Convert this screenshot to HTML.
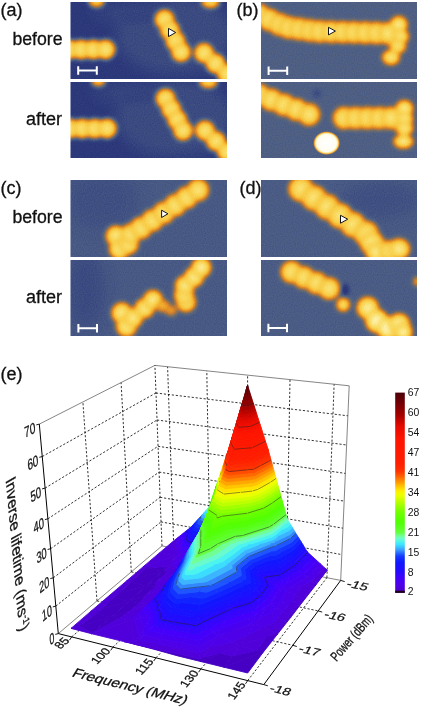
<!DOCTYPE html>
<html><head><meta charset="utf-8"><style>
html,body{margin:0;padding:0;background:#fff;width:422px;height:709px;overflow:hidden}
svg{display:block;position:absolute;left:0;top:0;will-change:transform}
text{font-family:"Liberation Sans",sans-serif; fill:#111;stroke:#111;stroke-width:0.3px}
</style></head><body>
<svg width="422" height="709" viewBox="0 0 422 709">
<defs>
<filter id="stm" color-interpolation-filters="sRGB"><feGaussianBlur in="SourceGraphic" stdDeviation="2.4" result="bl"/><feTurbulence type="fractalNoise" baseFrequency="0.9" numOctaves="1" seed="3" result="n"/><feColorMatrix in="n" type="matrix" values="0 0 0 0 0.5  0 0 0 0 0.5  0 0 0 0 0.5  0 0 0 0 1" result="n0"/><feColorMatrix in="n" type="matrix" values="1 0 0 0 0  1 0 0 0 0  1 0 0 0 0  0 0 0 0 1" result="ng"/><feComposite in="bl" in2="ng" operator="arithmetic" k1="0" k2="1" k3="0.09" k4="-0.045" result="s"/><feComponentTransfer in="s"><feFuncR type="table" tableValues="0.125 0.196 0.306 0.490 0.753 0.902 0.957 0.973 0.980 0.992 1.000"/><feFuncG type="table" tableValues="0.157 0.251 0.376 0.439 0.478 0.569 0.698 0.800 0.863 0.933 1.000"/><feFuncB type="table" tableValues="0.439 0.494 0.525 0.376 0.204 0.149 0.188 0.282 0.392 0.627 0.980"/></feComponentTransfer></filter>
<filter id="soft" x="-50%" y="-50%" width="200%" height="200%"><feGaussianBlur stdDeviation="7"/></filter>
<clipPath id="cpab"><rect x="70.5" y="2" width="156.5" height="77"/></clipPath>
<clipPath id="cpaa"><rect x="70.5" y="82" width="156.5" height="76"/></clipPath>
<clipPath id="cpbb"><rect x="261" y="2" width="156" height="77"/></clipPath>
<clipPath id="cpba"><rect x="261" y="82" width="156" height="76"/></clipPath>
<clipPath id="cpcb"><rect x="70.5" y="180" width="156.5" height="77"/></clipPath>
<clipPath id="cpca"><rect x="70.5" y="260" width="156.5" height="76"/></clipPath>
<clipPath id="cpdb"><rect x="261" y="180" width="156" height="77"/></clipPath>
<clipPath id="cpda"><rect x="261" y="260" width="156" height="76"/></clipPath>
<radialGradient id="bg056"><stop offset="0" stop-color="rgb(156,156,156)"/><stop offset="0.4" stop-color="rgb(140,140,140)"/><stop offset="0.75" stop-color="rgb(120,120,120)"/><stop offset="1" stop-color="rgb(103,103,103)"/></radialGradient>
<radialGradient id="bg062"><stop offset="0" stop-color="rgb(172,172,172)"/><stop offset="0.4" stop-color="rgb(155,155,155)"/><stop offset="0.75" stop-color="rgb(133,133,133)"/><stop offset="1" stop-color="rgb(114,114,114)"/></radialGradient>
<radialGradient id="bg070"><stop offset="0" stop-color="rgb(195,195,195)"/><stop offset="0.4" stop-color="rgb(175,175,175)"/><stop offset="0.75" stop-color="rgb(150,150,150)"/><stop offset="1" stop-color="rgb(129,129,129)"/></radialGradient>
<radialGradient id="bg072"><stop offset="0" stop-color="rgb(200,200,200)"/><stop offset="0.4" stop-color="rgb(180,180,180)"/><stop offset="0.75" stop-color="rgb(154,154,154)"/><stop offset="1" stop-color="rgb(132,132,132)"/></radialGradient>
<radialGradient id="bg074"><stop offset="0" stop-color="rgb(206,206,206)"/><stop offset="0.4" stop-color="rgb(185,185,185)"/><stop offset="0.75" stop-color="rgb(159,159,159)"/><stop offset="1" stop-color="rgb(136,136,136)"/></radialGradient>
<radialGradient id="bg080"><stop offset="0" stop-color="rgb(222,222,222)"/><stop offset="0.4" stop-color="rgb(200,200,200)"/><stop offset="0.75" stop-color="rgb(171,171,171)"/><stop offset="1" stop-color="rgb(147,147,147)"/></radialGradient>
<radialGradient id="bg082"><stop offset="0" stop-color="rgb(228,228,228)"/><stop offset="0.4" stop-color="rgb(205,205,205)"/><stop offset="0.75" stop-color="rgb(176,176,176)"/><stop offset="1" stop-color="rgb(151,151,151)"/></radialGradient>
<radialGradient id="bg084"><stop offset="0" stop-color="rgb(233,233,233)"/><stop offset="0.4" stop-color="rgb(210,210,210)"/><stop offset="0.75" stop-color="rgb(180,180,180)"/><stop offset="1" stop-color="rgb(154,154,154)"/></radialGradient>
<radialGradient id="bg085"><stop offset="0" stop-color="rgb(236,236,236)"/><stop offset="0.4" stop-color="rgb(212,212,212)"/><stop offset="0.75" stop-color="rgb(182,182,182)"/><stop offset="1" stop-color="rgb(156,156,156)"/></radialGradient>
<radialGradient id="bg086"><stop offset="0" stop-color="rgb(239,239,239)"/><stop offset="0.4" stop-color="rgb(215,215,215)"/><stop offset="0.75" stop-color="rgb(184,184,184)"/><stop offset="1" stop-color="rgb(158,158,158)"/></radialGradient>
<radialGradient id="bg087"><stop offset="0" stop-color="rgb(242,242,242)"/><stop offset="0.4" stop-color="rgb(217,217,217)"/><stop offset="0.75" stop-color="rgb(186,186,186)"/><stop offset="1" stop-color="rgb(160,160,160)"/></radialGradient>
<radialGradient id="bg088"><stop offset="0" stop-color="rgb(245,245,245)"/><stop offset="0.4" stop-color="rgb(220,220,220)"/><stop offset="0.75" stop-color="rgb(188,188,188)"/><stop offset="1" stop-color="rgb(162,162,162)"/></radialGradient>
<radialGradient id="bg090"><stop offset="0" stop-color="rgb(250,250,250)"/><stop offset="0.4" stop-color="rgb(225,225,225)"/><stop offset="0.75" stop-color="rgb(193,193,193)"/><stop offset="1" stop-color="rgb(165,165,165)"/></radialGradient>
<radialGradient id="bg093"><stop offset="0" stop-color="rgb(258,258,258)"/><stop offset="0.4" stop-color="rgb(232,232,232)"/><stop offset="0.75" stop-color="rgb(199,199,199)"/><stop offset="1" stop-color="rgb(171,171,171)"/></radialGradient>
<radialGradient id="bg095"><stop offset="0" stop-color="rgb(264,264,264)"/><stop offset="0.4" stop-color="rgb(237,237,237)"/><stop offset="0.75" stop-color="rgb(203,203,203)"/><stop offset="1" stop-color="rgb(174,174,174)"/></radialGradient>
</defs>
<g clip-path="url(#cpab)"><g filter="url(#stm)">
<rect x="62" y="-6" width="172" height="93" fill="rgb(18,18,18)"/>
<g filter="url(#soft)">
<ellipse cx="175.0" cy="35.0" rx="60.0" ry="40.0" fill="rgb(34,34,34)"/>
<ellipse cx="130.0" cy="12.0" rx="40.0" ry="12.0" fill="rgb(31,31,31)"/>
</g>
<ellipse cx="69.0" cy="49.5" rx="9.9" ry="9.9" fill="url(#bg082)"/>
<ellipse cx="81.2" cy="49.5" rx="9.9" ry="9.9" fill="url(#bg082)"/>
<ellipse cx="93.3" cy="49.5" rx="9.9" ry="9.9" fill="url(#bg082)"/>
<ellipse cx="105.5" cy="49.5" rx="9.9" ry="9.9" fill="url(#bg082)"/>
<ellipse cx="96.5" cy="1.0" rx="8.3" ry="6.2" fill="url(#bg072)"/>
<ellipse cx="164.5" cy="19.5" rx="9.9" ry="9.9" fill="url(#bg082)"/>
<ellipse cx="170.0" cy="30.3" rx="9.9" ry="9.9" fill="url(#bg082)"/>
<ellipse cx="175.5" cy="41.2" rx="9.9" ry="9.9" fill="url(#bg082)"/>
<ellipse cx="181.0" cy="52.0" rx="9.9" ry="9.9" fill="url(#bg082)"/>
<ellipse cx="210.5" cy="2.0" rx="9.4" ry="6.2" fill="url(#bg074)"/>
<ellipse cx="204.0" cy="53.0" rx="9.9" ry="9.9" fill="url(#bg082)"/>
<ellipse cx="215.5" cy="63.5" rx="9.9" ry="9.9" fill="url(#bg082)"/>
<ellipse cx="227.0" cy="74.0" rx="9.9" ry="9.9" fill="url(#bg082)"/>
</g></g>
<g clip-path="url(#cpaa)"><g filter="url(#stm)">
<rect x="62" y="74" width="172" height="92" fill="rgb(18,18,18)"/>
<g filter="url(#soft)">
<ellipse cx="175.0" cy="118.0" rx="60.0" ry="40.0" fill="rgb(36,36,36)"/>
<ellipse cx="130.0" cy="92.0" rx="40.0" ry="12.0" fill="rgb(31,31,31)"/>
</g>
<ellipse cx="70.0" cy="128.5" rx="9.9" ry="9.9" fill="url(#bg082)"/>
<ellipse cx="82.3" cy="128.5" rx="9.9" ry="9.9" fill="url(#bg082)"/>
<ellipse cx="94.7" cy="128.5" rx="9.9" ry="9.9" fill="url(#bg082)"/>
<ellipse cx="107.0" cy="128.5" rx="9.9" ry="9.9" fill="url(#bg082)"/>
<ellipse cx="98.4" cy="81.0" rx="7.3" ry="5.2" fill="url(#bg070)"/>
<ellipse cx="165.5" cy="98.5" rx="9.9" ry="9.9" fill="url(#bg082)"/>
<ellipse cx="171.3" cy="109.2" rx="9.9" ry="9.9" fill="url(#bg082)"/>
<ellipse cx="177.2" cy="119.8" rx="9.9" ry="9.9" fill="url(#bg082)"/>
<ellipse cx="183.0" cy="130.5" rx="9.9" ry="9.9" fill="url(#bg082)"/>
<ellipse cx="208.4" cy="82.0" rx="9.4" ry="6.2" fill="url(#bg074)"/>
<ellipse cx="205.0" cy="130.5" rx="9.9" ry="9.9" fill="url(#bg082)"/>
<ellipse cx="216.0" cy="141.2" rx="9.9" ry="9.9" fill="url(#bg082)"/>
<ellipse cx="227.0" cy="152.0" rx="9.9" ry="9.9" fill="url(#bg082)"/>
</g></g>
<g clip-path="url(#cpbb)"><g filter="url(#stm)">
<rect x="253" y="-6" width="172" height="93" fill="rgb(51,51,51)"/>
<ellipse cx="259.0" cy="15.0" rx="10.9" ry="10.9" fill="url(#bg082)"/>
<ellipse cx="269.4" cy="19.8" rx="10.9" ry="10.9" fill="url(#bg082)"/>
<ellipse cx="279.7" cy="24.5" rx="10.9" ry="10.9" fill="url(#bg082)"/>
<ellipse cx="289.0" cy="27.5" rx="10.9" ry="10.9" fill="url(#bg082)"/>
<ellipse cx="299.5" cy="29.0" rx="10.9" ry="10.9" fill="url(#bg082)"/>
<ellipse cx="310.0" cy="30.5" rx="10.9" ry="10.9" fill="url(#bg082)"/>
<ellipse cx="320.0" cy="31.5" rx="10.9" ry="10.9" fill="url(#bg082)"/>
<ellipse cx="331.3" cy="31.8" rx="10.9" ry="10.9" fill="url(#bg082)"/>
<ellipse cx="342.7" cy="32.1" rx="10.9" ry="10.9" fill="url(#bg082)"/>
<ellipse cx="354.0" cy="32.4" rx="10.9" ry="10.9" fill="url(#bg082)"/>
<ellipse cx="365.3" cy="32.7" rx="10.9" ry="10.9" fill="url(#bg082)"/>
<ellipse cx="376.7" cy="33.0" rx="10.9" ry="10.9" fill="url(#bg082)"/>
<ellipse cx="388.0" cy="33.3" rx="10.9" ry="10.9" fill="url(#bg082)"/>
<ellipse cx="398.7" cy="24.5" rx="8.8" ry="8.3" fill="url(#bg086)"/>
<ellipse cx="400.5" cy="36.5" rx="8.3" ry="7.3" fill="url(#bg084)"/>
<ellipse cx="397.7" cy="46.0" rx="8.3" ry="7.3" fill="url(#bg082)"/>
<ellipse cx="391.0" cy="57.5" rx="8.8" ry="7.3" fill="url(#bg084)"/>
</g></g>
<g clip-path="url(#cpba)"><g filter="url(#stm)">
<rect x="253" y="74" width="172" height="92" fill="rgb(51,51,51)"/>
<ellipse cx="317.0" cy="93.5" rx="3.5" ry="3.5" fill="rgb(26,26,26)"/>
<ellipse cx="259.0" cy="95.0" rx="10.9" ry="10.9" fill="url(#bg082)"/>
<ellipse cx="271.5" cy="99.9" rx="10.9" ry="10.9" fill="url(#bg082)"/>
<ellipse cx="284.0" cy="104.8" rx="10.9" ry="10.9" fill="url(#bg082)"/>
<ellipse cx="296.5" cy="109.6" rx="10.9" ry="10.9" fill="url(#bg082)"/>
<ellipse cx="309.0" cy="114.5" rx="10.9" ry="10.9" fill="url(#bg082)"/>
<ellipse cx="344.0" cy="118.0" rx="10.9" ry="10.9" fill="url(#bg082)"/>
<ellipse cx="355.8" cy="118.0" rx="10.9" ry="10.9" fill="url(#bg082)"/>
<ellipse cx="367.5" cy="118.0" rx="10.9" ry="10.9" fill="url(#bg082)"/>
<ellipse cx="379.2" cy="118.0" rx="10.9" ry="10.9" fill="url(#bg082)"/>
<ellipse cx="391.0" cy="118.0" rx="10.9" ry="10.9" fill="url(#bg082)"/>
<ellipse cx="404.4" cy="108.5" rx="8.8" ry="8.3" fill="url(#bg086)"/>
<ellipse cx="404.4" cy="119.0" rx="8.8" ry="7.3" fill="url(#bg085)"/>
<ellipse cx="404.4" cy="128.4" rx="8.8" ry="7.3" fill="url(#bg084)"/>
<ellipse cx="403.4" cy="141.5" rx="9.9" ry="6.8" fill="url(#bg086)"/>
</g></g>
<g clip-path="url(#cpcb)"><g filter="url(#stm)">
<rect x="62" y="172" width="172" height="93" fill="rgb(46,46,46)"/>
<g filter="url(#soft)">
<ellipse cx="100.0" cy="200.0" rx="40.0" ry="30.0" fill="rgb(38,38,38)"/>
</g>
<ellipse cx="116.0" cy="236.0" rx="10.4" ry="10.4" fill="url(#bg084)"/>
<ellipse cx="119.5" cy="249.0" rx="10.4" ry="10.4" fill="url(#bg086)"/>
<ellipse cx="128.0" cy="244.0" rx="10.4" ry="10.4" fill="url(#bg084)"/>
<ellipse cx="131.0" cy="234.0" rx="10.4" ry="10.4" fill="url(#bg084)"/>
<ellipse cx="141.0" cy="228.0" rx="10.9" ry="10.9" fill="url(#bg082)"/>
<ellipse cx="152.4" cy="220.4" rx="10.9" ry="10.9" fill="url(#bg082)"/>
<ellipse cx="163.8" cy="212.8" rx="10.9" ry="10.9" fill="url(#bg082)"/>
<ellipse cx="175.2" cy="205.2" rx="10.9" ry="10.9" fill="url(#bg082)"/>
<ellipse cx="186.6" cy="197.6" rx="10.9" ry="10.9" fill="url(#bg082)"/>
<ellipse cx="198.0" cy="190.0" rx="10.9" ry="10.9" fill="url(#bg082)"/>
</g></g>
<g clip-path="url(#cpca)"><g filter="url(#stm)">
<rect x="62" y="252" width="172" height="92" fill="rgb(46,46,46)"/>
<g filter="url(#soft)">
<ellipse cx="85.0" cy="290.0" rx="20.0" ry="40.0" fill="rgb(33,33,33)"/>
</g>
<ellipse cx="121.8" cy="313.0" rx="10.4" ry="10.4" fill="url(#bg085)"/>
<ellipse cx="126.5" cy="326.4" rx="10.4" ry="10.4" fill="url(#bg085)"/>
<ellipse cx="133.0" cy="318.0" rx="9.9" ry="9.9" fill="url(#bg084)"/>
<ellipse cx="144.5" cy="308.3" rx="9.9" ry="9.9" fill="url(#bg084)"/>
<ellipse cx="153.0" cy="300.0" rx="9.9" ry="9.9" fill="url(#bg085)"/>
<ellipse cx="163.0" cy="306.0" rx="7.3" ry="6.2" fill="url(#bg062)"/>
<ellipse cx="171.0" cy="310.5" rx="6.2" ry="5.2" fill="url(#bg056)"/>
<ellipse cx="186.0" cy="302.0" rx="9.9" ry="9.9" fill="url(#bg084)"/>
<ellipse cx="184.0" cy="295.0" rx="9.9" ry="9.9" fill="url(#bg084)"/>
<ellipse cx="185.0" cy="285.5" rx="9.9" ry="9.9" fill="url(#bg085)"/>
<ellipse cx="194.0" cy="277.0" rx="9.9" ry="9.9" fill="url(#bg086)"/>
<ellipse cx="201.3" cy="267.5" rx="9.9" ry="9.9" fill="url(#bg087)"/>
</g></g>
<g clip-path="url(#cpdb)"><g filter="url(#stm)">
<rect x="253" y="172" width="172" height="93" fill="rgb(48,48,48)"/>
<g filter="url(#soft)">
<ellipse cx="380.0" cy="200.0" rx="40.0" ry="20.0" fill="rgb(38,38,38)"/>
</g>
<ellipse cx="301.0" cy="189.0" rx="12.5" ry="12.5" fill="url(#bg082)"/>
<ellipse cx="314.0" cy="197.9" rx="12.5" ry="12.5" fill="url(#bg082)"/>
<ellipse cx="327.0" cy="206.8" rx="12.5" ry="12.5" fill="url(#bg082)"/>
<ellipse cx="340.0" cy="215.7" rx="12.5" ry="12.5" fill="url(#bg082)"/>
<ellipse cx="353.0" cy="224.6" rx="12.5" ry="12.5" fill="url(#bg082)"/>
<ellipse cx="366.0" cy="233.5" rx="12.5" ry="12.5" fill="url(#bg082)"/>
<ellipse cx="372.0" cy="243.0" rx="12.0" ry="11.4" fill="url(#bg086)"/>
<ellipse cx="377.0" cy="252.0" rx="11.4" ry="10.4" fill="url(#bg086)"/>
<ellipse cx="390.0" cy="251.0" rx="11.4" ry="10.4" fill="url(#bg085)"/>
<ellipse cx="399.0" cy="249.0" rx="10.9" ry="10.4" fill="url(#bg085)"/>
</g></g>
<g clip-path="url(#cpda)"><g filter="url(#stm)">
<rect x="253" y="252" width="172" height="92" fill="rgb(48,48,48)"/>
<ellipse cx="345.0" cy="290.0" rx="3.2" ry="6.0" fill="rgb(0,0,0)"/>
<ellipse cx="291.5" cy="272.0" rx="10.9" ry="10.9" fill="url(#bg082)"/>
<ellipse cx="304.0" cy="277.5" rx="10.9" ry="10.9" fill="url(#bg082)"/>
<ellipse cx="316.5" cy="283.0" rx="10.9" ry="10.9" fill="url(#bg082)"/>
<ellipse cx="329.0" cy="288.5" rx="10.9" ry="10.9" fill="url(#bg082)"/>
<ellipse cx="343.2" cy="304.6" rx="6.8" ry="6.8" fill="url(#bg080)"/>
<ellipse cx="367.7" cy="308.0" rx="10.9" ry="10.9" fill="url(#bg087)"/>
<ellipse cx="377.0" cy="321.0" rx="11.4" ry="11.4" fill="url(#bg093)"/>
<ellipse cx="388.0" cy="328.0" rx="11.4" ry="11.4" fill="url(#bg095)"/>
<ellipse cx="399.0" cy="324.5" rx="10.9" ry="10.9" fill="url(#bg090)"/>
<ellipse cx="403.0" cy="332.0" rx="9.4" ry="9.4" fill="url(#bg088)"/>
<ellipse cx="417.0" cy="281.5" rx="3.1" ry="4.2" fill="url(#bg070)"/>
</g></g>
<defs><radialGradient id="wb"><stop offset="0" stop-color="#fff"/><stop offset="0.72" stop-color="#fffdf0"/><stop offset="0.82" stop-color="#fce890"/><stop offset="0.9" stop-color="#eca035"/><stop offset="1" stop-color="#b08050" stop-opacity="0"/></radialGradient></defs>
<ellipse cx="326.6" cy="143.1" rx="13.6" ry="12" fill="url(#wb)" clip-path="url(#cpba)"/>
<path d="M168.5 28.4L175.7 32.5L168.5 36.6Z" fill="#fff" stroke="#111" stroke-width="1" stroke-linejoin="miter"/>
<path d="M328.5 27.3L335.4 31.1L328.5 34.9Z" fill="#fff" stroke="#111" stroke-width="1" stroke-linejoin="miter"/>
<path d="M161.6 210.2L167.9 213.8L161.6 217.5Z" fill="#fff" stroke="#111" stroke-width="1" stroke-linejoin="miter"/>
<path d="M340.5 215.3L347.7 219.2L340.5 223.2Z" fill="#fff" stroke="#111" stroke-width="1" stroke-linejoin="miter"/>
<path d="M77.5 70.5h20M78.2 66.3v8.4M96.8 66.3v8.4" stroke="#fff" stroke-width="2" fill="none"/>
<path d="M267.9 70.8h20M268.6 66.6v8.4M287.2 66.6v8.4" stroke="#fff" stroke-width="2" fill="none"/>
<path d="M77.7 328.3h20M78.4 324.1v8.4M97.0 324.1v8.4" stroke="#fff" stroke-width="2" fill="none"/>
<path d="M267.7 328.0h20M268.4 323.8v8.4M287.0 323.8v8.4" stroke="#fff" stroke-width="2" fill="none"/>
<text x="0.4" y="15.5" font-size="18" text-anchor="start" >(a)</text>
<text x="236.4" y="15.5" font-size="18" text-anchor="start" >(b)</text>
<text x="0.4" y="193.5" font-size="18" text-anchor="start" >(c)</text>
<text x="239.4" y="193.5" font-size="18" text-anchor="start" >(d)</text>
<text x="0.4" y="379.5" font-size="18" text-anchor="start" >(e)</text>
<text x="62.6" y="44.6" font-size="17.7" text-anchor="end" >before</text>
<text x="62.0" y="124.8" font-size="18" text-anchor="end" >after</text>
<text x="62.6" y="223.0" font-size="17.7" text-anchor="end" >before</text>
<text x="62.0" y="302.8" font-size="18" text-anchor="end" >after</text>
<line x1="55.8" y1="606.1" x2="161.0" y2="521.9" stroke="#000" stroke-width="0.8" stroke-dasharray="2.2,1.8"/>
<line x1="161.0" y1="521.9" x2="341.8" y2="554.6" stroke="#000" stroke-width="0.8" stroke-dasharray="2.2,1.8"/>
<line x1="53.3" y1="577.8" x2="160.1" y2="497.3" stroke="#000" stroke-width="0.8" stroke-dasharray="2.2,1.8"/>
<line x1="160.1" y1="497.3" x2="343.0" y2="528.2" stroke="#000" stroke-width="0.8" stroke-dasharray="2.2,1.8"/>
<line x1="50.6" y1="548.7" x2="159.1" y2="472.1" stroke="#000" stroke-width="0.8" stroke-dasharray="2.2,1.8"/>
<line x1="159.1" y1="472.1" x2="344.1" y2="501.1" stroke="#000" stroke-width="0.8" stroke-dasharray="2.2,1.8"/>
<line x1="47.9" y1="518.8" x2="158.0" y2="446.3" stroke="#000" stroke-width="0.8" stroke-dasharray="2.2,1.8"/>
<line x1="158.0" y1="446.3" x2="345.3" y2="473.4" stroke="#000" stroke-width="0.8" stroke-dasharray="2.2,1.8"/>
<line x1="45.1" y1="488.1" x2="157.0" y2="420.0" stroke="#000" stroke-width="0.8" stroke-dasharray="2.2,1.8"/>
<line x1="157.0" y1="420.0" x2="346.6" y2="445.0" stroke="#000" stroke-width="0.8" stroke-dasharray="2.2,1.8"/>
<line x1="42.3" y1="456.5" x2="155.9" y2="393.0" stroke="#000" stroke-width="0.8" stroke-dasharray="2.2,1.8"/>
<line x1="155.9" y1="393.0" x2="347.9" y2="415.8" stroke="#000" stroke-width="0.8" stroke-dasharray="2.2,1.8"/>
<line x1="97.0" y1="600.9" x2="82.9" y2="402.0" stroke="#000" stroke-width="0.8" stroke-dasharray="2.2,1.8"/>
<line x1="131.3" y1="571.9" x2="121.1" y2="382.6" stroke="#000" stroke-width="0.8" stroke-dasharray="2.2,1.8"/>
<line x1="173.8" y1="548.2" x2="167.6" y2="366.8" stroke="#000" stroke-width="0.8" stroke-dasharray="2.2,1.8"/>
<line x1="210.0" y1="555.2" x2="206.8" y2="370.9" stroke="#000" stroke-width="0.8" stroke-dasharray="2.2,1.8"/>
<line x1="247.6" y1="562.5" x2="247.6" y2="375.2" stroke="#000" stroke-width="0.8" stroke-dasharray="2.2,1.8"/>
<line x1="286.5" y1="570.0" x2="290.0" y2="379.6" stroke="#000" stroke-width="0.8" stroke-dasharray="2.2,1.8"/>
<line x1="326.9" y1="577.7" x2="334.1" y2="384.3" stroke="#000" stroke-width="0.8" stroke-dasharray="2.2,1.8"/>
<line x1="71.7" y1="636.9" x2="173.8" y2="548.2" stroke="#000" stroke-width="0.8" stroke-dasharray="2.2,1.8"/>
<line x1="112.9" y1="647.2" x2="210.0" y2="555.2" stroke="#000" stroke-width="0.8" stroke-dasharray="2.2,1.8"/>
<line x1="155.9" y1="657.8" x2="247.6" y2="562.5" stroke="#000" stroke-width="0.8" stroke-dasharray="2.2,1.8"/>
<line x1="200.8" y1="669.0" x2="286.5" y2="570.0" stroke="#000" stroke-width="0.8" stroke-dasharray="2.2,1.8"/>
<line x1="247.7" y1="680.6" x2="326.9" y2="577.7" stroke="#000" stroke-width="0.8" stroke-dasharray="2.2,1.8"/>
<line x1="97.0" y1="600.9" x2="292.8" y2="645.3" stroke="#000" stroke-width="0.8" stroke-dasharray="2.2,1.8"/>
<line x1="131.3" y1="571.9" x2="318.2" y2="610.9" stroke="#000" stroke-width="0.8" stroke-dasharray="2.2,1.8"/>
<line x1="39.3" y1="424.1" x2="154.9" y2="365.4" stroke="#333" stroke-width="0.6"/>
<line x1="154.9" y1="365.4" x2="349.2" y2="385.8" stroke="#333" stroke-width="0.6"/>
<line x1="162.0" y1="545.9" x2="154.9" y2="365.4" stroke="#000" stroke-width="0.8" stroke-dasharray="2.2,1.8"/>
<line x1="340.7" y1="580.4" x2="349.2" y2="385.8" stroke="#333" stroke-width="0.6"/>
<line x1="162.0" y1="545.9" x2="340.7" y2="580.4" stroke="#333" stroke-width="0.6"/>
<line x1="58.3" y1="633.6" x2="162.0" y2="545.9" stroke="#333" stroke-width="0.6"/>
<polygon points="177.1,554.9 177.2,554.7 175.9,539.1 173.5,541.0" fill="#5000db" stroke="#5000db" stroke-width="0.9" stroke-linejoin="round"/>
<polygon points="177.2,554.7 179.6,550.1 178.4,537.1 175.9,539.1" fill="#4e00e8" stroke="#4e00e8" stroke-width="0.9" stroke-linejoin="round"/>
<polygon points="179.6,550.1 181.8,545.5 180.9,535.2 178.4,537.1" fill="#4900f1" stroke="#4900f1" stroke-width="0.9" stroke-linejoin="round"/>
<polygon points="181.8,545.5 184.1,541.0 183.3,533.2 180.9,535.2" fill="#4400fa" stroke="#4400fa" stroke-width="0.9" stroke-linejoin="round"/>
<polygon points="184.1,541.0 186.4,536.5 185.8,531.2 183.3,533.2" fill="#3704fc" stroke="#3704fc" stroke-width="0.9" stroke-linejoin="round"/>
<polygon points="186.4,536.5 188.6,532.0 188.3,529.3 185.8,531.2" fill="#2a08fe" stroke="#2a08fe" stroke-width="0.9" stroke-linejoin="round"/>
<polygon points="188.6,532.0 190.9,527.6 190.8,527.3 188.3,529.3" fill="#200cff" stroke="#200cff" stroke-width="0.9" stroke-linejoin="round"/>
<polygon points="190.9,527.6 191.1,527.0 190.8,527.3" fill="#1c10ff" stroke="#1c10ff" stroke-width="0.9" stroke-linejoin="round"/>
<line x1="187.5" y1="534.2" x2="187.1" y2="530.3" stroke="#222" stroke-width="0.5"/>
<polygon points="158.8,553.4 177.1,554.9 173.5,541.0" fill="#5000db" stroke="#5000db" stroke-width="0.9" stroke-linejoin="round"/>
<polygon points="177.1,554.9 177.2,554.7 177.2,554.7" fill="#4f00e1" stroke="#4f00e1" stroke-width="0.9" stroke-linejoin="round"/>
<polygon points="177.2,554.7 179.3,551.6 179.6,550.1 177.2,554.7" fill="#4e00e8" stroke="#4e00e8" stroke-width="0.9" stroke-linejoin="round"/>
<polygon points="179.3,551.6 181.4,548.5 181.8,545.5 179.6,550.1" fill="#4900f1" stroke="#4900f1" stroke-width="0.9" stroke-linejoin="round"/>
<polygon points="181.4,548.5 183.4,545.4 184.1,541.0 181.8,545.5" fill="#4400fa" stroke="#4400fa" stroke-width="0.9" stroke-linejoin="round"/>
<polygon points="183.4,545.4 185.5,542.4 186.4,536.5 184.1,541.0" fill="#3704fc" stroke="#3704fc" stroke-width="0.9" stroke-linejoin="round"/>
<polygon points="185.5,542.4 187.6,539.3 188.6,532.0 186.4,536.5" fill="#2a08fe" stroke="#2a08fe" stroke-width="0.9" stroke-linejoin="round"/>
<polygon points="187.6,539.3 189.6,536.2 190.9,527.6 188.6,532.0" fill="#200cff" stroke="#200cff" stroke-width="0.9" stroke-linejoin="round"/>
<polygon points="189.6,536.2 191.7,533.1 192.8,525.2 191.1,527.0 190.9,527.6" fill="#1912ff" stroke="#1912ff" stroke-width="0.9" stroke-linejoin="round"/>
<polygon points="191.7,533.1 193.8,530.0 194.7,523.0 192.8,525.2" fill="#1216ff" stroke="#1216ff" stroke-width="0.9" stroke-linejoin="round"/>
<polygon points="193.8,530.0 195.8,526.9 196.6,520.9 194.7,523.0" fill="#1022ff" stroke="#1022ff" stroke-width="0.9" stroke-linejoin="round"/>
<polygon points="195.8,526.9 197.9,523.8 198.5,518.8 196.6,520.9" fill="#1333ff" stroke="#1333ff" stroke-width="0.9" stroke-linejoin="round"/>
<polygon points="197.9,523.8 200.0,520.7 200.5,516.6 198.5,518.8" fill="#1e55ff" stroke="#1e55ff" stroke-width="0.9" stroke-linejoin="round"/>
<polygon points="200.0,520.7 202.0,517.6 202.4,514.5 200.5,516.6" fill="#3287ff" stroke="#3287ff" stroke-width="0.9" stroke-linejoin="round"/>
<polygon points="202.0,517.6 204.1,514.5 204.4,512.3 202.4,514.5" fill="#3cb4ff" stroke="#3cb4ff" stroke-width="0.9" stroke-linejoin="round"/>
<polygon points="204.1,514.5 206.2,511.5 206.3,510.1 204.4,512.3" fill="#3cdcff" stroke="#3cdcff" stroke-width="0.9" stroke-linejoin="round"/>
<polygon points="206.2,511.5 208.2,508.4 208.3,507.9 206.3,510.1" fill="#4bf4ef" stroke="#4bf4ef" stroke-width="0.9" stroke-linejoin="round"/>
<polygon points="208.2,508.4 209.2,506.9 208.3,507.9" fill="#68fbcf" stroke="#68fbcf" stroke-width="0.9" stroke-linejoin="round"/>
<line x1="186.5" y1="540.8" x2="187.5" y2="534.2" stroke="#222" stroke-width="0.5"/>
<line x1="200.0" y1="520.7" x2="200.5" y2="516.6" stroke="#222" stroke-width="0.5"/>
<polygon points="143.2,566.7 177.1,554.9 158.8,553.4" fill="#5000db" stroke="#5000db" stroke-width="0.9" stroke-linejoin="round"/>
<polygon points="177.1,554.9 177.4,554.8 177.2,554.7" fill="#4f00e1" stroke="#4f00e1" stroke-width="0.9" stroke-linejoin="round"/>
<polygon points="177.4,554.8 183.5,553.5 179.3,551.6 177.2,554.7" fill="#4e00e8" stroke="#4e00e8" stroke-width="0.9" stroke-linejoin="round"/>
<polygon points="183.5,553.5 189.6,552.2 181.4,548.5 179.3,551.6" fill="#4900f1" stroke="#4900f1" stroke-width="0.9" stroke-linejoin="round"/>
<polygon points="189.6,552.2 195.7,550.9 195.7,550.9 183.4,545.4 181.4,548.5" fill="#4400fa" stroke="#4400fa" stroke-width="0.9" stroke-linejoin="round"/>
<polygon points="195.7,550.9 195.7,550.9 196.8,547.3 185.5,542.4 183.4,545.4" fill="#3704fc" stroke="#3704fc" stroke-width="0.9" stroke-linejoin="round"/>
<polygon points="196.8,547.3 197.9,543.8 187.6,539.3 185.5,542.4" fill="#2a08fe" stroke="#2a08fe" stroke-width="0.9" stroke-linejoin="round"/>
<polygon points="197.9,543.8 199.0,540.2 189.6,536.2 187.6,539.3" fill="#200cff" stroke="#200cff" stroke-width="0.9" stroke-linejoin="round"/>
<polygon points="199.0,540.2 200.1,536.7 191.7,533.1 189.6,536.2" fill="#1912ff" stroke="#1912ff" stroke-width="0.9" stroke-linejoin="round"/>
<polygon points="200.1,536.7 201.2,533.1 193.8,530.0 191.7,533.1" fill="#1216ff" stroke="#1216ff" stroke-width="0.9" stroke-linejoin="round"/>
<polygon points="201.2,533.1 202.2,529.6 195.8,526.9 193.8,530.0" fill="#1022ff" stroke="#1022ff" stroke-width="0.9" stroke-linejoin="round"/>
<polygon points="202.2,529.6 203.3,526.1 197.9,523.8 195.8,526.9" fill="#1333ff" stroke="#1333ff" stroke-width="0.9" stroke-linejoin="round"/>
<polygon points="203.3,526.1 204.4,522.5 200.0,520.7 197.9,523.8" fill="#1e55ff" stroke="#1e55ff" stroke-width="0.9" stroke-linejoin="round"/>
<polygon points="204.4,522.5 205.5,519.0 202.0,517.6 200.0,520.7" fill="#3287ff" stroke="#3287ff" stroke-width="0.9" stroke-linejoin="round"/>
<polygon points="205.5,519.0 206.6,515.5 204.1,514.5 202.0,517.6" fill="#3cb4ff" stroke="#3cb4ff" stroke-width="0.9" stroke-linejoin="round"/>
<polygon points="206.6,515.5 207.6,512.0 206.2,511.5 204.1,514.5" fill="#3cdcff" stroke="#3cdcff" stroke-width="0.9" stroke-linejoin="round"/>
<polygon points="207.6,512.0 208.7,508.5 208.2,508.4 206.2,511.5" fill="#4bf4ef" stroke="#4bf4ef" stroke-width="0.9" stroke-linejoin="round"/>
<polygon points="208.7,508.5 209.2,506.9 208.2,508.4" fill="#68fbcf" stroke="#68fbcf" stroke-width="0.9" stroke-linejoin="round"/>
<line x1="197.4" y1="545.5" x2="186.5" y2="540.8" stroke="#222" stroke-width="0.5"/>
<line x1="204.4" y1="522.5" x2="200.0" y2="520.7" stroke="#222" stroke-width="0.5"/>
<polygon points="162.1,571.8 165.2,569.9 166.6,566.7" fill="#4600c3" stroke="#4600c3" stroke-width="0.9" stroke-linejoin="round"/>
<polygon points="165.2,569.9 172.9,565.1 177.4,554.8 177.1,554.9 166.6,566.7" fill="#5000db" stroke="#5000db" stroke-width="0.9" stroke-linejoin="round"/>
<polygon points="172.9,565.1 180.5,560.3 183.5,553.5 177.4,554.8" fill="#4e00e8" stroke="#4e00e8" stroke-width="0.9" stroke-linejoin="round"/>
<polygon points="180.5,560.3 188.1,555.6 189.6,552.2 183.5,553.5" fill="#4900f1" stroke="#4900f1" stroke-width="0.9" stroke-linejoin="round"/>
<polygon points="188.1,555.6 195.7,550.9 189.6,552.2" fill="#4400fa" stroke="#4400fa" stroke-width="0.9" stroke-linejoin="round"/>
<polygon points="146.7,567.6 162.1,571.8 166.6,566.7" fill="#4600c3" stroke="#4600c3" stroke-width="0.9" stroke-linejoin="round"/>
<polygon points="143.2,566.7 146.7,567.6 166.6,566.7 177.1,554.9" fill="#5000db" stroke="#5000db" stroke-width="0.9" stroke-linejoin="round"/>
<polygon points="195.7,550.9 196.6,548.1 196.8,547.3" fill="#3704fc" stroke="#3704fc" stroke-width="0.9" stroke-linejoin="round"/>
<polygon points="196.6,548.1 197.5,545.3 197.9,543.8 196.8,547.3" fill="#2a08fe" stroke="#2a08fe" stroke-width="0.9" stroke-linejoin="round"/>
<polygon points="197.5,545.3 198.4,542.5 199.0,540.2 197.9,543.8" fill="#200cff" stroke="#200cff" stroke-width="0.9" stroke-linejoin="round"/>
<polygon points="198.4,542.5 199.3,539.7 200.1,536.7 199.0,540.2" fill="#1912ff" stroke="#1912ff" stroke-width="0.9" stroke-linejoin="round"/>
<polygon points="199.3,539.7 200.3,536.9 201.2,533.1 200.1,536.7" fill="#1216ff" stroke="#1216ff" stroke-width="0.9" stroke-linejoin="round"/>
<polygon points="200.3,536.9 201.2,534.1 202.2,529.6 201.2,533.1" fill="#1022ff" stroke="#1022ff" stroke-width="0.9" stroke-linejoin="round"/>
<polygon points="201.2,534.1 202.1,531.2 203.3,526.1 202.2,529.6" fill="#1333ff" stroke="#1333ff" stroke-width="0.9" stroke-linejoin="round"/>
<polygon points="202.1,531.2 203.0,528.4 204.4,522.5 203.3,526.1" fill="#1e55ff" stroke="#1e55ff" stroke-width="0.9" stroke-linejoin="round"/>
<polygon points="203.0,528.4 203.9,525.6 205.5,519.0 204.4,522.5" fill="#3287ff" stroke="#3287ff" stroke-width="0.9" stroke-linejoin="round"/>
<polygon points="203.9,525.6 204.8,522.8 206.6,515.5 205.5,519.0" fill="#3cb4ff" stroke="#3cb4ff" stroke-width="0.9" stroke-linejoin="round"/>
<polygon points="204.8,522.8 205.8,519.9 207.6,512.0 206.6,515.5" fill="#3cdcff" stroke="#3cdcff" stroke-width="0.9" stroke-linejoin="round"/>
<polygon points="205.8,519.9 206.7,517.1 208.7,508.5 207.6,512.0" fill="#4bf4ef" stroke="#4bf4ef" stroke-width="0.9" stroke-linejoin="round"/>
<polygon points="206.7,517.1 207.6,514.3 209.6,505.6 209.2,506.9 208.7,508.5" fill="#69fbce" stroke="#69fbce" stroke-width="0.9" stroke-linejoin="round"/>
<polygon points="207.6,514.3 208.5,511.4 210.5,503.3 209.6,505.6" fill="#71ff93" stroke="#71ff93" stroke-width="0.9" stroke-linejoin="round"/>
<polygon points="208.5,511.4 209.4,508.6 211.3,500.8 210.5,503.3" fill="#64ff3c" stroke="#64ff3c" stroke-width="0.9" stroke-linejoin="round"/>
<polygon points="209.4,508.6 210.4,505.7 212.1,498.4 211.3,500.8" fill="#5eff2b" stroke="#5eff2b" stroke-width="0.9" stroke-linejoin="round"/>
<polygon points="210.4,505.7 211.3,502.9 212.9,496.0 212.1,498.4" fill="#59ff1a" stroke="#59ff1a" stroke-width="0.9" stroke-linejoin="round"/>
<polygon points="211.3,502.9 212.2,500.0 213.7,493.6 212.9,496.0" fill="#53ff09" stroke="#53ff09" stroke-width="0.9" stroke-linejoin="round"/>
<polygon points="212.2,500.0 213.1,497.2 214.6,491.1 213.7,493.6" fill="#55ff00" stroke="#55ff00" stroke-width="0.9" stroke-linejoin="round"/>
<polygon points="213.1,497.2 214.1,494.3 215.4,488.7 214.6,491.1" fill="#5fff00" stroke="#5fff00" stroke-width="0.9" stroke-linejoin="round"/>
<polygon points="214.1,494.3 215.0,491.4 216.2,486.2 215.4,488.7" fill="#69ff00" stroke="#69ff00" stroke-width="0.9" stroke-linejoin="round"/>
<polygon points="215.0,491.4 215.9,488.6 217.0,483.8 216.2,486.2" fill="#78ff00" stroke="#78ff00" stroke-width="0.9" stroke-linejoin="round"/>
<polygon points="215.9,488.6 216.9,485.7 217.9,481.3 217.0,483.8" fill="#8cff00" stroke="#8cff00" stroke-width="0.9" stroke-linejoin="round"/>
<polygon points="216.9,485.7 217.8,482.8 218.7,478.8 217.9,481.3" fill="#a2ff00" stroke="#a2ff00" stroke-width="0.9" stroke-linejoin="round"/>
<polygon points="217.8,482.8 218.7,479.9 219.6,476.4 218.7,478.8" fill="#bcff00" stroke="#bcff00" stroke-width="0.9" stroke-linejoin="round"/>
<polygon points="218.7,479.9 219.7,477.0 220.4,473.9 219.6,476.4" fill="#d3ff00" stroke="#d3ff00" stroke-width="0.9" stroke-linejoin="round"/>
<polygon points="219.7,477.0 220.6,474.2 221.2,471.4 220.4,473.9" fill="#eaff00" stroke="#eaff00" stroke-width="0.9" stroke-linejoin="round"/>
<polygon points="220.6,474.2 221.5,471.3 222.1,468.9 221.2,471.4" fill="#f9f700" stroke="#f9f700" stroke-width="0.9" stroke-linejoin="round"/>
<polygon points="221.5,471.3 222.5,468.4 222.9,466.4 222.1,468.9" fill="#ffe200" stroke="#ffe200" stroke-width="0.9" stroke-linejoin="round"/>
<polygon points="222.5,468.4 223.4,465.5 223.8,463.8 222.9,466.4" fill="#ffc600" stroke="#ffc600" stroke-width="0.9" stroke-linejoin="round"/>
<polygon points="223.4,465.5 224.4,462.6 224.7,461.3 223.8,463.8" fill="#ffa700" stroke="#ffa700" stroke-width="0.9" stroke-linejoin="round"/>
<polygon points="224.4,462.6 225.3,459.7 225.5,458.8 224.7,461.3" fill="#ff8800" stroke="#ff8800" stroke-width="0.9" stroke-linejoin="round"/>
<polygon points="225.3,459.7 226.3,456.8 226.4,456.2 225.5,458.8" fill="#ff6800" stroke="#ff6800" stroke-width="0.9" stroke-linejoin="round"/>
<polygon points="226.3,456.8 227.2,453.8 227.2,453.7 226.4,456.2" fill="#ff4c00" stroke="#ff4c00" stroke-width="0.9" stroke-linejoin="round"/>
<polygon points="227.2,453.8 227.7,452.3 227.2,453.7" fill="#ff3200" stroke="#ff3200" stroke-width="0.9" stroke-linejoin="round"/>
<line x1="197.1" y1="546.7" x2="197.4" y2="545.5" stroke="#222" stroke-width="0.5"/>
<line x1="203.0" y1="528.4" x2="204.4" y2="522.5" stroke="#222" stroke-width="0.5"/>
<line x1="209.0" y1="510.0" x2="210.9" y2="502.0" stroke="#222" stroke-width="0.5"/>
<line x1="215.0" y1="491.4" x2="216.2" y2="486.2" stroke="#222" stroke-width="0.5"/>
<line x1="221.1" y1="472.7" x2="221.7" y2="470.1" stroke="#222" stroke-width="0.5"/>
<line x1="227.2" y1="453.8" x2="227.2" y2="453.7" stroke="#222" stroke-width="0.5"/>
<polygon points="162.1,571.8 167.5,571.9 165.2,569.9" fill="#4600c3" stroke="#4600c3" stroke-width="0.9" stroke-linejoin="round"/>
<polygon points="167.5,571.9 181.1,572.1 181.1,572.1 172.9,565.1 165.2,569.9" fill="#5000db" stroke="#5000db" stroke-width="0.9" stroke-linejoin="round"/>
<polygon points="181.1,572.1 181.1,572.1 186.0,564.9 180.5,560.3 172.9,565.1" fill="#4e00e8" stroke="#4e00e8" stroke-width="0.9" stroke-linejoin="round"/>
<polygon points="186.0,564.9 190.9,557.9 188.1,555.6 180.5,560.3" fill="#4900f1" stroke="#4900f1" stroke-width="0.9" stroke-linejoin="round"/>
<polygon points="190.9,557.9 195.7,550.9 188.1,555.6" fill="#4400fa" stroke="#4400fa" stroke-width="0.9" stroke-linejoin="round"/>
<polygon points="134.5,578.8 162.1,571.8 146.7,567.6" fill="#4600c3" stroke="#4600c3" stroke-width="0.9" stroke-linejoin="round"/>
<polygon points="126.8,580.7 134.5,578.8 146.7,567.6 143.2,566.7" fill="#4f00d4" stroke="#4f00d4" stroke-width="0.9" stroke-linejoin="round"/>
<polygon points="195.7,550.9 196.6,548.5 196.6,548.1" fill="#3704fc" stroke="#3704fc" stroke-width="0.9" stroke-linejoin="round"/>
<polygon points="196.6,548.5 197.4,546.2 197.5,545.3 196.6,548.1" fill="#2a08fe" stroke="#2a08fe" stroke-width="0.9" stroke-linejoin="round"/>
<polygon points="197.4,546.2 198.2,543.8 198.4,542.5 197.5,545.3" fill="#200cff" stroke="#200cff" stroke-width="0.9" stroke-linejoin="round"/>
<polygon points="198.2,543.8 199.1,541.4 199.3,539.7 198.4,542.5" fill="#1912ff" stroke="#1912ff" stroke-width="0.9" stroke-linejoin="round"/>
<polygon points="199.1,541.4 200.0,539.1 200.3,536.9 199.3,539.7" fill="#1216ff" stroke="#1216ff" stroke-width="0.9" stroke-linejoin="round"/>
<polygon points="200.0,539.1 200.8,536.7 201.2,534.1 200.3,536.9" fill="#1022ff" stroke="#1022ff" stroke-width="0.9" stroke-linejoin="round"/>
<polygon points="200.8,536.7 201.7,534.3 202.1,531.2 201.2,534.1" fill="#1333ff" stroke="#1333ff" stroke-width="0.9" stroke-linejoin="round"/>
<polygon points="201.7,534.3 202.5,531.9 203.0,528.4 202.1,531.2" fill="#1e55ff" stroke="#1e55ff" stroke-width="0.9" stroke-linejoin="round"/>
<polygon points="202.5,531.9 203.4,529.5 203.9,525.6 203.0,528.4" fill="#3287ff" stroke="#3287ff" stroke-width="0.9" stroke-linejoin="round"/>
<polygon points="203.4,529.5 204.3,527.0 204.8,522.8 203.9,525.6" fill="#3cb4ff" stroke="#3cb4ff" stroke-width="0.9" stroke-linejoin="round"/>
<polygon points="204.3,527.0 205.2,524.6 205.8,519.9 204.8,522.8" fill="#3cdcff" stroke="#3cdcff" stroke-width="0.9" stroke-linejoin="round"/>
<polygon points="205.2,524.6 206.0,522.2 206.7,517.1 205.8,519.9" fill="#4bf4ef" stroke="#4bf4ef" stroke-width="0.9" stroke-linejoin="round"/>
<polygon points="206.0,522.2 206.9,519.7 207.6,514.3 206.7,517.1" fill="#69fbce" stroke="#69fbce" stroke-width="0.9" stroke-linejoin="round"/>
<polygon points="206.9,519.7 207.8,517.3 208.5,511.4 207.6,514.3" fill="#71ff93" stroke="#71ff93" stroke-width="0.9" stroke-linejoin="round"/>
<polygon points="207.8,517.3 208.7,514.8 209.4,508.6 208.5,511.4" fill="#64ff3c" stroke="#64ff3c" stroke-width="0.9" stroke-linejoin="round"/>
<polygon points="208.7,514.8 209.6,512.4 210.4,505.7 209.4,508.6" fill="#5eff2b" stroke="#5eff2b" stroke-width="0.9" stroke-linejoin="round"/>
<polygon points="209.6,512.4 210.5,509.9 211.3,502.9 210.4,505.7" fill="#59ff1a" stroke="#59ff1a" stroke-width="0.9" stroke-linejoin="round"/>
<polygon points="210.5,509.9 211.3,507.4 212.2,500.0 211.3,502.9" fill="#53ff09" stroke="#53ff09" stroke-width="0.9" stroke-linejoin="round"/>
<polygon points="211.3,507.4 212.2,504.9 213.1,497.2 212.2,500.0" fill="#55ff00" stroke="#55ff00" stroke-width="0.9" stroke-linejoin="round"/>
<polygon points="212.2,504.9 213.1,502.4 214.1,494.3 213.1,497.2" fill="#5fff00" stroke="#5fff00" stroke-width="0.9" stroke-linejoin="round"/>
<polygon points="213.1,502.4 214.0,499.9 214.0,499.9 215.0,491.4 214.1,494.3" fill="#69ff00" stroke="#69ff00" stroke-width="0.9" stroke-linejoin="round"/>
<polygon points="214.0,499.9 214.0,499.9 215.1,496.4 215.9,488.6 215.0,491.4" fill="#78ff00" stroke="#78ff00" stroke-width="0.9" stroke-linejoin="round"/>
<polygon points="215.1,496.4 216.1,492.8 216.9,485.7 215.9,488.6" fill="#8cff00" stroke="#8cff00" stroke-width="0.9" stroke-linejoin="round"/>
<polygon points="216.1,492.8 217.1,489.3 217.8,482.8 216.9,485.7" fill="#a2ff00" stroke="#a2ff00" stroke-width="0.9" stroke-linejoin="round"/>
<polygon points="217.1,489.3 218.1,485.7 218.7,479.9 217.8,482.8" fill="#bcff00" stroke="#bcff00" stroke-width="0.9" stroke-linejoin="round"/>
<polygon points="218.1,485.7 219.1,482.2 219.7,477.0 218.7,479.9" fill="#d3ff00" stroke="#d3ff00" stroke-width="0.9" stroke-linejoin="round"/>
<polygon points="219.1,482.2 220.1,478.7 220.6,474.2 219.7,477.0" fill="#eaff00" stroke="#eaff00" stroke-width="0.9" stroke-linejoin="round"/>
<polygon points="220.1,478.7 221.2,475.1 221.5,471.3 220.6,474.2" fill="#f9f700" stroke="#f9f700" stroke-width="0.9" stroke-linejoin="round"/>
<polygon points="221.2,475.1 222.2,471.6 222.5,468.4 221.5,471.3" fill="#ffe200" stroke="#ffe200" stroke-width="0.9" stroke-linejoin="round"/>
<polygon points="222.2,471.6 223.2,468.1 223.4,465.5 222.5,468.4" fill="#ffc600" stroke="#ffc600" stroke-width="0.9" stroke-linejoin="round"/>
<polygon points="223.2,468.1 224.2,464.6 224.4,462.6 223.4,465.5" fill="#ffa700" stroke="#ffa700" stroke-width="0.9" stroke-linejoin="round"/>
<polygon points="224.2,464.6 225.2,461.1 225.3,459.7 224.4,462.6" fill="#ff8800" stroke="#ff8800" stroke-width="0.9" stroke-linejoin="round"/>
<polygon points="225.2,461.1 226.2,457.6 226.3,456.8 225.3,459.7" fill="#ff6800" stroke="#ff6800" stroke-width="0.9" stroke-linejoin="round"/>
<polygon points="226.2,457.6 227.2,454.2 227.2,453.8 226.3,456.8" fill="#ff4c00" stroke="#ff4c00" stroke-width="0.9" stroke-linejoin="round"/>
<polygon points="227.2,454.2 227.7,452.3 227.2,453.8" fill="#ff3200" stroke="#ff3200" stroke-width="0.9" stroke-linejoin="round"/>
<line x1="197.0" y1="547.4" x2="197.1" y2="546.7" stroke="#222" stroke-width="0.5"/>
<line x1="202.5" y1="531.9" x2="203.0" y2="528.4" stroke="#222" stroke-width="0.5"/>
<line x1="208.2" y1="516.1" x2="209.0" y2="510.0" stroke="#222" stroke-width="0.5"/>
<line x1="220.6" y1="476.9" x2="221.1" y2="472.7" stroke="#222" stroke-width="0.5"/>
<line x1="227.2" y1="454.2" x2="227.2" y2="453.8" stroke="#222" stroke-width="0.5"/>
<polygon points="181.1,572.1 182.5,569.2 186.0,564.9" fill="#4e00e8" stroke="#4e00e8" stroke-width="0.9" stroke-linejoin="round"/>
<polygon points="182.5,569.2 183.8,566.2 190.9,557.9 186.0,564.9" fill="#4900f1" stroke="#4900f1" stroke-width="0.9" stroke-linejoin="round"/>
<polygon points="183.8,566.2 185.2,563.2 195.7,550.9 195.7,550.9 190.9,557.9" fill="#4400fa" stroke="#4400fa" stroke-width="0.9" stroke-linejoin="round"/>
<polygon points="185.2,563.2 186.5,560.2 196.6,548.5 195.7,550.9 195.7,550.9" fill="#3704fc" stroke="#3704fc" stroke-width="0.9" stroke-linejoin="round"/>
<polygon points="186.5,560.2 187.9,557.2 197.4,546.2 196.6,548.5" fill="#2a08fe" stroke="#2a08fe" stroke-width="0.9" stroke-linejoin="round"/>
<polygon points="187.9,557.2 189.3,554.2 198.2,543.8 197.4,546.2" fill="#200cff" stroke="#200cff" stroke-width="0.9" stroke-linejoin="round"/>
<polygon points="189.3,554.2 190.6,551.2 199.1,541.4 198.2,543.8" fill="#1912ff" stroke="#1912ff" stroke-width="0.9" stroke-linejoin="round"/>
<polygon points="190.6,551.2 192.0,548.2 200.0,539.1 199.1,541.4" fill="#1216ff" stroke="#1216ff" stroke-width="0.9" stroke-linejoin="round"/>
<polygon points="192.0,548.2 193.4,545.2 200.8,536.7 200.0,539.1" fill="#1022ff" stroke="#1022ff" stroke-width="0.9" stroke-linejoin="round"/>
<polygon points="193.4,545.2 194.7,542.2 201.7,534.3 200.8,536.7" fill="#1333ff" stroke="#1333ff" stroke-width="0.9" stroke-linejoin="round"/>
<polygon points="194.7,542.2 196.1,539.2 202.5,531.9 201.7,534.3" fill="#1e55ff" stroke="#1e55ff" stroke-width="0.9" stroke-linejoin="round"/>
<polygon points="196.1,539.2 197.5,536.2 203.4,529.5 202.5,531.9" fill="#3287ff" stroke="#3287ff" stroke-width="0.9" stroke-linejoin="round"/>
<polygon points="197.5,536.2 198.9,533.2 204.3,527.0 203.4,529.5" fill="#3cb4ff" stroke="#3cb4ff" stroke-width="0.9" stroke-linejoin="round"/>
<polygon points="198.9,533.2 200.2,530.2 205.2,524.6 204.3,527.0" fill="#3cdcff" stroke="#3cdcff" stroke-width="0.9" stroke-linejoin="round"/>
<polygon points="200.2,530.2 201.6,527.1 206.0,522.2 205.2,524.6" fill="#4bf4ef" stroke="#4bf4ef" stroke-width="0.9" stroke-linejoin="round"/>
<polygon points="201.6,527.1 203.0,524.1 206.9,519.7 206.0,522.2" fill="#69fbce" stroke="#69fbce" stroke-width="0.9" stroke-linejoin="round"/>
<polygon points="203.0,524.1 204.4,521.1 207.8,517.3 206.9,519.7" fill="#71ff93" stroke="#71ff93" stroke-width="0.9" stroke-linejoin="round"/>
<polygon points="204.4,521.1 205.7,518.1 208.7,514.8 207.8,517.3" fill="#64ff3c" stroke="#64ff3c" stroke-width="0.9" stroke-linejoin="round"/>
<polygon points="205.7,518.1 207.1,515.1 209.6,512.4 208.7,514.8" fill="#5eff2b" stroke="#5eff2b" stroke-width="0.9" stroke-linejoin="round"/>
<polygon points="207.1,515.1 208.5,512.0 210.5,509.9 209.6,512.4" fill="#59ff1a" stroke="#59ff1a" stroke-width="0.9" stroke-linejoin="round"/>
<polygon points="208.5,512.0 209.9,509.0 211.3,507.4 210.5,509.9" fill="#53ff09" stroke="#53ff09" stroke-width="0.9" stroke-linejoin="round"/>
<polygon points="209.9,509.0 211.3,506.0 212.2,504.9 211.3,507.4" fill="#55ff00" stroke="#55ff00" stroke-width="0.9" stroke-linejoin="round"/>
<polygon points="211.3,506.0 212.7,502.9 213.1,502.4 212.2,504.9" fill="#5fff00" stroke="#5fff00" stroke-width="0.9" stroke-linejoin="round"/>
<polygon points="212.7,502.9 214.0,499.9 213.1,502.4" fill="#69ff00" stroke="#69ff00" stroke-width="0.9" stroke-linejoin="round"/>
<line x1="187.2" y1="558.7" x2="197.0" y2="547.4" stroke="#222" stroke-width="0.5"/>
<line x1="196.1" y1="539.2" x2="202.5" y2="531.9" stroke="#222" stroke-width="0.5"/>
<line x1="205.1" y1="519.6" x2="208.2" y2="516.1" stroke="#222" stroke-width="0.5"/>
<polygon points="315.9,584.9 327.2,570.1 327.2,570.1 315.7,584.1" fill="#4b00cc" stroke="#4b00cc" stroke-width="0.9" stroke-linejoin="round"/>
<polygon points="327.2,570.1 323.7,566.9 314.2,578.3 315.7,584.1" fill="#5000db" stroke="#5000db" stroke-width="0.9" stroke-linejoin="round"/>
<polygon points="323.7,566.9 320.1,563.6 312.6,572.5 314.2,578.3" fill="#4e00e8" stroke="#4e00e8" stroke-width="0.9" stroke-linejoin="round"/>
<polygon points="320.1,563.6 316.6,560.4 311.1,566.8 312.6,572.5" fill="#4900f1" stroke="#4900f1" stroke-width="0.9" stroke-linejoin="round"/>
<polygon points="316.6,560.4 313.1,557.2 309.6,561.2 311.1,566.8" fill="#4400fa" stroke="#4400fa" stroke-width="0.9" stroke-linejoin="round"/>
<polygon points="313.1,557.2 309.6,554.0 308.2,555.6 309.6,561.2" fill="#3704fc" stroke="#3704fc" stroke-width="0.9" stroke-linejoin="round"/>
<polygon points="309.6,554.0 307.1,551.7 308.2,555.6" fill="#2a08fe" stroke="#2a08fe" stroke-width="0.9" stroke-linejoin="round"/>
<line x1="307.9" y1="552.3" x2="307.4" y2="552.8" stroke="#222" stroke-width="0.5"/>
<polygon points="295.2,567.5 296.0,566.5 295.2,567.3" fill="#3106fd" stroke="#3106fd" stroke-width="0.9" stroke-linejoin="round"/>
<polygon points="296.0,566.5 307.1,551.7 306.6,550.8 294.5,563.1 295.2,567.3" fill="#2a08fe" stroke="#2a08fe" stroke-width="0.9" stroke-linejoin="round"/>
<polygon points="306.6,550.8 304.8,547.9 293.9,559.0 294.5,563.1" fill="#200cff" stroke="#200cff" stroke-width="0.9" stroke-linejoin="round"/>
<polygon points="304.8,547.9 303.1,545.0 293.2,554.9 293.9,559.0" fill="#1912ff" stroke="#1912ff" stroke-width="0.9" stroke-linejoin="round"/>
<polygon points="303.1,545.0 301.3,542.1 292.5,550.8 293.2,554.9" fill="#1216ff" stroke="#1216ff" stroke-width="0.9" stroke-linejoin="round"/>
<polygon points="301.3,542.1 299.5,539.2 291.9,546.7 292.5,550.8" fill="#1022ff" stroke="#1022ff" stroke-width="0.9" stroke-linejoin="round"/>
<polygon points="299.5,539.2 297.7,536.3 291.2,542.6 291.9,546.7" fill="#1333ff" stroke="#1333ff" stroke-width="0.9" stroke-linejoin="round"/>
<polygon points="297.7,536.3 295.9,533.4 290.5,538.5 291.2,542.6" fill="#1e55ff" stroke="#1e55ff" stroke-width="0.9" stroke-linejoin="round"/>
<polygon points="295.9,533.4 294.1,530.4 289.9,534.5 290.5,538.5" fill="#3287ff" stroke="#3287ff" stroke-width="0.9" stroke-linejoin="round"/>
<polygon points="294.1,530.4 292.4,527.5 289.2,530.5 289.9,534.5" fill="#3cb4ff" stroke="#3cb4ff" stroke-width="0.9" stroke-linejoin="round"/>
<polygon points="292.4,527.5 290.6,524.6 288.6,526.4 289.2,530.5" fill="#3cdcff" stroke="#3cdcff" stroke-width="0.9" stroke-linejoin="round"/>
<polygon points="290.6,524.6 288.8,521.7 287.9,522.4 288.6,526.4" fill="#4bf4ef" stroke="#4bf4ef" stroke-width="0.9" stroke-linejoin="round"/>
<polygon points="288.8,521.7 287.4,519.5 287.9,522.4" fill="#69fbce" stroke="#69fbce" stroke-width="0.9" stroke-linejoin="round"/>
<line x1="303.9" y1="555.9" x2="294.9" y2="565.2" stroke="#222" stroke-width="0.5"/>
<line x1="295.9" y1="533.4" x2="290.5" y2="538.5" stroke="#222" stroke-width="0.5"/>
<polygon points="146.0,586.1 156.2,582.1 167.5,571.9 162.1,571.8" fill="#4600c3" stroke="#4600c3" stroke-width="0.9" stroke-linejoin="round"/>
<polygon points="156.2,582.1 181.1,572.1 167.5,571.9" fill="#5000db" stroke="#5000db" stroke-width="0.9" stroke-linejoin="round"/>
<polygon points="130.9,581.9 146.0,586.1 162.1,571.8 134.5,578.8" fill="#4600c3" stroke="#4600c3" stroke-width="0.9" stroke-linejoin="round"/>
<polygon points="126.8,580.7 130.9,581.9 134.5,578.8" fill="#4f00d4" stroke="#4f00d4" stroke-width="0.9" stroke-linejoin="round"/>
<polygon points="315.4,584.4 315.9,584.9 315.7,584.1" fill="#4b00cc" stroke="#4b00cc" stroke-width="0.9" stroke-linejoin="round"/>
<polygon points="311.3,581.0 315.4,584.4 315.7,584.1 314.2,578.3" fill="#5000db" stroke="#5000db" stroke-width="0.9" stroke-linejoin="round"/>
<polygon points="307.2,577.6 311.3,581.0 314.2,578.3 312.6,572.5" fill="#4e00e8" stroke="#4e00e8" stroke-width="0.9" stroke-linejoin="round"/>
<polygon points="303.2,574.2 307.2,577.6 312.6,572.5 311.1,566.8" fill="#4900f1" stroke="#4900f1" stroke-width="0.9" stroke-linejoin="round"/>
<polygon points="299.1,570.7 303.2,574.2 311.1,566.8 309.6,561.2" fill="#4400fa" stroke="#4400fa" stroke-width="0.9" stroke-linejoin="round"/>
<polygon points="295.2,567.5 299.1,570.7 309.6,561.2 308.2,555.6 296.0,566.5" fill="#3704fc" stroke="#3704fc" stroke-width="0.9" stroke-linejoin="round"/>
<polygon points="308.2,555.6 307.1,551.7 296.0,566.5" fill="#2a08fe" stroke="#2a08fe" stroke-width="0.9" stroke-linejoin="round"/>
<line x1="307.4" y1="552.8" x2="303.9" y2="555.9" stroke="#222" stroke-width="0.5"/>
<polygon points="274.8,543.4 276.0,541.1 274.7,542.2" fill="#348dff" stroke="#348dff" stroke-width="0.9" stroke-linejoin="round"/>
<polygon points="276.0,541.1 279.1,535.3 274.5,538.9 274.7,542.2" fill="#3cb4ff" stroke="#3cb4ff" stroke-width="0.9" stroke-linejoin="round"/>
<polygon points="279.1,535.3 282.2,529.5 274.3,535.7 274.5,538.9" fill="#3cdcff" stroke="#3cdcff" stroke-width="0.9" stroke-linejoin="round"/>
<polygon points="282.2,529.5 285.2,523.7 274.0,532.4 274.3,535.7" fill="#4bf4ef" stroke="#4bf4ef" stroke-width="0.9" stroke-linejoin="round"/>
<polygon points="285.2,523.7 287.4,519.5 287.2,518.8 273.8,529.2 274.0,532.4" fill="#69fbce" stroke="#69fbce" stroke-width="0.9" stroke-linejoin="round"/>
<polygon points="287.2,518.8 286.5,516.0 273.5,526.0 273.8,529.2" fill="#71ff93" stroke="#71ff93" stroke-width="0.9" stroke-linejoin="round"/>
<polygon points="286.5,516.0 285.7,513.3 273.3,522.7 273.5,526.0" fill="#64ff3c" stroke="#64ff3c" stroke-width="0.9" stroke-linejoin="round"/>
<polygon points="285.7,513.3 285.0,510.5 273.1,519.5 273.3,522.7" fill="#5eff2b" stroke="#5eff2b" stroke-width="0.9" stroke-linejoin="round"/>
<polygon points="285.0,510.5 284.2,507.7 272.8,516.2 273.1,519.5" fill="#59ff1a" stroke="#59ff1a" stroke-width="0.9" stroke-linejoin="round"/>
<polygon points="284.2,507.7 283.4,504.9 272.6,513.0 272.8,516.2" fill="#53ff09" stroke="#53ff09" stroke-width="0.9" stroke-linejoin="round"/>
<polygon points="283.4,504.9 282.7,502.2 272.4,509.8 272.6,513.0" fill="#55ff00" stroke="#55ff00" stroke-width="0.9" stroke-linejoin="round"/>
<polygon points="282.7,502.2 281.9,499.4 272.1,506.5 272.4,509.8" fill="#5fff00" stroke="#5fff00" stroke-width="0.9" stroke-linejoin="round"/>
<polygon points="281.9,499.4 281.1,496.6 271.9,503.3 272.1,506.5" fill="#69ff00" stroke="#69ff00" stroke-width="0.9" stroke-linejoin="round"/>
<polygon points="281.1,496.6 280.3,493.8 271.7,500.1 271.9,503.3" fill="#78ff00" stroke="#78ff00" stroke-width="0.9" stroke-linejoin="round"/>
<polygon points="280.3,493.8 279.6,491.0 271.4,496.8 271.7,500.1" fill="#8cff00" stroke="#8cff00" stroke-width="0.9" stroke-linejoin="round"/>
<polygon points="279.6,491.0 278.8,488.2 271.2,493.6 271.4,496.8" fill="#a2ff00" stroke="#a2ff00" stroke-width="0.9" stroke-linejoin="round"/>
<polygon points="278.8,488.2 278.0,485.4 271.0,490.4 271.2,493.6" fill="#bcff00" stroke="#bcff00" stroke-width="0.9" stroke-linejoin="round"/>
<polygon points="278.0,485.4 277.2,482.6 270.7,487.1 271.0,490.4" fill="#d3ff00" stroke="#d3ff00" stroke-width="0.9" stroke-linejoin="round"/>
<polygon points="277.2,482.6 276.5,479.8 270.5,483.9 270.7,487.1" fill="#eaff00" stroke="#eaff00" stroke-width="0.9" stroke-linejoin="round"/>
<polygon points="276.5,479.8 275.7,476.9 270.2,480.7 270.5,483.9" fill="#f9f700" stroke="#f9f700" stroke-width="0.9" stroke-linejoin="round"/>
<polygon points="275.7,476.9 274.9,474.1 270.0,477.4 270.2,480.7" fill="#ffe200" stroke="#ffe200" stroke-width="0.9" stroke-linejoin="round"/>
<polygon points="274.9,474.1 274.1,471.3 269.8,474.2 270.0,477.4" fill="#ffc600" stroke="#ffc600" stroke-width="0.9" stroke-linejoin="round"/>
<polygon points="274.1,471.3 273.3,468.5 269.5,471.0 269.8,474.2" fill="#ffa700" stroke="#ffa700" stroke-width="0.9" stroke-linejoin="round"/>
<polygon points="273.3,468.5 272.5,465.6 269.3,467.8 269.5,471.0" fill="#ff8800" stroke="#ff8800" stroke-width="0.9" stroke-linejoin="round"/>
<polygon points="272.5,465.6 271.8,462.8 269.1,464.5 269.3,467.8" fill="#ff6800" stroke="#ff6800" stroke-width="0.9" stroke-linejoin="round"/>
<polygon points="271.8,462.8 271.0,459.9 268.8,461.3 269.1,464.5" fill="#ff4c00" stroke="#ff4c00" stroke-width="0.9" stroke-linejoin="round"/>
<polygon points="271.0,459.9 270.2,457.1 268.6,458.1 268.8,461.3" fill="#ff3200" stroke="#ff3200" stroke-width="0.9" stroke-linejoin="round"/>
<polygon points="270.2,457.1 269.4,454.2 268.4,454.9 268.6,458.1" fill="#ff2a00" stroke="#ff2a00" stroke-width="0.9" stroke-linejoin="round"/>
<polygon points="269.4,454.2 268.6,451.3 268.1,451.6 268.4,454.9" fill="#ff2200" stroke="#ff2200" stroke-width="0.9" stroke-linejoin="round"/>
<polygon points="268.6,451.3 267.9,448.9 268.1,451.6" fill="#ff1d00" stroke="#ff1d00" stroke-width="0.9" stroke-linejoin="round"/>
<line x1="286.1" y1="514.6" x2="273.4" y2="524.3" stroke="#222" stroke-width="0.5"/>
<line x1="281.1" y1="496.6" x2="271.9" y2="503.3" stroke="#222" stroke-width="0.5"/>
<line x1="276.1" y1="478.4" x2="270.4" y2="482.3" stroke="#222" stroke-width="0.5"/>
<line x1="271.0" y1="459.9" x2="268.8" y2="461.3" stroke="#222" stroke-width="0.5"/>
<polygon points="295.1,567.4 295.2,567.5 295.2,567.3" fill="#3106fd" stroke="#3106fd" stroke-width="0.9" stroke-linejoin="round"/>
<polygon points="292.4,564.2 295.1,567.4 295.2,567.3 294.5,563.1" fill="#2a08fe" stroke="#2a08fe" stroke-width="0.9" stroke-linejoin="round"/>
<polygon points="289.8,561.1 292.4,564.2 294.5,563.1 293.9,559.0" fill="#200cff" stroke="#200cff" stroke-width="0.9" stroke-linejoin="round"/>
<polygon points="287.1,557.9 289.8,561.1 293.9,559.0 293.2,554.9" fill="#1912ff" stroke="#1912ff" stroke-width="0.9" stroke-linejoin="round"/>
<polygon points="284.5,554.8 287.1,557.9 293.2,554.9 292.5,550.8" fill="#1216ff" stroke="#1216ff" stroke-width="0.9" stroke-linejoin="round"/>
<polygon points="281.8,551.6 284.5,554.8 292.5,550.8 291.9,546.7" fill="#1022ff" stroke="#1022ff" stroke-width="0.9" stroke-linejoin="round"/>
<polygon points="279.1,548.5 281.8,551.6 291.9,546.7 291.2,542.6" fill="#1333ff" stroke="#1333ff" stroke-width="0.9" stroke-linejoin="round"/>
<polygon points="276.5,545.4 279.1,548.5 291.2,542.6 290.5,538.5" fill="#1e55ff" stroke="#1e55ff" stroke-width="0.9" stroke-linejoin="round"/>
<polygon points="274.8,543.4 276.5,545.4 290.5,538.5 289.9,534.5 276.0,541.1" fill="#3287ff" stroke="#3287ff" stroke-width="0.9" stroke-linejoin="round"/>
<polygon points="289.9,534.5 289.2,530.5 279.1,535.3 276.0,541.1" fill="#3cb4ff" stroke="#3cb4ff" stroke-width="0.9" stroke-linejoin="round"/>
<polygon points="289.2,530.5 288.6,526.4 282.2,529.5 279.1,535.3" fill="#3cdcff" stroke="#3cdcff" stroke-width="0.9" stroke-linejoin="round"/>
<polygon points="288.6,526.4 287.9,522.4 285.2,523.7 282.2,529.5" fill="#4bf4ef" stroke="#4bf4ef" stroke-width="0.9" stroke-linejoin="round"/>
<polygon points="287.9,522.4 287.4,519.5 285.2,523.7" fill="#69fbce" stroke="#69fbce" stroke-width="0.9" stroke-linejoin="round"/>
<line x1="293.8" y1="565.8" x2="294.9" y2="565.2" stroke="#222" stroke-width="0.5"/>
<line x1="276.5" y1="545.4" x2="290.5" y2="538.5" stroke="#222" stroke-width="0.5"/>
<polygon points="214.0,499.9 214.9,497.0 215.1,496.4" fill="#78ff00" stroke="#78ff00" stroke-width="0.9" stroke-linejoin="round"/>
<polygon points="214.9,497.0 215.7,494.1 216.1,492.8 215.1,496.4" fill="#8cff00" stroke="#8cff00" stroke-width="0.9" stroke-linejoin="round"/>
<polygon points="215.7,494.1 216.6,491.2 217.1,489.3 216.1,492.8" fill="#a2ff00" stroke="#a2ff00" stroke-width="0.9" stroke-linejoin="round"/>
<polygon points="216.6,491.2 217.4,488.3 218.1,485.7 217.1,489.3" fill="#bcff00" stroke="#bcff00" stroke-width="0.9" stroke-linejoin="round"/>
<polygon points="217.4,488.3 218.3,485.4 219.1,482.2 218.1,485.7" fill="#d3ff00" stroke="#d3ff00" stroke-width="0.9" stroke-linejoin="round"/>
<polygon points="218.3,485.4 219.2,482.5 220.1,478.7 219.1,482.2" fill="#eaff00" stroke="#eaff00" stroke-width="0.9" stroke-linejoin="round"/>
<polygon points="219.2,482.5 220.0,479.5 221.2,475.1 220.1,478.7" fill="#f9f700" stroke="#f9f700" stroke-width="0.9" stroke-linejoin="round"/>
<polygon points="220.0,479.5 220.9,476.6 222.2,471.6 221.2,475.1" fill="#ffe200" stroke="#ffe200" stroke-width="0.9" stroke-linejoin="round"/>
<polygon points="220.9,476.6 221.7,473.7 223.2,468.1 222.2,471.6" fill="#ffc600" stroke="#ffc600" stroke-width="0.9" stroke-linejoin="round"/>
<polygon points="221.7,473.7 222.6,470.7 224.2,464.6 223.2,468.1" fill="#ffa700" stroke="#ffa700" stroke-width="0.9" stroke-linejoin="round"/>
<polygon points="222.6,470.7 223.4,467.8 225.2,461.1 224.2,464.6" fill="#ff8800" stroke="#ff8800" stroke-width="0.9" stroke-linejoin="round"/>
<polygon points="223.4,467.8 224.3,464.8 226.2,457.6 225.2,461.1" fill="#ff6800" stroke="#ff6800" stroke-width="0.9" stroke-linejoin="round"/>
<polygon points="224.3,464.8 225.2,461.9 227.2,454.2 226.2,457.6" fill="#ff4c00" stroke="#ff4c00" stroke-width="0.9" stroke-linejoin="round"/>
<polygon points="225.2,461.9 226.0,458.9 228.1,451.1 227.7,452.3 227.2,454.2" fill="#ff3200" stroke="#ff3200" stroke-width="0.9" stroke-linejoin="round"/>
<polygon points="226.0,458.9 226.9,456.0 228.8,448.5 228.1,451.1" fill="#ff2a00" stroke="#ff2a00" stroke-width="0.9" stroke-linejoin="round"/>
<polygon points="226.9,456.0 227.8,453.0 229.6,445.9 228.8,448.5" fill="#ff2200" stroke="#ff2200" stroke-width="0.9" stroke-linejoin="round"/>
<polygon points="227.8,453.0 228.6,450.1 230.4,443.3 229.6,445.9" fill="#ff1d00" stroke="#ff1d00" stroke-width="0.9" stroke-linejoin="round"/>
<polygon points="228.6,450.1 229.5,447.1 231.2,440.7 230.4,443.3" fill="#ff1c00" stroke="#ff1c00" stroke-width="0.9" stroke-linejoin="round"/>
<polygon points="229.5,447.1 230.4,444.1 231.9,438.1 231.2,440.7" fill="#ff1b00" stroke="#ff1b00" stroke-width="0.9" stroke-linejoin="round"/>
<polygon points="230.4,444.1 231.2,441.1 232.7,435.4 231.9,438.1" fill="#ff1a00" stroke="#ff1a00" stroke-width="0.9" stroke-linejoin="round"/>
<polygon points="231.2,441.1 232.1,438.2 233.5,432.8 232.7,435.4" fill="#ff1800" stroke="#ff1800" stroke-width="0.9" stroke-linejoin="round"/>
<polygon points="232.1,438.2 233.0,435.2 234.3,430.2 233.5,432.8" fill="#ff1700" stroke="#ff1700" stroke-width="0.9" stroke-linejoin="round"/>
<polygon points="233.0,435.2 233.9,432.2 235.1,427.5 234.3,430.2" fill="#ff1600" stroke="#ff1600" stroke-width="0.9" stroke-linejoin="round"/>
<polygon points="233.9,432.2 234.7,429.2 235.9,424.9 235.1,427.5" fill="#ff1500" stroke="#ff1500" stroke-width="0.9" stroke-linejoin="round"/>
<polygon points="234.7,429.2 235.6,426.2 236.6,422.2 235.9,424.9" fill="#fc1300" stroke="#fc1300" stroke-width="0.9" stroke-linejoin="round"/>
<polygon points="235.6,426.2 236.5,423.2 237.4,419.5 236.6,422.2" fill="#f61000" stroke="#f61000" stroke-width="0.9" stroke-linejoin="round"/>
<polygon points="236.5,423.2 237.4,420.2 238.2,416.8 237.4,419.5" fill="#ef0e00" stroke="#ef0e00" stroke-width="0.9" stroke-linejoin="round"/>
<polygon points="237.4,420.2 238.3,417.2 239.0,414.1 238.2,416.8" fill="#e90b00" stroke="#e90b00" stroke-width="0.9" stroke-linejoin="round"/>
<polygon points="238.3,417.2 239.1,414.2 239.8,411.4 239.0,414.1" fill="#dd0900" stroke="#dd0900" stroke-width="0.9" stroke-linejoin="round"/>
<polygon points="239.1,414.2 240.0,411.1 240.6,408.7 239.8,411.4" fill="#cc0600" stroke="#cc0600" stroke-width="0.9" stroke-linejoin="round"/>
<polygon points="240.0,411.1 240.9,408.1 241.5,406.0 240.6,408.7" fill="#ba0400" stroke="#ba0400" stroke-width="0.9" stroke-linejoin="round"/>
<polygon points="240.9,408.1 241.8,405.1 242.3,403.3 241.5,406.0" fill="#a90100" stroke="#a90100" stroke-width="0.9" stroke-linejoin="round"/>
<polygon points="241.8,405.1 242.7,402.1 243.1,400.5 242.3,403.3" fill="#9a0001" stroke="#9a0001" stroke-width="0.9" stroke-linejoin="round"/>
<polygon points="242.7,402.1 243.6,399.0 243.9,397.8 243.1,400.5" fill="#8d0002" stroke="#8d0002" stroke-width="0.9" stroke-linejoin="round"/>
<polygon points="243.6,399.0 244.5,396.0 244.7,395.0 243.9,397.8" fill="#810003" stroke="#810003" stroke-width="0.9" stroke-linejoin="round"/>
<polygon points="244.5,396.0 245.4,392.9 245.5,392.3 244.7,395.0" fill="#740004" stroke="#740004" stroke-width="0.9" stroke-linejoin="round"/>
<polygon points="245.4,392.9 246.2,389.9 246.3,389.5 245.5,392.3" fill="#680006" stroke="#680006" stroke-width="0.9" stroke-linejoin="round"/>
<polygon points="246.2,389.9 247.1,386.8 247.2,386.7 246.3,389.5" fill="#5c0008" stroke="#5c0008" stroke-width="0.9" stroke-linejoin="round"/>
<polygon points="247.1,386.8 247.6,385.3 247.2,386.7" fill="#510009" stroke="#510009" stroke-width="0.9" stroke-linejoin="round"/>
<line x1="219.6" y1="481.0" x2="220.6" y2="476.9" stroke="#222" stroke-width="0.5"/>
<line x1="225.2" y1="461.9" x2="227.2" y2="454.2" stroke="#222" stroke-width="0.5"/>
<line x1="230.8" y1="442.6" x2="232.3" y2="436.8" stroke="#222" stroke-width="0.5"/>
<line x1="236.5" y1="423.2" x2="237.4" y2="419.5" stroke="#222" stroke-width="0.5"/>
<line x1="242.2" y1="403.6" x2="242.7" y2="401.9" stroke="#222" stroke-width="0.5"/>
<polygon points="146.0,586.1 155.1,587.1 156.2,582.1" fill="#4600c3" stroke="#4600c3" stroke-width="0.9" stroke-linejoin="round"/>
<polygon points="155.1,587.1 165.5,588.1 181.1,572.1 156.2,582.1" fill="#5000db" stroke="#5000db" stroke-width="0.9" stroke-linejoin="round"/>
<polygon points="181.1,572.1 182.1,569.8 182.5,569.2" fill="#4e00e8" stroke="#4e00e8" stroke-width="0.9" stroke-linejoin="round"/>
<polygon points="182.1,569.8 183.2,567.5 183.8,566.2 182.5,569.2" fill="#4900f1" stroke="#4900f1" stroke-width="0.9" stroke-linejoin="round"/>
<polygon points="183.2,567.5 184.3,565.1 185.2,563.2 183.8,566.2" fill="#4400fa" stroke="#4400fa" stroke-width="0.9" stroke-linejoin="round"/>
<polygon points="184.3,565.1 185.4,562.8 186.5,560.2 185.2,563.2" fill="#3704fc" stroke="#3704fc" stroke-width="0.9" stroke-linejoin="round"/>
<polygon points="185.4,562.8 186.4,560.4 187.9,557.2 186.5,560.2" fill="#2a08fe" stroke="#2a08fe" stroke-width="0.9" stroke-linejoin="round"/>
<polygon points="186.4,560.4 187.5,558.0 189.3,554.2 187.9,557.2" fill="#200cff" stroke="#200cff" stroke-width="0.9" stroke-linejoin="round"/>
<polygon points="187.5,558.0 188.6,555.6 190.6,551.2 189.3,554.2" fill="#1912ff" stroke="#1912ff" stroke-width="0.9" stroke-linejoin="round"/>
<polygon points="188.6,555.6 189.7,553.3 192.0,548.2 190.6,551.2" fill="#1216ff" stroke="#1216ff" stroke-width="0.9" stroke-linejoin="round"/>
<polygon points="189.7,553.3 190.8,550.9 193.4,545.2 192.0,548.2" fill="#1022ff" stroke="#1022ff" stroke-width="0.9" stroke-linejoin="round"/>
<polygon points="190.8,550.9 191.9,548.5 194.7,542.2 193.4,545.2" fill="#1333ff" stroke="#1333ff" stroke-width="0.9" stroke-linejoin="round"/>
<polygon points="191.9,548.5 193.0,546.0 196.1,539.2 194.7,542.2" fill="#1e55ff" stroke="#1e55ff" stroke-width="0.9" stroke-linejoin="round"/>
<polygon points="193.0,546.0 194.1,543.6 197.5,536.2 196.1,539.2" fill="#3287ff" stroke="#3287ff" stroke-width="0.9" stroke-linejoin="round"/>
<polygon points="194.1,543.6 195.2,541.2 198.9,533.2 197.5,536.2" fill="#3cb4ff" stroke="#3cb4ff" stroke-width="0.9" stroke-linejoin="round"/>
<polygon points="195.2,541.2 196.3,538.7 200.2,530.2 198.9,533.2" fill="#3cdcff" stroke="#3cdcff" stroke-width="0.9" stroke-linejoin="round"/>
<polygon points="196.3,538.7 197.4,536.3 201.6,527.1 200.2,530.2" fill="#4bf4ef" stroke="#4bf4ef" stroke-width="0.9" stroke-linejoin="round"/>
<polygon points="197.4,536.3 198.5,533.8 203.0,524.1 201.6,527.1" fill="#69fbce" stroke="#69fbce" stroke-width="0.9" stroke-linejoin="round"/>
<polygon points="198.5,533.8 199.6,531.4 199.6,531.4 204.4,521.1 203.0,524.1" fill="#71ff93" stroke="#71ff93" stroke-width="0.9" stroke-linejoin="round"/>
<polygon points="199.6,531.4 199.6,531.4 201.7,526.8 205.7,518.1 204.4,521.1" fill="#64ff3c" stroke="#64ff3c" stroke-width="0.9" stroke-linejoin="round"/>
<polygon points="201.7,526.8 203.8,522.2 207.1,515.1 205.7,518.1" fill="#5eff2b" stroke="#5eff2b" stroke-width="0.9" stroke-linejoin="round"/>
<polygon points="203.8,522.2 205.9,517.7 208.5,512.0 207.1,515.1" fill="#59ff1a" stroke="#59ff1a" stroke-width="0.9" stroke-linejoin="round"/>
<polygon points="205.9,517.7 207.9,513.2 209.9,509.0 208.5,512.0" fill="#53ff09" stroke="#53ff09" stroke-width="0.9" stroke-linejoin="round"/>
<polygon points="207.9,513.2 210.0,508.8 211.3,506.0 209.9,509.0" fill="#55ff00" stroke="#55ff00" stroke-width="0.9" stroke-linejoin="round"/>
<polygon points="210.0,508.8 212.0,504.3 212.7,502.9 211.3,506.0" fill="#5fff00" stroke="#5fff00" stroke-width="0.9" stroke-linejoin="round"/>
<polygon points="212.0,504.3 214.0,499.9 212.7,502.9" fill="#69ff00" stroke="#69ff00" stroke-width="0.9" stroke-linejoin="round"/>
<line x1="185.9" y1="561.6" x2="187.2" y2="558.7" stroke="#222" stroke-width="0.5"/>
<line x1="193.0" y1="546.0" x2="196.1" y2="539.2" stroke="#222" stroke-width="0.5"/>
<line x1="200.7" y1="529.1" x2="205.1" y2="519.6" stroke="#222" stroke-width="0.5"/>
<polygon points="119.1,593.1 146.0,586.1 130.9,581.9" fill="#4600c3" stroke="#4600c3" stroke-width="0.9" stroke-linejoin="round"/>
<polygon points="109.3,595.6 119.1,593.1 130.9,581.9 126.8,580.7" fill="#4f00d5" stroke="#4f00d5" stroke-width="0.9" stroke-linejoin="round"/>
<polygon points="165.5,588.1 166.5,586.3 181.1,572.1 181.1,572.1" fill="#5000db" stroke="#5000db" stroke-width="0.9" stroke-linejoin="round"/>
<polygon points="166.5,586.3 168.5,583.1 182.1,569.8 181.1,572.1 181.1,572.1" fill="#4e00e8" stroke="#4e00e8" stroke-width="0.9" stroke-linejoin="round"/>
<polygon points="168.5,583.1 170.4,579.9 183.2,567.5 182.1,569.8" fill="#4900f1" stroke="#4900f1" stroke-width="0.9" stroke-linejoin="round"/>
<polygon points="170.4,579.9 172.4,576.6 184.3,565.1 183.2,567.5" fill="#4400fa" stroke="#4400fa" stroke-width="0.9" stroke-linejoin="round"/>
<polygon points="172.4,576.6 174.3,573.4 185.4,562.8 184.3,565.1" fill="#3704fc" stroke="#3704fc" stroke-width="0.9" stroke-linejoin="round"/>
<polygon points="174.3,573.4 176.3,570.2 186.4,560.4 185.4,562.8" fill="#2a08fe" stroke="#2a08fe" stroke-width="0.9" stroke-linejoin="round"/>
<polygon points="176.3,570.2 178.2,567.0 187.5,558.0 186.4,560.4" fill="#200cff" stroke="#200cff" stroke-width="0.9" stroke-linejoin="round"/>
<polygon points="178.2,567.0 180.1,563.7 188.6,555.6 187.5,558.0" fill="#1912ff" stroke="#1912ff" stroke-width="0.9" stroke-linejoin="round"/>
<polygon points="180.1,563.7 182.1,560.5 189.7,553.3 188.6,555.6" fill="#1216ff" stroke="#1216ff" stroke-width="0.9" stroke-linejoin="round"/>
<polygon points="182.1,560.5 184.0,557.3 190.8,550.9 189.7,553.3" fill="#1022ff" stroke="#1022ff" stroke-width="0.9" stroke-linejoin="round"/>
<polygon points="184.0,557.3 186.0,554.0 191.9,548.5 190.8,550.9" fill="#1333ff" stroke="#1333ff" stroke-width="0.9" stroke-linejoin="round"/>
<polygon points="186.0,554.0 187.9,550.8 193.0,546.0 191.9,548.5" fill="#1e55ff" stroke="#1e55ff" stroke-width="0.9" stroke-linejoin="round"/>
<polygon points="187.9,550.8 189.9,547.6 194.1,543.6 193.0,546.0" fill="#3287ff" stroke="#3287ff" stroke-width="0.9" stroke-linejoin="round"/>
<polygon points="189.9,547.6 191.8,544.3 195.2,541.2 194.1,543.6" fill="#3cb4ff" stroke="#3cb4ff" stroke-width="0.9" stroke-linejoin="round"/>
<polygon points="191.8,544.3 193.8,541.1 196.3,538.7 195.2,541.2" fill="#3cdcff" stroke="#3cdcff" stroke-width="0.9" stroke-linejoin="round"/>
<polygon points="193.8,541.1 195.7,537.8 197.4,536.3 196.3,538.7" fill="#4bf4ef" stroke="#4bf4ef" stroke-width="0.9" stroke-linejoin="round"/>
<polygon points="195.7,537.8 197.7,534.6 198.5,533.8 197.4,536.3" fill="#69fbce" stroke="#69fbce" stroke-width="0.9" stroke-linejoin="round"/>
<polygon points="197.7,534.6 199.6,531.4 198.5,533.8" fill="#71ff93" stroke="#71ff93" stroke-width="0.9" stroke-linejoin="round"/>
<line x1="175.3" y1="571.8" x2="185.9" y2="561.6" stroke="#222" stroke-width="0.5"/>
<line x1="187.9" y1="550.8" x2="193.0" y2="546.0" stroke="#222" stroke-width="0.5"/>
<polygon points="274.5,542.3 274.8,543.4 274.7,542.2" fill="#348dff" stroke="#348dff" stroke-width="0.9" stroke-linejoin="round"/>
<polygon points="273.6,539.5 274.5,542.3 274.7,542.2 274.5,538.9" fill="#3cb4ff" stroke="#3cb4ff" stroke-width="0.9" stroke-linejoin="round"/>
<polygon points="272.7,536.7 273.6,539.5 274.5,538.9 274.3,535.7" fill="#3cdcff" stroke="#3cdcff" stroke-width="0.9" stroke-linejoin="round"/>
<polygon points="271.8,533.9 272.7,536.7 274.3,535.7 274.0,532.4" fill="#4bf4ef" stroke="#4bf4ef" stroke-width="0.9" stroke-linejoin="round"/>
<polygon points="270.9,531.0 271.8,533.9 274.0,532.4 273.8,529.2" fill="#69fbce" stroke="#69fbce" stroke-width="0.9" stroke-linejoin="round"/>
<polygon points="270.0,528.2 270.9,531.0 273.8,529.2 273.5,526.0" fill="#71ff93" stroke="#71ff93" stroke-width="0.9" stroke-linejoin="round"/>
<polygon points="269.1,525.3 270.0,528.2 273.5,526.0 273.3,522.7" fill="#64ff3c" stroke="#64ff3c" stroke-width="0.9" stroke-linejoin="round"/>
<polygon points="268.2,522.5 269.1,525.3 273.3,522.7 273.1,519.5" fill="#5eff2b" stroke="#5eff2b" stroke-width="0.9" stroke-linejoin="round"/>
<polygon points="267.3,519.6 268.2,522.5 273.1,519.5 272.8,516.2" fill="#59ff1a" stroke="#59ff1a" stroke-width="0.9" stroke-linejoin="round"/>
<polygon points="266.4,516.8 267.3,519.6 272.8,516.2 272.6,513.0" fill="#53ff09" stroke="#53ff09" stroke-width="0.9" stroke-linejoin="round"/>
<polygon points="265.5,513.9 266.4,516.8 272.6,513.0 272.4,509.8" fill="#55ff00" stroke="#55ff00" stroke-width="0.9" stroke-linejoin="round"/>
<polygon points="264.6,511.0 265.5,513.9 272.4,509.8 272.1,506.5" fill="#5fff00" stroke="#5fff00" stroke-width="0.9" stroke-linejoin="round"/>
<polygon points="263.7,508.2 264.6,511.0 272.1,506.5 271.9,503.3" fill="#69ff00" stroke="#69ff00" stroke-width="0.9" stroke-linejoin="round"/>
<polygon points="262.8,505.3 263.7,508.2 271.9,503.3 271.7,500.1" fill="#78ff00" stroke="#78ff00" stroke-width="0.9" stroke-linejoin="round"/>
<polygon points="261.9,502.4 262.8,505.3 271.7,500.1 271.4,496.8" fill="#8cff00" stroke="#8cff00" stroke-width="0.9" stroke-linejoin="round"/>
<polygon points="261.0,499.5 261.9,502.4 271.4,496.8 271.2,493.6" fill="#a2ff00" stroke="#a2ff00" stroke-width="0.9" stroke-linejoin="round"/>
<polygon points="260.0,496.6 261.0,499.5 271.2,493.6 271.0,490.4" fill="#bcff00" stroke="#bcff00" stroke-width="0.9" stroke-linejoin="round"/>
<polygon points="259.1,493.7 260.0,496.6 271.0,490.4 270.7,487.1" fill="#d3ff00" stroke="#d3ff00" stroke-width="0.9" stroke-linejoin="round"/>
<polygon points="258.2,490.8 259.1,493.7 270.7,487.1 270.5,483.9" fill="#eaff00" stroke="#eaff00" stroke-width="0.9" stroke-linejoin="round"/>
<polygon points="257.3,487.9 258.2,490.8 270.5,483.9 270.2,480.7" fill="#f9f700" stroke="#f9f700" stroke-width="0.9" stroke-linejoin="round"/>
<polygon points="256.4,485.0 257.3,487.9 270.2,480.7 270.0,477.4" fill="#ffe200" stroke="#ffe200" stroke-width="0.9" stroke-linejoin="round"/>
<polygon points="255.5,482.1 256.4,485.0 270.0,477.4 269.8,474.2" fill="#ffc600" stroke="#ffc600" stroke-width="0.9" stroke-linejoin="round"/>
<polygon points="254.5,479.2 255.5,482.1 269.8,474.2 269.5,471.0 254.5,479.2" fill="#ffa700" stroke="#ffa700" stroke-width="0.9" stroke-linejoin="round"/>
<polygon points="254.5,479.2 254.5,479.2 269.5,471.0 269.3,467.8 256.5,474.7" fill="#ff8800" stroke="#ff8800" stroke-width="0.9" stroke-linejoin="round"/>
<polygon points="269.3,467.8 269.1,464.5 258.5,470.2 256.5,474.7" fill="#ff6800" stroke="#ff6800" stroke-width="0.9" stroke-linejoin="round"/>
<polygon points="269.1,464.5 268.8,461.3 260.5,465.7 258.5,470.2" fill="#ff4c00" stroke="#ff4c00" stroke-width="0.9" stroke-linejoin="round"/>
<polygon points="268.8,461.3 268.6,458.1 262.4,461.3 260.5,465.7" fill="#ff3200" stroke="#ff3200" stroke-width="0.9" stroke-linejoin="round"/>
<polygon points="268.6,458.1 268.4,454.9 264.4,456.9 262.4,461.3" fill="#ff2a00" stroke="#ff2a00" stroke-width="0.9" stroke-linejoin="round"/>
<polygon points="268.4,454.9 268.1,451.6 266.3,452.6 264.4,456.9" fill="#ff2200" stroke="#ff2200" stroke-width="0.9" stroke-linejoin="round"/>
<polygon points="268.1,451.6 267.9,448.9 266.3,452.6" fill="#ff1d00" stroke="#ff1d00" stroke-width="0.9" stroke-linejoin="round"/>
<line x1="269.6" y1="526.8" x2="273.4" y2="524.3" stroke="#222" stroke-width="0.5"/>
<line x1="263.7" y1="508.2" x2="271.9" y2="503.3" stroke="#222" stroke-width="0.5"/>
<line x1="257.8" y1="489.4" x2="270.4" y2="482.3" stroke="#222" stroke-width="0.5"/>
<line x1="268.8" y1="461.3" x2="260.5" y2="465.7" stroke="#222" stroke-width="0.5"/>
<polygon points="314.3,585.1 315.9,584.9 315.4,584.4" fill="#4b00cc" stroke="#4b00cc" stroke-width="0.9" stroke-linejoin="round"/>
<polygon points="301.4,586.6 314.3,585.1 315.4,584.4 311.3,581.0" fill="#5000db" stroke="#5000db" stroke-width="0.9" stroke-linejoin="round"/>
<polygon points="288.3,588.3 301.4,586.6 311.3,581.0 307.2,577.6" fill="#4e00e8" stroke="#4e00e8" stroke-width="0.9" stroke-linejoin="round"/>
<polygon points="282.6,589.0 288.3,588.3 307.2,577.6 303.2,574.2 285.5,584.1" fill="#4900f1" stroke="#4900f1" stroke-width="0.9" stroke-linejoin="round"/>
<polygon points="303.2,574.2 299.1,570.7 290.5,575.5 285.5,584.1" fill="#4400fa" stroke="#4400fa" stroke-width="0.9" stroke-linejoin="round"/>
<polygon points="299.1,570.7 295.2,567.5 290.5,575.5" fill="#3704fc" stroke="#3704fc" stroke-width="0.9" stroke-linejoin="round"/>
<polygon points="214.0,499.9 215.0,497.4 214.9,497.0" fill="#78ff00" stroke="#78ff00" stroke-width="0.9" stroke-linejoin="round"/>
<polygon points="215.0,497.4 216.1,494.9 215.7,494.1 214.9,497.0" fill="#8cff00" stroke="#8cff00" stroke-width="0.9" stroke-linejoin="round"/>
<polygon points="216.1,494.9 217.1,492.4 216.6,491.2 215.7,494.1" fill="#a2ff00" stroke="#a2ff00" stroke-width="0.9" stroke-linejoin="round"/>
<polygon points="217.1,492.4 218.1,489.9 217.4,488.3 216.6,491.2" fill="#bcff00" stroke="#bcff00" stroke-width="0.9" stroke-linejoin="round"/>
<polygon points="218.1,489.9 219.1,487.3 218.3,485.4 217.4,488.3" fill="#d3ff00" stroke="#d3ff00" stroke-width="0.9" stroke-linejoin="round"/>
<polygon points="219.1,487.3 220.1,484.8 219.2,482.5 218.3,485.4" fill="#eaff00" stroke="#eaff00" stroke-width="0.9" stroke-linejoin="round"/>
<polygon points="220.1,484.8 221.1,482.2 220.0,479.5 219.2,482.5" fill="#f9f700" stroke="#f9f700" stroke-width="0.9" stroke-linejoin="round"/>
<polygon points="221.1,482.2 222.2,479.7 220.9,476.6 220.0,479.5" fill="#ffe200" stroke="#ffe200" stroke-width="0.9" stroke-linejoin="round"/>
<polygon points="222.2,479.7 223.2,477.1 221.7,473.7 220.9,476.6" fill="#ffc600" stroke="#ffc600" stroke-width="0.9" stroke-linejoin="round"/>
<polygon points="223.2,477.1 224.2,474.5 222.6,470.7 221.7,473.7" fill="#ffa700" stroke="#ffa700" stroke-width="0.9" stroke-linejoin="round"/>
<polygon points="224.2,474.5 225.3,471.9 223.4,467.8 222.6,470.7" fill="#ff8800" stroke="#ff8800" stroke-width="0.9" stroke-linejoin="round"/>
<polygon points="225.3,471.9 226.3,469.3 224.3,464.8 223.4,467.8" fill="#ff6800" stroke="#ff6800" stroke-width="0.9" stroke-linejoin="round"/>
<polygon points="226.3,469.3 227.4,466.7 225.2,461.9 224.3,464.8" fill="#ff4c00" stroke="#ff4c00" stroke-width="0.9" stroke-linejoin="round"/>
<polygon points="227.4,466.7 228.4,464.1 226.0,458.9 225.2,461.9" fill="#ff3200" stroke="#ff3200" stroke-width="0.9" stroke-linejoin="round"/>
<polygon points="228.4,464.1 229.5,461.5 226.9,456.0 226.0,458.9" fill="#ff2a00" stroke="#ff2a00" stroke-width="0.9" stroke-linejoin="round"/>
<polygon points="229.5,461.5 230.5,458.9 227.8,453.0 226.9,456.0" fill="#ff2200" stroke="#ff2200" stroke-width="0.9" stroke-linejoin="round"/>
<polygon points="230.5,458.9 231.6,456.2 228.6,450.1 227.8,453.0" fill="#ff1d00" stroke="#ff1d00" stroke-width="0.9" stroke-linejoin="round"/>
<polygon points="231.6,456.2 232.7,453.6 229.5,447.1 228.6,450.1" fill="#ff1c00" stroke="#ff1c00" stroke-width="0.9" stroke-linejoin="round"/>
<polygon points="232.7,453.6 233.7,450.9 230.4,444.1 229.5,447.1" fill="#ff1b00" stroke="#ff1b00" stroke-width="0.9" stroke-linejoin="round"/>
<polygon points="233.7,450.9 233.7,450.9 234.4,447.5 231.2,441.1 230.4,444.1" fill="#ff1a00" stroke="#ff1a00" stroke-width="0.9" stroke-linejoin="round"/>
<polygon points="234.4,447.5 235.2,444.2 232.1,438.2 231.2,441.1" fill="#ff1800" stroke="#ff1800" stroke-width="0.9" stroke-linejoin="round"/>
<polygon points="235.2,444.2 235.9,440.8 233.0,435.2 232.1,438.2" fill="#ff1700" stroke="#ff1700" stroke-width="0.9" stroke-linejoin="round"/>
<polygon points="235.9,440.8 236.6,437.4 233.9,432.2 233.0,435.2" fill="#ff1600" stroke="#ff1600" stroke-width="0.9" stroke-linejoin="round"/>
<polygon points="236.6,437.4 237.3,434.0 234.7,429.2 233.9,432.2" fill="#ff1500" stroke="#ff1500" stroke-width="0.9" stroke-linejoin="round"/>
<polygon points="237.3,434.0 238.0,430.7 235.6,426.2 234.7,429.2" fill="#fc1300" stroke="#fc1300" stroke-width="0.9" stroke-linejoin="round"/>
<polygon points="238.0,430.7 238.7,427.3 236.5,423.2 235.6,426.2" fill="#f61000" stroke="#f61000" stroke-width="0.9" stroke-linejoin="round"/>
<polygon points="238.7,427.3 239.4,423.9 237.4,420.2 236.5,423.2" fill="#ef0e00" stroke="#ef0e00" stroke-width="0.9" stroke-linejoin="round"/>
<polygon points="239.4,423.9 240.1,420.5 238.3,417.2 237.4,420.2" fill="#e90b00" stroke="#e90b00" stroke-width="0.9" stroke-linejoin="round"/>
<polygon points="240.1,420.5 240.9,417.2 239.1,414.2 238.3,417.2" fill="#dd0900" stroke="#dd0900" stroke-width="0.9" stroke-linejoin="round"/>
<polygon points="240.9,417.2 241.6,413.8 240.0,411.1 239.1,414.2" fill="#cc0600" stroke="#cc0600" stroke-width="0.9" stroke-linejoin="round"/>
<polygon points="241.6,413.8 242.3,410.5 240.9,408.1 240.0,411.1" fill="#ba0400" stroke="#ba0400" stroke-width="0.9" stroke-linejoin="round"/>
<polygon points="242.3,410.5 243.0,407.1 241.8,405.1 240.9,408.1" fill="#a90100" stroke="#a90100" stroke-width="0.9" stroke-linejoin="round"/>
<polygon points="243.0,407.1 243.7,403.7 242.7,402.1 241.8,405.1" fill="#9a0001" stroke="#9a0001" stroke-width="0.9" stroke-linejoin="round"/>
<polygon points="243.7,403.7 244.4,400.4 243.6,399.0 242.7,402.1" fill="#8d0002" stroke="#8d0002" stroke-width="0.9" stroke-linejoin="round"/>
<polygon points="244.4,400.4 245.1,397.0 244.5,396.0 243.6,399.0" fill="#810003" stroke="#810003" stroke-width="0.9" stroke-linejoin="round"/>
<polygon points="245.1,397.0 245.8,393.7 245.4,392.9 244.5,396.0" fill="#740004" stroke="#740004" stroke-width="0.9" stroke-linejoin="round"/>
<polygon points="245.8,393.7 246.5,390.3 246.2,389.9 245.4,392.9" fill="#680006" stroke="#680006" stroke-width="0.9" stroke-linejoin="round"/>
<polygon points="246.5,390.3 247.2,387.0 247.1,386.8 246.2,389.9" fill="#5c0008" stroke="#5c0008" stroke-width="0.9" stroke-linejoin="round"/>
<polygon points="247.2,387.0 247.6,385.3 247.1,386.8" fill="#510009" stroke="#510009" stroke-width="0.9" stroke-linejoin="round"/>
<line x1="220.6" y1="483.5" x2="219.6" y2="481.0" stroke="#222" stroke-width="0.5"/>
<line x1="227.4" y1="466.7" x2="225.2" y2="461.9" stroke="#222" stroke-width="0.5"/>
<line x1="234.1" y1="449.2" x2="230.8" y2="442.6" stroke="#222" stroke-width="0.5"/>
<line x1="238.7" y1="427.3" x2="236.5" y2="423.2" stroke="#222" stroke-width="0.5"/>
<line x1="243.3" y1="405.4" x2="242.2" y2="403.6" stroke="#222" stroke-width="0.5"/>
<polygon points="282.6,589.0 285.5,584.1 282.1,586.4" fill="#4900f1" stroke="#4900f1" stroke-width="0.9" stroke-linejoin="round"/>
<polygon points="285.5,584.1 290.5,575.5 281.4,581.8 282.1,586.4" fill="#4400fa" stroke="#4400fa" stroke-width="0.9" stroke-linejoin="round"/>
<polygon points="290.5,575.5 295.2,567.5 295.1,567.4 280.6,577.3 281.4,581.8" fill="#3704fc" stroke="#3704fc" stroke-width="0.9" stroke-linejoin="round"/>
<polygon points="295.1,567.4 292.4,564.2 279.8,572.7 280.6,577.3" fill="#2a08fe" stroke="#2a08fe" stroke-width="0.9" stroke-linejoin="round"/>
<polygon points="292.4,564.2 289.8,561.1 279.0,568.2 279.8,572.7" fill="#200cff" stroke="#200cff" stroke-width="0.9" stroke-linejoin="round"/>
<polygon points="289.8,561.1 287.1,557.9 278.3,563.8 279.0,568.2" fill="#1912ff" stroke="#1912ff" stroke-width="0.9" stroke-linejoin="round"/>
<polygon points="287.1,557.9 284.5,554.8 277.5,559.3 278.3,563.8" fill="#1216ff" stroke="#1216ff" stroke-width="0.9" stroke-linejoin="round"/>
<polygon points="284.5,554.8 281.8,551.6 276.8,554.9 277.5,559.3" fill="#1022ff" stroke="#1022ff" stroke-width="0.9" stroke-linejoin="round"/>
<polygon points="281.8,551.6 279.1,548.5 276.0,550.5 276.8,554.9" fill="#1333ff" stroke="#1333ff" stroke-width="0.9" stroke-linejoin="round"/>
<polygon points="279.1,548.5 276.5,545.4 275.3,546.1 276.0,550.5" fill="#1e55ff" stroke="#1e55ff" stroke-width="0.9" stroke-linejoin="round"/>
<polygon points="276.5,545.4 274.8,543.4 275.3,546.1" fill="#3287ff" stroke="#3287ff" stroke-width="0.9" stroke-linejoin="round"/>
<line x1="293.8" y1="565.8" x2="280.2" y2="575.0" stroke="#222" stroke-width="0.5"/>
<line x1="276.5" y1="545.4" x2="275.3" y2="546.1" stroke="#222" stroke-width="0.5"/>
<polygon points="199.6,531.4 200.9,528.3 201.7,526.8" fill="#64ff3c" stroke="#64ff3c" stroke-width="0.9" stroke-linejoin="round"/>
<polygon points="200.9,528.3 202.2,525.3 203.8,522.2 201.7,526.8" fill="#5eff2b" stroke="#5eff2b" stroke-width="0.9" stroke-linejoin="round"/>
<polygon points="202.2,525.3 203.5,522.2 205.9,517.7 203.8,522.2" fill="#59ff1a" stroke="#59ff1a" stroke-width="0.9" stroke-linejoin="round"/>
<polygon points="203.5,522.2 204.8,519.1 207.9,513.2 205.9,517.7" fill="#53ff09" stroke="#53ff09" stroke-width="0.9" stroke-linejoin="round"/>
<polygon points="204.8,519.1 206.1,516.0 210.0,508.8 207.9,513.2" fill="#55ff00" stroke="#55ff00" stroke-width="0.9" stroke-linejoin="round"/>
<polygon points="206.1,516.0 207.4,513.0 212.0,504.3 210.0,508.8" fill="#5fff00" stroke="#5fff00" stroke-width="0.9" stroke-linejoin="round"/>
<polygon points="207.4,513.0 208.7,509.9 214.0,499.9 214.0,499.9 212.0,504.3" fill="#69ff00" stroke="#69ff00" stroke-width="0.9" stroke-linejoin="round"/>
<polygon points="208.7,509.9 210.0,506.8 215.0,497.4 214.0,499.9 214.0,499.9" fill="#78ff00" stroke="#78ff00" stroke-width="0.9" stroke-linejoin="round"/>
<polygon points="210.0,506.8 211.3,503.7 216.1,494.9 215.0,497.4" fill="#8cff00" stroke="#8cff00" stroke-width="0.9" stroke-linejoin="round"/>
<polygon points="211.3,503.7 212.6,500.7 217.1,492.4 216.1,494.9" fill="#a2ff00" stroke="#a2ff00" stroke-width="0.9" stroke-linejoin="round"/>
<polygon points="212.6,500.7 214.0,497.6 218.1,489.9 217.1,492.4" fill="#bcff00" stroke="#bcff00" stroke-width="0.9" stroke-linejoin="round"/>
<polygon points="214.0,497.6 215.3,494.5 219.1,487.3 218.1,489.9" fill="#d3ff00" stroke="#d3ff00" stroke-width="0.9" stroke-linejoin="round"/>
<polygon points="215.3,494.5 216.6,491.4 220.1,484.8 219.1,487.3" fill="#eaff00" stroke="#eaff00" stroke-width="0.9" stroke-linejoin="round"/>
<polygon points="216.6,491.4 217.9,488.3 221.1,482.2 220.1,484.8" fill="#f9f700" stroke="#f9f700" stroke-width="0.9" stroke-linejoin="round"/>
<polygon points="217.9,488.3 219.2,485.2 222.2,479.7 221.1,482.2" fill="#ffe200" stroke="#ffe200" stroke-width="0.9" stroke-linejoin="round"/>
<polygon points="219.2,485.2 220.5,482.1 223.2,477.1 222.2,479.7" fill="#ffc600" stroke="#ffc600" stroke-width="0.9" stroke-linejoin="round"/>
<polygon points="220.5,482.1 221.8,479.0 224.2,474.5 223.2,477.1" fill="#ffa700" stroke="#ffa700" stroke-width="0.9" stroke-linejoin="round"/>
<polygon points="221.8,479.0 223.1,475.9 225.3,471.9 224.2,474.5" fill="#ff8800" stroke="#ff8800" stroke-width="0.9" stroke-linejoin="round"/>
<polygon points="223.1,475.9 224.5,472.8 226.3,469.3 225.3,471.9" fill="#ff6800" stroke="#ff6800" stroke-width="0.9" stroke-linejoin="round"/>
<polygon points="224.5,472.8 225.8,469.7 227.4,466.7 226.3,469.3" fill="#ff4c00" stroke="#ff4c00" stroke-width="0.9" stroke-linejoin="round"/>
<polygon points="225.8,469.7 227.1,466.5 228.4,464.1 227.4,466.7" fill="#ff3200" stroke="#ff3200" stroke-width="0.9" stroke-linejoin="round"/>
<polygon points="227.1,466.5 228.4,463.4 229.5,461.5 228.4,464.1" fill="#ff2a00" stroke="#ff2a00" stroke-width="0.9" stroke-linejoin="round"/>
<polygon points="228.4,463.4 229.7,460.3 230.5,458.9 229.5,461.5" fill="#ff2200" stroke="#ff2200" stroke-width="0.9" stroke-linejoin="round"/>
<polygon points="229.7,460.3 231.1,457.2 231.6,456.2 230.5,458.9" fill="#ff1d00" stroke="#ff1d00" stroke-width="0.9" stroke-linejoin="round"/>
<polygon points="231.1,457.2 232.4,454.1 232.7,453.6 231.6,456.2" fill="#ff1c00" stroke="#ff1c00" stroke-width="0.9" stroke-linejoin="round"/>
<polygon points="232.4,454.1 233.7,450.9 233.7,450.9 232.7,453.6" fill="#ff1b00" stroke="#ff1b00" stroke-width="0.9" stroke-linejoin="round"/>
<polygon points="233.7,450.9 233.7,450.9 233.7,450.9" fill="#ff1a00" stroke="#ff1a00" stroke-width="0.9" stroke-linejoin="round"/>
<line x1="200.3" y1="529.8" x2="200.7" y2="529.1" stroke="#222" stroke-width="0.5"/>
<line x1="217.2" y1="489.8" x2="220.6" y2="483.5" stroke="#222" stroke-width="0.5"/>
<line x1="225.8" y1="469.7" x2="227.4" y2="466.7" stroke="#222" stroke-width="0.5"/>
<polygon points="129.0,601.4 146.3,595.1 155.1,587.1 146.0,586.1" fill="#4600c3" stroke="#4600c3" stroke-width="0.9" stroke-linejoin="round"/>
<polygon points="146.3,595.1 165.5,588.1 155.1,587.1" fill="#5000da" stroke="#5000da" stroke-width="0.9" stroke-linejoin="round"/>
<polygon points="254.5,479.2 256.5,474.7 254.3,475.9" fill="#ff8800" stroke="#ff8800" stroke-width="0.9" stroke-linejoin="round"/>
<polygon points="256.5,474.7 258.5,470.2 254.0,472.6 254.3,475.9" fill="#ff6800" stroke="#ff6800" stroke-width="0.9" stroke-linejoin="round"/>
<polygon points="258.5,470.2 260.5,465.7 253.8,469.2 254.0,472.6" fill="#ff4c00" stroke="#ff4c00" stroke-width="0.9" stroke-linejoin="round"/>
<polygon points="260.5,465.7 262.4,461.3 253.6,465.9 253.8,469.2" fill="#ff3200" stroke="#ff3200" stroke-width="0.9" stroke-linejoin="round"/>
<polygon points="262.4,461.3 264.4,456.9 253.3,462.6 253.6,465.9" fill="#ff2a00" stroke="#ff2a00" stroke-width="0.9" stroke-linejoin="round"/>
<polygon points="264.4,456.9 266.3,452.6 253.1,459.3 253.3,462.6" fill="#ff2200" stroke="#ff2200" stroke-width="0.9" stroke-linejoin="round"/>
<polygon points="266.3,452.6 267.9,448.9 267.8,448.5 252.8,456.0 253.1,459.3" fill="#ff1d00" stroke="#ff1d00" stroke-width="0.9" stroke-linejoin="round"/>
<polygon points="267.8,448.5 266.9,445.6 252.6,452.7 252.8,456.0" fill="#ff1c00" stroke="#ff1c00" stroke-width="0.9" stroke-linejoin="round"/>
<polygon points="266.9,445.6 265.9,442.7 252.3,449.4 252.6,452.7" fill="#ff1b00" stroke="#ff1b00" stroke-width="0.9" stroke-linejoin="round"/>
<polygon points="265.9,442.7 265.0,439.8 252.1,446.1 252.3,449.4" fill="#ff1a00" stroke="#ff1a00" stroke-width="0.9" stroke-linejoin="round"/>
<polygon points="265.0,439.8 264.1,436.9 251.8,442.8 252.1,446.1" fill="#ff1800" stroke="#ff1800" stroke-width="0.9" stroke-linejoin="round"/>
<polygon points="264.1,436.9 263.2,434.0 251.6,439.5 251.8,442.8" fill="#ff1700" stroke="#ff1700" stroke-width="0.9" stroke-linejoin="round"/>
<polygon points="263.2,434.0 262.2,431.1 251.4,436.2 251.6,439.5" fill="#ff1600" stroke="#ff1600" stroke-width="0.9" stroke-linejoin="round"/>
<polygon points="262.2,431.1 261.3,428.1 251.1,433.0 251.4,436.2" fill="#ff1500" stroke="#ff1500" stroke-width="0.9" stroke-linejoin="round"/>
<polygon points="261.3,428.1 260.4,425.2 250.9,429.7 251.1,433.0" fill="#fc1300" stroke="#fc1300" stroke-width="0.9" stroke-linejoin="round"/>
<polygon points="260.4,425.2 259.4,422.3 250.6,426.4 250.9,429.7" fill="#f61000" stroke="#f61000" stroke-width="0.9" stroke-linejoin="round"/>
<polygon points="259.4,422.3 258.5,419.4 250.4,423.1 250.6,426.4" fill="#ef0e00" stroke="#ef0e00" stroke-width="0.9" stroke-linejoin="round"/>
<polygon points="258.5,419.4 257.5,416.4 250.1,419.8 250.4,423.1" fill="#e90b00" stroke="#e90b00" stroke-width="0.9" stroke-linejoin="round"/>
<polygon points="257.5,416.4 256.6,413.5 249.9,416.5 250.1,419.8" fill="#dd0900" stroke="#dd0900" stroke-width="0.9" stroke-linejoin="round"/>
<polygon points="256.6,413.5 255.7,410.5 249.7,413.2 249.9,416.5" fill="#cc0600" stroke="#cc0600" stroke-width="0.9" stroke-linejoin="round"/>
<polygon points="255.7,410.5 254.7,407.6 249.4,409.9 249.7,413.2" fill="#ba0400" stroke="#ba0400" stroke-width="0.9" stroke-linejoin="round"/>
<polygon points="254.7,407.6 253.8,404.6 249.2,406.6 249.4,409.9" fill="#a90100" stroke="#a90100" stroke-width="0.9" stroke-linejoin="round"/>
<polygon points="253.8,404.6 252.8,401.7 248.9,403.4 249.2,406.6" fill="#9a0001" stroke="#9a0001" stroke-width="0.9" stroke-linejoin="round"/>
<polygon points="252.8,401.7 251.9,398.7 248.7,400.1 248.9,403.4" fill="#8d0002" stroke="#8d0002" stroke-width="0.9" stroke-linejoin="round"/>
<polygon points="251.9,398.7 250.9,395.7 248.4,396.8 248.7,400.1" fill="#810003" stroke="#810003" stroke-width="0.9" stroke-linejoin="round"/>
<polygon points="250.9,395.7 250.0,392.8 248.2,393.5 248.4,396.8" fill="#740004" stroke="#740004" stroke-width="0.9" stroke-linejoin="round"/>
<polygon points="250.0,392.8 249.0,389.8 248.0,390.2 248.2,393.5" fill="#680006" stroke="#680006" stroke-width="0.9" stroke-linejoin="round"/>
<polygon points="249.0,389.8 248.1,386.8 247.7,386.9 248.0,390.2" fill="#5c0008" stroke="#5c0008" stroke-width="0.9" stroke-linejoin="round"/>
<polygon points="248.1,386.8 247.6,385.3 247.7,386.9" fill="#510009" stroke="#510009" stroke-width="0.9" stroke-linejoin="round"/>
<line x1="260.5" y1="465.7" x2="253.8" y2="469.2" stroke="#222" stroke-width="0.5"/>
<line x1="265.5" y1="441.2" x2="252.2" y2="447.8" stroke="#222" stroke-width="0.5"/>
<line x1="259.4" y1="422.3" x2="250.6" y2="426.4" stroke="#222" stroke-width="0.5"/>
<line x1="253.3" y1="403.1" x2="249.1" y2="405.0" stroke="#222" stroke-width="0.5"/>
<polygon points="114.4,597.1 129.0,601.4 146.0,586.1 119.1,593.1" fill="#4600c3" stroke="#4600c3" stroke-width="0.9" stroke-linejoin="round"/>
<polygon points="109.3,595.6 114.4,597.1 119.1,593.1" fill="#4f00d5" stroke="#4f00d5" stroke-width="0.9" stroke-linejoin="round"/>
<polygon points="279.2,586.8 282.6,589.0 282.1,586.4" fill="#4900f1" stroke="#4900f1" stroke-width="0.9" stroke-linejoin="round"/>
<polygon points="273.3,582.9 279.2,586.8 282.1,586.4 281.4,581.8" fill="#4400fa" stroke="#4400fa" stroke-width="0.9" stroke-linejoin="round"/>
<polygon points="267.4,579.1 273.3,582.9 281.4,581.8 280.6,577.3" fill="#3704fc" stroke="#3704fc" stroke-width="0.9" stroke-linejoin="round"/>
<polygon points="261.6,575.2 267.4,579.1 280.6,577.3 279.8,572.7" fill="#2a08fe" stroke="#2a08fe" stroke-width="0.9" stroke-linejoin="round"/>
<polygon points="261.5,575.2 261.6,575.2 279.8,572.7 279.0,568.2 263.6,570.4" fill="#200cff" stroke="#200cff" stroke-width="0.9" stroke-linejoin="round"/>
<polygon points="279.0,568.2 278.3,563.8 265.6,565.5 263.6,570.4" fill="#1912ff" stroke="#1912ff" stroke-width="0.9" stroke-linejoin="round"/>
<polygon points="278.3,563.8 277.5,559.3 267.6,560.6 265.6,565.5" fill="#1216ff" stroke="#1216ff" stroke-width="0.9" stroke-linejoin="round"/>
<polygon points="277.5,559.3 276.8,554.9 269.6,555.8 267.6,560.6" fill="#1022ff" stroke="#1022ff" stroke-width="0.9" stroke-linejoin="round"/>
<polygon points="276.8,554.9 276.0,550.5 271.6,551.1 269.6,555.8" fill="#1333ff" stroke="#1333ff" stroke-width="0.9" stroke-linejoin="round"/>
<polygon points="276.0,550.5 275.3,546.1 273.6,546.3 271.6,551.1" fill="#1e55ff" stroke="#1e55ff" stroke-width="0.9" stroke-linejoin="round"/>
<polygon points="275.3,546.1 274.8,543.4 273.6,546.3" fill="#3287ff" stroke="#3287ff" stroke-width="0.9" stroke-linejoin="round"/>
<line x1="264.5" y1="577.2" x2="280.2" y2="575.0" stroke="#222" stroke-width="0.5"/>
<line x1="275.3" y1="546.1" x2="273.6" y2="546.3" stroke="#222" stroke-width="0.5"/>
<polygon points="270.6,543.7 274.8,543.4 274.5,542.3" fill="#348dff" stroke="#348dff" stroke-width="0.9" stroke-linejoin="round"/>
<polygon points="259.4,544.3 270.6,543.7 274.5,542.3 273.6,539.5" fill="#3cb4ff" stroke="#3cb4ff" stroke-width="0.9" stroke-linejoin="round"/>
<polygon points="248.1,544.9 259.4,544.3 273.6,539.5 272.7,536.7" fill="#3cdcff" stroke="#3cdcff" stroke-width="0.9" stroke-linejoin="round"/>
<polygon points="240.6,545.3 248.1,544.9 272.7,536.7 271.8,533.9 240.9,544.0" fill="#4bf4ef" stroke="#4bf4ef" stroke-width="0.9" stroke-linejoin="round"/>
<polygon points="271.8,533.9 270.9,531.0 241.6,540.6 240.9,544.0" fill="#69fbce" stroke="#69fbce" stroke-width="0.9" stroke-linejoin="round"/>
<polygon points="270.9,531.0 270.0,528.2 242.3,537.2 241.6,540.6" fill="#71ff93" stroke="#71ff93" stroke-width="0.9" stroke-linejoin="round"/>
<polygon points="270.0,528.2 269.1,525.3 243.1,533.7 242.3,537.2" fill="#64ff3c" stroke="#64ff3c" stroke-width="0.9" stroke-linejoin="round"/>
<polygon points="269.1,525.3 268.2,522.5 243.8,530.3 243.1,533.7" fill="#5eff2b" stroke="#5eff2b" stroke-width="0.9" stroke-linejoin="round"/>
<polygon points="268.2,522.5 267.3,519.6 244.5,526.9 243.8,530.3" fill="#59ff1a" stroke="#59ff1a" stroke-width="0.9" stroke-linejoin="round"/>
<polygon points="267.3,519.6 266.4,516.8 245.2,523.5 244.5,526.9" fill="#53ff09" stroke="#53ff09" stroke-width="0.9" stroke-linejoin="round"/>
<polygon points="266.4,516.8 265.5,513.9 245.9,520.0 245.2,523.5" fill="#55ff00" stroke="#55ff00" stroke-width="0.9" stroke-linejoin="round"/>
<polygon points="265.5,513.9 264.6,511.0 246.7,516.6 245.9,520.0" fill="#5fff00" stroke="#5fff00" stroke-width="0.9" stroke-linejoin="round"/>
<polygon points="264.6,511.0 263.7,508.2 247.4,513.2 246.7,516.6" fill="#69ff00" stroke="#69ff00" stroke-width="0.9" stroke-linejoin="round"/>
<polygon points="263.7,508.2 262.8,505.3 248.1,509.8 247.4,513.2" fill="#78ff00" stroke="#78ff00" stroke-width="0.9" stroke-linejoin="round"/>
<polygon points="262.8,505.3 261.9,502.4 248.8,506.4 248.1,509.8" fill="#8cff00" stroke="#8cff00" stroke-width="0.9" stroke-linejoin="round"/>
<polygon points="261.9,502.4 261.0,499.5 249.5,503.0 248.8,506.4" fill="#a2ff00" stroke="#a2ff00" stroke-width="0.9" stroke-linejoin="round"/>
<polygon points="261.0,499.5 260.0,496.6 250.2,499.6 249.5,503.0" fill="#bcff00" stroke="#bcff00" stroke-width="0.9" stroke-linejoin="round"/>
<polygon points="260.0,496.6 259.1,493.7 251.0,496.2 250.2,499.6" fill="#d3ff00" stroke="#d3ff00" stroke-width="0.9" stroke-linejoin="round"/>
<polygon points="259.1,493.7 258.2,490.8 251.7,492.8 251.0,496.2" fill="#eaff00" stroke="#eaff00" stroke-width="0.9" stroke-linejoin="round"/>
<polygon points="258.2,490.8 257.3,487.9 252.4,489.4 251.7,492.8" fill="#f9f700" stroke="#f9f700" stroke-width="0.9" stroke-linejoin="round"/>
<polygon points="257.3,487.9 256.4,485.0 253.1,486.0 252.4,489.4" fill="#ffe200" stroke="#ffe200" stroke-width="0.9" stroke-linejoin="round"/>
<polygon points="256.4,485.0 255.5,482.1 253.8,482.6 253.1,486.0" fill="#ffc600" stroke="#ffc600" stroke-width="0.9" stroke-linejoin="round"/>
<polygon points="255.5,482.1 254.5,479.2 253.8,482.6" fill="#ffa700" stroke="#ffa700" stroke-width="0.9" stroke-linejoin="round"/>
<line x1="269.6" y1="526.8" x2="242.7" y2="535.5" stroke="#222" stroke-width="0.5"/>
<line x1="263.7" y1="508.2" x2="247.4" y2="513.2" stroke="#222" stroke-width="0.5"/>
<line x1="257.8" y1="489.4" x2="252.0" y2="491.1" stroke="#222" stroke-width="0.5"/>
<polygon points="302.8,599.6 303.9,600.2 315.9,584.9 314.3,585.1" fill="#4a00cc" stroke="#4a00cc" stroke-width="0.9" stroke-linejoin="round"/>
<polygon points="294.4,595.2 302.8,599.6 314.3,585.1 301.4,586.6" fill="#5000db" stroke="#5000db" stroke-width="0.9" stroke-linejoin="round"/>
<polygon points="286.2,590.9 294.4,595.2 301.4,586.6 288.3,588.3" fill="#4e00e8" stroke="#4e00e8" stroke-width="0.9" stroke-linejoin="round"/>
<polygon points="282.6,589.0 286.2,590.9 288.3,588.3" fill="#4900f0" stroke="#4900f0" stroke-width="0.9" stroke-linejoin="round"/>
<polygon points="259.4,572.1 261.5,575.2 263.6,570.4" fill="#200cff" stroke="#200cff" stroke-width="0.9" stroke-linejoin="round"/>
<polygon points="257.2,569.0 259.4,572.1 263.6,570.4 265.6,565.5" fill="#1912ff" stroke="#1912ff" stroke-width="0.9" stroke-linejoin="round"/>
<polygon points="255.1,565.9 257.2,569.0 265.6,565.5 267.6,560.6" fill="#1216ff" stroke="#1216ff" stroke-width="0.9" stroke-linejoin="round"/>
<polygon points="252.9,562.8 255.1,565.9 267.6,560.6 269.6,555.8" fill="#1022ff" stroke="#1022ff" stroke-width="0.9" stroke-linejoin="round"/>
<polygon points="250.7,559.7 252.9,562.8 269.6,555.8 271.6,551.1" fill="#1333ff" stroke="#1333ff" stroke-width="0.9" stroke-linejoin="round"/>
<polygon points="248.6,556.6 250.7,559.7 271.6,551.1 273.6,546.3" fill="#1e55ff" stroke="#1e55ff" stroke-width="0.9" stroke-linejoin="round"/>
<polygon points="246.4,553.5 248.6,556.6 273.6,546.3 274.8,543.4 270.6,543.7" fill="#3287ff" stroke="#3287ff" stroke-width="0.9" stroke-linejoin="round"/>
<polygon points="244.2,550.4 246.4,553.5 270.6,543.7 259.4,544.3" fill="#3cb4ff" stroke="#3cb4ff" stroke-width="0.9" stroke-linejoin="round"/>
<polygon points="242.0,547.3 244.2,550.4 259.4,544.3 248.1,544.9" fill="#3cdcff" stroke="#3cdcff" stroke-width="0.9" stroke-linejoin="round"/>
<polygon points="240.6,545.3 242.0,547.3 248.1,544.9" fill="#4bf4ef" stroke="#4bf4ef" stroke-width="0.9" stroke-linejoin="round"/>
<line x1="248.6" y1="556.6" x2="273.6" y2="546.3" stroke="#222" stroke-width="0.5"/>
<polygon points="252.2,476.0 254.5,479.2 254.3,475.9" fill="#ff8800" stroke="#ff8800" stroke-width="0.9" stroke-linejoin="round"/>
<polygon points="249.9,472.9 252.2,476.0 254.3,475.9 254.0,472.6" fill="#ff6800" stroke="#ff6800" stroke-width="0.9" stroke-linejoin="round"/>
<polygon points="247.6,469.8 249.9,472.9 254.0,472.6 253.8,469.2" fill="#ff4c00" stroke="#ff4c00" stroke-width="0.9" stroke-linejoin="round"/>
<polygon points="245.3,466.6 247.6,469.8 253.8,469.2 253.6,465.9" fill="#ff3200" stroke="#ff3200" stroke-width="0.9" stroke-linejoin="round"/>
<polygon points="243.0,463.5 245.3,466.6 253.6,465.9 253.3,462.6" fill="#ff2a00" stroke="#ff2a00" stroke-width="0.9" stroke-linejoin="round"/>
<polygon points="240.7,460.3 243.0,463.5 253.3,462.6 253.1,459.3" fill="#ff2200" stroke="#ff2200" stroke-width="0.9" stroke-linejoin="round"/>
<polygon points="238.4,457.2 240.7,460.3 253.1,459.3 252.8,456.0" fill="#ff1d00" stroke="#ff1d00" stroke-width="0.9" stroke-linejoin="round"/>
<polygon points="236.1,454.1 238.4,457.2 252.8,456.0 252.6,452.7" fill="#ff1c00" stroke="#ff1c00" stroke-width="0.9" stroke-linejoin="round"/>
<polygon points="233.8,450.9 236.1,454.1 252.6,452.7 252.3,449.4" fill="#ff1b00" stroke="#ff1b00" stroke-width="0.9" stroke-linejoin="round"/>
<polygon points="233.7,450.9 233.8,450.9 252.3,449.4 252.1,446.1 234.4,447.5" fill="#ff1a00" stroke="#ff1a00" stroke-width="0.9" stroke-linejoin="round"/>
<polygon points="252.1,446.1 251.8,442.8 235.2,444.2 234.4,447.5" fill="#ff1800" stroke="#ff1800" stroke-width="0.9" stroke-linejoin="round"/>
<polygon points="251.8,442.8 251.6,439.5 235.9,440.8 235.2,444.2" fill="#ff1700" stroke="#ff1700" stroke-width="0.9" stroke-linejoin="round"/>
<polygon points="251.6,439.5 251.4,436.2 236.6,437.4 235.9,440.8" fill="#ff1600" stroke="#ff1600" stroke-width="0.9" stroke-linejoin="round"/>
<polygon points="251.4,436.2 251.1,433.0 237.3,434.0 236.6,437.4" fill="#ff1500" stroke="#ff1500" stroke-width="0.9" stroke-linejoin="round"/>
<polygon points="251.1,433.0 250.9,429.7 238.0,430.7 237.3,434.0" fill="#fc1300" stroke="#fc1300" stroke-width="0.9" stroke-linejoin="round"/>
<polygon points="250.9,429.7 250.6,426.4 238.7,427.3 238.0,430.7" fill="#f61000" stroke="#f61000" stroke-width="0.9" stroke-linejoin="round"/>
<polygon points="250.6,426.4 250.4,423.1 239.4,423.9 238.7,427.3" fill="#ef0e00" stroke="#ef0e00" stroke-width="0.9" stroke-linejoin="round"/>
<polygon points="250.4,423.1 250.1,419.8 240.1,420.5 239.4,423.9" fill="#e90b00" stroke="#e90b00" stroke-width="0.9" stroke-linejoin="round"/>
<polygon points="250.1,419.8 249.9,416.5 240.9,417.2 240.1,420.5" fill="#dd0900" stroke="#dd0900" stroke-width="0.9" stroke-linejoin="round"/>
<polygon points="249.9,416.5 249.7,413.2 241.6,413.8 240.9,417.2" fill="#cc0600" stroke="#cc0600" stroke-width="0.9" stroke-linejoin="round"/>
<polygon points="249.7,413.2 249.4,409.9 242.3,410.5 241.6,413.8" fill="#ba0400" stroke="#ba0400" stroke-width="0.9" stroke-linejoin="round"/>
<polygon points="249.4,409.9 249.2,406.6 243.0,407.1 242.3,410.5" fill="#a90100" stroke="#a90100" stroke-width="0.9" stroke-linejoin="round"/>
<polygon points="249.2,406.6 248.9,403.4 243.7,403.7 243.0,407.1" fill="#9a0001" stroke="#9a0001" stroke-width="0.9" stroke-linejoin="round"/>
<polygon points="248.9,403.4 248.7,400.1 244.4,400.4 243.7,403.7" fill="#8d0002" stroke="#8d0002" stroke-width="0.9" stroke-linejoin="round"/>
<polygon points="248.7,400.1 248.4,396.8 245.1,397.0 244.4,400.4" fill="#810003" stroke="#810003" stroke-width="0.9" stroke-linejoin="round"/>
<polygon points="248.4,396.8 248.2,393.5 245.8,393.7 245.1,397.0" fill="#740004" stroke="#740004" stroke-width="0.9" stroke-linejoin="round"/>
<polygon points="248.2,393.5 248.0,390.2 246.5,390.3 245.8,393.7" fill="#680006" stroke="#680006" stroke-width="0.9" stroke-linejoin="round"/>
<polygon points="248.0,390.2 247.7,386.9 247.2,387.0 246.5,390.3" fill="#5c0008" stroke="#5c0008" stroke-width="0.9" stroke-linejoin="round"/>
<polygon points="247.7,386.9 247.6,385.3 247.2,387.0" fill="#510009" stroke="#510009" stroke-width="0.9" stroke-linejoin="round"/>
<line x1="247.6" y1="469.8" x2="253.8" y2="469.2" stroke="#222" stroke-width="0.5"/>
<line x1="252.2" y1="447.8" x2="234.1" y2="449.2" stroke="#222" stroke-width="0.5"/>
<line x1="250.6" y1="426.4" x2="238.7" y2="427.3" stroke="#222" stroke-width="0.5"/>
<line x1="249.1" y1="405.0" x2="243.3" y2="405.4" stroke="#222" stroke-width="0.5"/>
<polygon points="165.5,588.1 166.4,586.9 166.5,586.3" fill="#5000db" stroke="#5000db" stroke-width="0.9" stroke-linejoin="round"/>
<polygon points="166.4,586.9 168.0,584.6 168.5,583.1 166.5,586.3" fill="#4e00e8" stroke="#4e00e8" stroke-width="0.9" stroke-linejoin="round"/>
<polygon points="168.0,584.6 169.6,582.3 170.4,579.9 168.5,583.1" fill="#4900f1" stroke="#4900f1" stroke-width="0.9" stroke-linejoin="round"/>
<polygon points="169.6,582.3 171.2,580.1 172.4,576.6 170.4,579.9" fill="#4400fa" stroke="#4400fa" stroke-width="0.9" stroke-linejoin="round"/>
<polygon points="171.2,580.1 172.9,577.8 174.3,573.4 172.4,576.6" fill="#3704fc" stroke="#3704fc" stroke-width="0.9" stroke-linejoin="round"/>
<polygon points="172.9,577.8 174.5,575.5 176.3,570.2 174.3,573.4" fill="#2a08fe" stroke="#2a08fe" stroke-width="0.9" stroke-linejoin="round"/>
<polygon points="174.5,575.5 176.1,573.2 178.2,567.0 176.3,570.2" fill="#200cff" stroke="#200cff" stroke-width="0.9" stroke-linejoin="round"/>
<polygon points="176.1,573.2 177.8,570.9 180.1,563.7 178.2,567.0" fill="#1912ff" stroke="#1912ff" stroke-width="0.9" stroke-linejoin="round"/>
<polygon points="177.8,570.9 179.5,568.5 182.1,560.5 180.1,563.7" fill="#1216ff" stroke="#1216ff" stroke-width="0.9" stroke-linejoin="round"/>
<polygon points="179.5,568.5 181.1,566.2 184.0,557.3 182.1,560.5" fill="#1022ff" stroke="#1022ff" stroke-width="0.9" stroke-linejoin="round"/>
<polygon points="181.1,566.2 182.8,563.9 186.0,554.0 184.0,557.3" fill="#1333ff" stroke="#1333ff" stroke-width="0.9" stroke-linejoin="round"/>
<polygon points="182.8,563.9 184.5,561.5 184.5,561.5 187.9,550.8 186.0,554.0" fill="#1e55ff" stroke="#1e55ff" stroke-width="0.9" stroke-linejoin="round"/>
<polygon points="184.5,561.5 184.5,561.5 187.1,556.4 189.9,547.6 187.9,550.8" fill="#3287ff" stroke="#3287ff" stroke-width="0.9" stroke-linejoin="round"/>
<polygon points="187.1,556.4 189.6,551.3 191.8,544.3 189.9,547.6" fill="#3cb4ff" stroke="#3cb4ff" stroke-width="0.9" stroke-linejoin="round"/>
<polygon points="189.6,551.3 192.1,546.3 193.8,541.1 191.8,544.3" fill="#3cdcff" stroke="#3cdcff" stroke-width="0.9" stroke-linejoin="round"/>
<polygon points="192.1,546.3 194.7,541.3 195.7,537.8 193.8,541.1" fill="#4bf4ef" stroke="#4bf4ef" stroke-width="0.9" stroke-linejoin="round"/>
<polygon points="194.7,541.3 197.2,536.3 197.7,534.6 195.7,537.8" fill="#69fbce" stroke="#69fbce" stroke-width="0.9" stroke-linejoin="round"/>
<polygon points="197.2,536.3 199.6,531.4 197.7,534.6" fill="#71ff93" stroke="#71ff93" stroke-width="0.9" stroke-linejoin="round"/>
<line x1="173.7" y1="576.6" x2="175.3" y2="571.8" stroke="#222" stroke-width="0.5"/>
<polygon points="129.0,601.4 139.6,602.7 146.3,595.1" fill="#4600c3" stroke="#4600c3" stroke-width="0.9" stroke-linejoin="round"/>
<polygon points="139.6,602.7 148.8,603.9 165.5,588.1 146.3,595.1" fill="#5000da" stroke="#5000da" stroke-width="0.9" stroke-linejoin="round"/>
<polygon points="199.6,531.4 202.1,529.1 200.9,528.3" fill="#64ff3c" stroke="#64ff3c" stroke-width="0.9" stroke-linejoin="round"/>
<polygon points="202.1,529.1 204.6,526.9 202.2,525.3 200.9,528.3" fill="#5eff2b" stroke="#5eff2b" stroke-width="0.9" stroke-linejoin="round"/>
<polygon points="204.6,526.9 207.0,524.6 203.5,522.2 202.2,525.3" fill="#59ff1a" stroke="#59ff1a" stroke-width="0.9" stroke-linejoin="round"/>
<polygon points="207.0,524.6 209.5,522.4 204.8,519.1 203.5,522.2" fill="#53ff09" stroke="#53ff09" stroke-width="0.9" stroke-linejoin="round"/>
<polygon points="209.5,522.4 212.0,520.1 206.1,516.0 204.8,519.1" fill="#55ff00" stroke="#55ff00" stroke-width="0.9" stroke-linejoin="round"/>
<polygon points="212.0,520.1 214.6,517.8 207.4,513.0 206.1,516.0" fill="#5fff00" stroke="#5fff00" stroke-width="0.9" stroke-linejoin="round"/>
<polygon points="214.6,517.8 217.1,515.5 208.7,509.9 207.4,513.0" fill="#69ff00" stroke="#69ff00" stroke-width="0.9" stroke-linejoin="round"/>
<polygon points="217.1,515.5 219.6,513.2 219.6,513.2 210.0,506.8 208.7,509.9" fill="#78ff00" stroke="#78ff00" stroke-width="0.9" stroke-linejoin="round"/>
<polygon points="219.6,513.2 219.6,513.2 220.4,509.7 211.3,503.7 210.0,506.8" fill="#8cff00" stroke="#8cff00" stroke-width="0.9" stroke-linejoin="round"/>
<polygon points="220.4,509.7 221.2,506.2 212.6,500.7 211.3,503.7" fill="#a2ff00" stroke="#a2ff00" stroke-width="0.9" stroke-linejoin="round"/>
<polygon points="221.2,506.2 222.0,502.7 214.0,497.6 212.6,500.7" fill="#bcff00" stroke="#bcff00" stroke-width="0.9" stroke-linejoin="round"/>
<polygon points="222.0,502.7 222.8,499.3 215.3,494.5 214.0,497.6" fill="#d3ff00" stroke="#d3ff00" stroke-width="0.9" stroke-linejoin="round"/>
<polygon points="222.8,499.3 223.6,495.8 216.6,491.4 215.3,494.5" fill="#eaff00" stroke="#eaff00" stroke-width="0.9" stroke-linejoin="round"/>
<polygon points="223.6,495.8 224.4,492.3 217.9,488.3 216.6,491.4" fill="#f9f700" stroke="#f9f700" stroke-width="0.9" stroke-linejoin="round"/>
<polygon points="224.4,492.3 225.1,488.9 219.2,485.2 217.9,488.3" fill="#ffe200" stroke="#ffe200" stroke-width="0.9" stroke-linejoin="round"/>
<polygon points="225.1,488.9 225.9,485.4 220.5,482.1 219.2,485.2" fill="#ffc600" stroke="#ffc600" stroke-width="0.9" stroke-linejoin="round"/>
<polygon points="225.9,485.4 226.7,481.9 221.8,479.0 220.5,482.1" fill="#ffa700" stroke="#ffa700" stroke-width="0.9" stroke-linejoin="round"/>
<polygon points="226.7,481.9 227.5,478.5 223.1,475.9 221.8,479.0" fill="#ff8800" stroke="#ff8800" stroke-width="0.9" stroke-linejoin="round"/>
<polygon points="227.5,478.5 228.3,475.0 224.5,472.8 223.1,475.9" fill="#ff6800" stroke="#ff6800" stroke-width="0.9" stroke-linejoin="round"/>
<polygon points="228.3,475.0 229.1,471.6 225.8,469.7 224.5,472.8" fill="#ff4c00" stroke="#ff4c00" stroke-width="0.9" stroke-linejoin="round"/>
<polygon points="229.1,471.6 229.8,468.1 227.1,466.5 225.8,469.7" fill="#ff3200" stroke="#ff3200" stroke-width="0.9" stroke-linejoin="round"/>
<polygon points="229.8,468.1 230.6,464.7 228.4,463.4 227.1,466.5" fill="#ff2a00" stroke="#ff2a00" stroke-width="0.9" stroke-linejoin="round"/>
<polygon points="230.6,464.7 231.4,461.2 229.7,460.3 228.4,463.4" fill="#ff2200" stroke="#ff2200" stroke-width="0.9" stroke-linejoin="round"/>
<polygon points="231.4,461.2 232.2,457.8 231.1,457.2 229.7,460.3" fill="#ff1d00" stroke="#ff1d00" stroke-width="0.9" stroke-linejoin="round"/>
<polygon points="232.2,457.8 232.9,454.4 232.4,454.1 231.1,457.2" fill="#ff1c00" stroke="#ff1c00" stroke-width="0.9" stroke-linejoin="round"/>
<polygon points="232.9,454.4 233.7,450.9 233.7,450.9 232.4,454.1" fill="#ff1b00" stroke="#ff1b00" stroke-width="0.9" stroke-linejoin="round"/>
<polygon points="233.7,450.9 233.7,450.9 233.7,450.9" fill="#ff1a00" stroke="#ff1a00" stroke-width="0.9" stroke-linejoin="round"/>
<line x1="200.9" y1="530.3" x2="200.3" y2="529.8" stroke="#222" stroke-width="0.5"/>
<line x1="217.1" y1="515.5" x2="208.7" y2="509.9" stroke="#222" stroke-width="0.5"/>
<line x1="224.0" y1="494.1" x2="217.2" y2="489.8" stroke="#222" stroke-width="0.5"/>
<line x1="229.1" y1="471.6" x2="225.8" y2="469.7" stroke="#222" stroke-width="0.5"/>
<polygon points="219.6,513.2 223.6,509.4 220.4,509.7" fill="#8cff00" stroke="#8cff00" stroke-width="0.9" stroke-linejoin="round"/>
<polygon points="223.6,509.4 227.5,505.6 221.2,506.2 220.4,509.7" fill="#a2ff00" stroke="#a2ff00" stroke-width="0.9" stroke-linejoin="round"/>
<polygon points="227.5,505.6 231.3,501.8 222.0,502.7 221.2,506.2" fill="#bcff00" stroke="#bcff00" stroke-width="0.9" stroke-linejoin="round"/>
<polygon points="231.3,501.8 235.2,498.0 222.8,499.3 222.0,502.7" fill="#d3ff00" stroke="#d3ff00" stroke-width="0.9" stroke-linejoin="round"/>
<polygon points="235.2,498.0 239.1,494.2 223.6,495.8 222.8,499.3" fill="#eaff00" stroke="#eaff00" stroke-width="0.9" stroke-linejoin="round"/>
<polygon points="239.1,494.2 243.0,490.4 224.4,492.3 223.6,495.8" fill="#f9f700" stroke="#f9f700" stroke-width="0.9" stroke-linejoin="round"/>
<polygon points="243.0,490.4 246.8,486.7 225.1,488.9 224.4,492.3" fill="#ffe200" stroke="#ffe200" stroke-width="0.9" stroke-linejoin="round"/>
<polygon points="246.8,486.7 250.7,482.9 225.9,485.4 225.1,488.9" fill="#ffc600" stroke="#ffc600" stroke-width="0.9" stroke-linejoin="round"/>
<polygon points="250.7,482.9 254.5,479.2 254.5,479.2 226.7,481.9 225.9,485.4" fill="#ffa700" stroke="#ffa700" stroke-width="0.9" stroke-linejoin="round"/>
<polygon points="254.5,479.2 254.5,479.2 252.2,476.0 227.5,478.5 226.7,481.9" fill="#ff8800" stroke="#ff8800" stroke-width="0.9" stroke-linejoin="round"/>
<polygon points="252.2,476.0 249.9,472.9 228.3,475.0 227.5,478.5" fill="#ff6800" stroke="#ff6800" stroke-width="0.9" stroke-linejoin="round"/>
<polygon points="249.9,472.9 247.6,469.8 229.1,471.6 228.3,475.0" fill="#ff4c00" stroke="#ff4c00" stroke-width="0.9" stroke-linejoin="round"/>
<polygon points="247.6,469.8 245.3,466.6 229.8,468.1 229.1,471.6" fill="#ff3200" stroke="#ff3200" stroke-width="0.9" stroke-linejoin="round"/>
<polygon points="245.3,466.6 243.0,463.5 230.6,464.7 229.8,468.1" fill="#ff2a00" stroke="#ff2a00" stroke-width="0.9" stroke-linejoin="round"/>
<polygon points="243.0,463.5 240.7,460.3 231.4,461.2 230.6,464.7" fill="#ff2200" stroke="#ff2200" stroke-width="0.9" stroke-linejoin="round"/>
<polygon points="240.7,460.3 238.4,457.2 232.2,457.8 231.4,461.2" fill="#ff1d00" stroke="#ff1d00" stroke-width="0.9" stroke-linejoin="round"/>
<polygon points="238.4,457.2 236.1,454.1 232.9,454.4 232.2,457.8" fill="#ff1c00" stroke="#ff1c00" stroke-width="0.9" stroke-linejoin="round"/>
<polygon points="236.1,454.1 233.8,450.9 233.7,450.9 232.9,454.4" fill="#ff1b00" stroke="#ff1b00" stroke-width="0.9" stroke-linejoin="round"/>
<polygon points="233.8,450.9 233.7,450.9 233.7,450.9" fill="#ff1a00" stroke="#ff1a00" stroke-width="0.9" stroke-linejoin="round"/>
<line x1="241.0" y1="492.3" x2="224.0" y2="494.1" stroke="#222" stroke-width="0.5"/>
<line x1="247.6" y1="469.8" x2="229.1" y2="471.6" stroke="#222" stroke-width="0.5"/>
<polygon points="148.8,603.9 150.9,601.5 166.4,586.9 165.5,588.1" fill="#5000db" stroke="#5000db" stroke-width="0.9" stroke-linejoin="round"/>
<polygon points="150.9,601.5 153.9,597.8 168.0,584.6 166.4,586.9" fill="#4e00e8" stroke="#4e00e8" stroke-width="0.9" stroke-linejoin="round"/>
<polygon points="153.9,597.8 157.0,594.2 169.6,582.3 168.0,584.6" fill="#4900f1" stroke="#4900f1" stroke-width="0.9" stroke-linejoin="round"/>
<polygon points="157.0,594.2 160.1,590.5 171.2,580.1 169.6,582.3" fill="#4400fa" stroke="#4400fa" stroke-width="0.9" stroke-linejoin="round"/>
<polygon points="160.1,590.5 163.1,586.9 172.9,577.8 171.2,580.1" fill="#3704fc" stroke="#3704fc" stroke-width="0.9" stroke-linejoin="round"/>
<polygon points="163.1,586.9 166.2,583.2 174.5,575.5 172.9,577.8" fill="#2a08fe" stroke="#2a08fe" stroke-width="0.9" stroke-linejoin="round"/>
<polygon points="166.2,583.2 169.3,579.6 176.1,573.2 174.5,575.5" fill="#200cff" stroke="#200cff" stroke-width="0.9" stroke-linejoin="round"/>
<polygon points="169.3,579.6 172.3,576.0 177.8,570.9 176.1,573.2" fill="#1912ff" stroke="#1912ff" stroke-width="0.9" stroke-linejoin="round"/>
<polygon points="172.3,576.0 175.4,572.3 179.5,568.5 177.8,570.9" fill="#1216ff" stroke="#1216ff" stroke-width="0.9" stroke-linejoin="round"/>
<polygon points="175.4,572.3 178.4,568.7 181.1,566.2 179.5,568.5" fill="#1022ff" stroke="#1022ff" stroke-width="0.9" stroke-linejoin="round"/>
<polygon points="178.4,568.7 181.5,565.1 182.8,563.9 181.1,566.2" fill="#1333ff" stroke="#1333ff" stroke-width="0.9" stroke-linejoin="round"/>
<polygon points="181.5,565.1 184.5,561.5 182.8,563.9" fill="#1e55ff" stroke="#1e55ff" stroke-width="0.9" stroke-linejoin="round"/>
<line x1="164.7" y1="585.1" x2="173.7" y2="576.6" stroke="#222" stroke-width="0.5"/>
<polygon points="102.0,608.4 129.0,601.4 114.4,597.1" fill="#4600c3" stroke="#4600c3" stroke-width="0.9" stroke-linejoin="round"/>
<polygon points="90.7,611.4 102.0,608.4 114.4,597.1 109.3,595.6" fill="#4f00d6" stroke="#4f00d6" stroke-width="0.9" stroke-linejoin="round"/>
<polygon points="184.5,561.5 187.0,558.0 187.1,556.4" fill="#3287ff" stroke="#3287ff" stroke-width="0.9" stroke-linejoin="round"/>
<polygon points="187.0,558.0 189.5,554.6 189.6,551.3 187.1,556.4" fill="#3cb4ff" stroke="#3cb4ff" stroke-width="0.9" stroke-linejoin="round"/>
<polygon points="189.5,554.6 192.1,551.1 192.1,546.3 189.6,551.3" fill="#3cdcff" stroke="#3cdcff" stroke-width="0.9" stroke-linejoin="round"/>
<polygon points="192.1,551.1 194.6,547.7 194.7,541.3 192.1,546.3" fill="#4bf4ef" stroke="#4bf4ef" stroke-width="0.9" stroke-linejoin="round"/>
<polygon points="194.6,547.7 197.1,544.2 197.2,536.3 194.7,541.3" fill="#69fbce" stroke="#69fbce" stroke-width="0.9" stroke-linejoin="round"/>
<polygon points="197.1,544.2 199.6,540.8 199.6,531.4 199.6,531.4 197.2,536.3" fill="#71ff93" stroke="#71ff93" stroke-width="0.9" stroke-linejoin="round"/>
<polygon points="199.6,540.8 202.1,537.3 202.1,529.1 199.6,531.4 199.6,531.4" fill="#64ff3c" stroke="#64ff3c" stroke-width="0.9" stroke-linejoin="round"/>
<polygon points="202.1,537.3 204.6,533.9 204.6,526.9 202.1,529.1" fill="#5eff2b" stroke="#5eff2b" stroke-width="0.9" stroke-linejoin="round"/>
<polygon points="204.6,533.9 207.1,530.4 207.0,524.6 204.6,526.9" fill="#59ff1a" stroke="#59ff1a" stroke-width="0.9" stroke-linejoin="round"/>
<polygon points="207.1,530.4 209.6,527.0 209.5,522.4 207.0,524.6" fill="#53ff09" stroke="#53ff09" stroke-width="0.9" stroke-linejoin="round"/>
<polygon points="209.6,527.0 212.1,523.5 212.0,520.1 209.5,522.4" fill="#55ff00" stroke="#55ff00" stroke-width="0.9" stroke-linejoin="round"/>
<polygon points="212.1,523.5 214.6,520.1 214.6,517.8 212.0,520.1" fill="#5fff00" stroke="#5fff00" stroke-width="0.9" stroke-linejoin="round"/>
<polygon points="214.6,520.1 217.1,516.6 217.1,515.5 214.6,517.8" fill="#69ff00" stroke="#69ff00" stroke-width="0.9" stroke-linejoin="round"/>
<polygon points="217.1,516.6 219.6,513.2 217.1,515.5" fill="#78ff00" stroke="#78ff00" stroke-width="0.9" stroke-linejoin="round"/>
<line x1="200.8" y1="539.0" x2="200.9" y2="530.3" stroke="#222" stroke-width="0.5"/>
<line x1="217.1" y1="516.6" x2="217.1" y2="515.5" stroke="#222" stroke-width="0.5"/>
<polygon points="239.9,544.2 240.6,545.3 240.9,544.0" fill="#4ff5ea" stroke="#4ff5ea" stroke-width="0.9" stroke-linejoin="round"/>
<polygon points="237.9,541.1 239.9,544.2 240.9,544.0 241.6,540.6" fill="#69fbce" stroke="#69fbce" stroke-width="0.9" stroke-linejoin="round"/>
<polygon points="235.9,538.0 237.9,541.1 241.6,540.6 242.3,537.2" fill="#71ff93" stroke="#71ff93" stroke-width="0.9" stroke-linejoin="round"/>
<polygon points="233.9,534.9 235.9,538.0 242.3,537.2 243.1,533.7" fill="#64ff3c" stroke="#64ff3c" stroke-width="0.9" stroke-linejoin="round"/>
<polygon points="231.8,531.8 233.9,534.9 243.1,533.7 243.8,530.3" fill="#5eff2b" stroke="#5eff2b" stroke-width="0.9" stroke-linejoin="round"/>
<polygon points="229.8,528.7 231.8,531.8 243.8,530.3 244.5,526.9" fill="#59ff1a" stroke="#59ff1a" stroke-width="0.9" stroke-linejoin="round"/>
<polygon points="227.8,525.6 229.8,528.7 244.5,526.9 245.2,523.5" fill="#53ff09" stroke="#53ff09" stroke-width="0.9" stroke-linejoin="round"/>
<polygon points="225.7,522.5 227.8,525.6 245.2,523.5 245.9,520.0" fill="#55ff00" stroke="#55ff00" stroke-width="0.9" stroke-linejoin="round"/>
<polygon points="223.7,519.4 225.7,522.5 245.9,520.0 246.7,516.6" fill="#5fff00" stroke="#5fff00" stroke-width="0.9" stroke-linejoin="round"/>
<polygon points="221.7,516.3 223.7,519.4 246.7,516.6 247.4,513.2" fill="#69ff00" stroke="#69ff00" stroke-width="0.9" stroke-linejoin="round"/>
<polygon points="219.6,513.2 221.7,516.3 247.4,513.2 248.1,509.8 219.6,513.2" fill="#78ff00" stroke="#78ff00" stroke-width="0.9" stroke-linejoin="round"/>
<polygon points="219.6,513.2 219.6,513.2 248.1,509.8 248.8,506.4 223.6,509.4" fill="#8cff00" stroke="#8cff00" stroke-width="0.9" stroke-linejoin="round"/>
<polygon points="248.8,506.4 249.5,503.0 227.5,505.6 223.6,509.4" fill="#a2ff00" stroke="#a2ff00" stroke-width="0.9" stroke-linejoin="round"/>
<polygon points="249.5,503.0 250.2,499.6 231.3,501.8 227.5,505.6" fill="#bcff00" stroke="#bcff00" stroke-width="0.9" stroke-linejoin="round"/>
<polygon points="250.2,499.6 251.0,496.2 235.2,498.0 231.3,501.8" fill="#d3ff00" stroke="#d3ff00" stroke-width="0.9" stroke-linejoin="round"/>
<polygon points="251.0,496.2 251.7,492.8 239.1,494.2 235.2,498.0" fill="#eaff00" stroke="#eaff00" stroke-width="0.9" stroke-linejoin="round"/>
<polygon points="251.7,492.8 252.4,489.4 243.0,490.4 239.1,494.2" fill="#f9f700" stroke="#f9f700" stroke-width="0.9" stroke-linejoin="round"/>
<polygon points="252.4,489.4 253.1,486.0 246.8,486.7 243.0,490.4" fill="#ffe200" stroke="#ffe200" stroke-width="0.9" stroke-linejoin="round"/>
<polygon points="253.1,486.0 253.8,482.6 250.7,482.9 246.8,486.7" fill="#ffc600" stroke="#ffc600" stroke-width="0.9" stroke-linejoin="round"/>
<polygon points="253.8,482.6 254.5,479.2 250.7,482.9" fill="#ffa700" stroke="#ffa700" stroke-width="0.9" stroke-linejoin="round"/>
<line x1="234.9" y1="536.4" x2="242.7" y2="535.5" stroke="#222" stroke-width="0.5"/>
<line x1="221.7" y1="516.3" x2="247.4" y2="513.2" stroke="#222" stroke-width="0.5"/>
<line x1="252.0" y1="491.1" x2="241.0" y2="492.3" stroke="#222" stroke-width="0.5"/>
<polygon points="279.9,588.3 282.6,589.0 279.2,586.8" fill="#4900f1" stroke="#4900f1" stroke-width="0.9" stroke-linejoin="round"/>
<polygon points="275.2,587.2 279.9,588.3 279.2,586.8 273.3,582.9" fill="#4400fa" stroke="#4400fa" stroke-width="0.9" stroke-linejoin="round"/>
<polygon points="270.4,586.0 275.2,587.2 273.3,582.9 267.4,579.1" fill="#3704fc" stroke="#3704fc" stroke-width="0.9" stroke-linejoin="round"/>
<polygon points="265.6,584.8 270.4,586.0 267.4,579.1 261.6,575.2" fill="#2a08fe" stroke="#2a08fe" stroke-width="0.9" stroke-linejoin="round"/>
<polygon points="260.7,583.7 265.6,584.8 261.6,575.2 261.5,575.2 257.9,576.6" fill="#200cff" stroke="#200cff" stroke-width="0.9" stroke-linejoin="round"/>
<polygon points="255.9,582.5 260.7,583.7 257.9,576.6 254.1,578.0" fill="#1912ff" stroke="#1912ff" stroke-width="0.9" stroke-linejoin="round"/>
<polygon points="250.9,581.3 255.9,582.5 254.1,578.0 250.2,579.5" fill="#1216ff" stroke="#1216ff" stroke-width="0.9" stroke-linejoin="round"/>
<polygon points="247.6,580.5 250.9,581.3 250.2,579.5" fill="#1022ff" stroke="#1022ff" stroke-width="0.9" stroke-linejoin="round"/>
<line x1="268.0" y1="585.4" x2="264.5" y2="577.2" stroke="#222" stroke-width="0.5"/>
<polygon points="257.4,573.8 261.5,575.2 259.4,572.1" fill="#200cff" stroke="#200cff" stroke-width="0.9" stroke-linejoin="round"/>
<polygon points="253.2,572.4 257.4,573.8 259.4,572.1 257.2,569.0" fill="#1912ff" stroke="#1912ff" stroke-width="0.9" stroke-linejoin="round"/>
<polygon points="249.0,571.0 253.2,572.4 257.2,569.0 255.1,565.9" fill="#1216ff" stroke="#1216ff" stroke-width="0.9" stroke-linejoin="round"/>
<polygon points="244.8,569.6 249.0,571.0 255.1,565.9 252.9,562.8" fill="#1022ff" stroke="#1022ff" stroke-width="0.9" stroke-linejoin="round"/>
<polygon points="240.5,568.2 244.8,569.6 252.9,562.8 250.7,559.7" fill="#1333ff" stroke="#1333ff" stroke-width="0.9" stroke-linejoin="round"/>
<polygon points="236.2,566.7 240.5,568.2 250.7,559.7 248.6,556.6" fill="#1e55ff" stroke="#1e55ff" stroke-width="0.9" stroke-linejoin="round"/>
<polygon points="231.9,565.3 236.2,566.7 248.6,556.6 246.4,553.5" fill="#3287ff" stroke="#3287ff" stroke-width="0.9" stroke-linejoin="round"/>
<polygon points="227.5,563.8 231.9,565.3 246.4,553.5 244.2,550.4" fill="#3cb4ff" stroke="#3cb4ff" stroke-width="0.9" stroke-linejoin="round"/>
<polygon points="226.1,563.3 227.5,563.8 244.2,550.4 242.0,547.3 233.7,553.9" fill="#3cdcff" stroke="#3cdcff" stroke-width="0.9" stroke-linejoin="round"/>
<polygon points="242.0,547.3 240.6,545.3 233.7,553.9" fill="#4bf4ef" stroke="#4bf4ef" stroke-width="0.9" stroke-linejoin="round"/>
<line x1="236.2" y1="566.7" x2="248.6" y2="556.6" stroke="#222" stroke-width="0.5"/>
<polygon points="302.4,600.4 303.9,600.2 302.8,599.6" fill="#4a00cc" stroke="#4a00cc" stroke-width="0.9" stroke-linejoin="round"/>
<polygon points="291.4,601.4 302.4,600.4 302.8,599.6 294.4,595.2" fill="#5000db" stroke="#5000db" stroke-width="0.9" stroke-linejoin="round"/>
<polygon points="280.2,602.4 291.4,601.4 294.4,595.2 286.2,590.9" fill="#4e00e8" stroke="#4e00e8" stroke-width="0.9" stroke-linejoin="round"/>
<polygon points="269.3,603.4 280.2,602.4 286.2,590.9 282.6,589.0" fill="#4900f1" stroke="#4900f1" stroke-width="0.9" stroke-linejoin="round"/>
<polygon points="110.8,617.5 131.1,610.2 139.6,602.7 129.0,601.4" fill="#4600c3" stroke="#4600c3" stroke-width="0.9" stroke-linejoin="round"/>
<polygon points="131.1,610.2 148.8,603.9 139.6,602.7" fill="#5000d9" stroke="#5000d9" stroke-width="0.9" stroke-linejoin="round"/>
<polygon points="237.8,545.1 240.6,545.3 239.9,544.2" fill="#4ff5ea" stroke="#4ff5ea" stroke-width="0.9" stroke-linejoin="round"/>
<polygon points="229.7,544.7 237.8,545.1 239.9,544.2 237.9,541.1" fill="#69fbce" stroke="#69fbce" stroke-width="0.9" stroke-linejoin="round"/>
<polygon points="221.4,544.3 229.7,544.7 237.9,541.1 235.9,538.0" fill="#71ff93" stroke="#71ff93" stroke-width="0.9" stroke-linejoin="round"/>
<polygon points="213.1,543.9 221.4,544.3 235.9,538.0 233.9,534.9" fill="#64ff3c" stroke="#64ff3c" stroke-width="0.9" stroke-linejoin="round"/>
<polygon points="204.7,543.5 213.1,543.9 233.9,534.9 231.8,531.8 204.7,543.5" fill="#5eff2b" stroke="#5eff2b" stroke-width="0.9" stroke-linejoin="round"/>
<polygon points="204.7,543.5 204.7,543.5 231.8,531.8 229.8,528.7 207.2,538.3" fill="#59ff1a" stroke="#59ff1a" stroke-width="0.9" stroke-linejoin="round"/>
<polygon points="229.8,528.7 227.8,525.6 209.8,533.2 207.2,538.3" fill="#53ff09" stroke="#53ff09" stroke-width="0.9" stroke-linejoin="round"/>
<polygon points="227.8,525.6 225.7,522.5 212.3,528.2 209.8,533.2" fill="#55ff00" stroke="#55ff00" stroke-width="0.9" stroke-linejoin="round"/>
<polygon points="225.7,522.5 223.7,519.4 214.7,523.1 212.3,528.2" fill="#5fff00" stroke="#5fff00" stroke-width="0.9" stroke-linejoin="round"/>
<polygon points="223.7,519.4 221.7,516.3 217.2,518.1 214.7,523.1" fill="#69ff00" stroke="#69ff00" stroke-width="0.9" stroke-linejoin="round"/>
<polygon points="221.7,516.3 219.6,513.2 217.2,518.1" fill="#78ff00" stroke="#78ff00" stroke-width="0.9" stroke-linejoin="round"/>
<line x1="217.3" y1="544.1" x2="234.9" y2="536.4" stroke="#222" stroke-width="0.5"/>
<line x1="221.7" y1="516.3" x2="217.2" y2="518.1" stroke="#222" stroke-width="0.5"/>
<polygon points="96.7,613.2 110.8,617.5 129.0,601.4 102.0,608.4" fill="#4600c3" stroke="#4600c3" stroke-width="0.9" stroke-linejoin="round"/>
<polygon points="90.7,611.4 96.7,613.2 102.0,608.4" fill="#4f00d6" stroke="#4f00d6" stroke-width="0.9" stroke-linejoin="round"/>
<polygon points="184.5,561.5 187.0,559.3 187.0,558.0" fill="#3287ff" stroke="#3287ff" stroke-width="0.9" stroke-linejoin="round"/>
<polygon points="187.0,559.3 189.5,557.1 189.5,554.6 187.0,558.0" fill="#3cb4ff" stroke="#3cb4ff" stroke-width="0.9" stroke-linejoin="round"/>
<polygon points="189.5,557.1 192.0,554.8 192.1,551.1 189.5,554.6" fill="#3cdcff" stroke="#3cdcff" stroke-width="0.9" stroke-linejoin="round"/>
<polygon points="192.0,554.8 194.5,552.6 194.6,547.7 192.1,551.1" fill="#4bf4ef" stroke="#4bf4ef" stroke-width="0.9" stroke-linejoin="round"/>
<polygon points="194.5,552.6 197.0,550.3 197.1,544.2 194.6,547.7" fill="#69fbce" stroke="#69fbce" stroke-width="0.9" stroke-linejoin="round"/>
<polygon points="197.0,550.3 199.6,548.1 199.6,540.8 197.1,544.2" fill="#71ff93" stroke="#71ff93" stroke-width="0.9" stroke-linejoin="round"/>
<polygon points="199.6,548.1 202.1,545.8 202.1,537.3 199.6,540.8" fill="#64ff3c" stroke="#64ff3c" stroke-width="0.9" stroke-linejoin="round"/>
<polygon points="202.1,545.8 204.7,543.5 204.7,543.5 204.6,533.9 202.1,537.3" fill="#5eff2b" stroke="#5eff2b" stroke-width="0.9" stroke-linejoin="round"/>
<polygon points="204.7,543.5 204.7,543.5 207.2,538.3 207.1,530.4 204.6,533.9" fill="#59ff1a" stroke="#59ff1a" stroke-width="0.9" stroke-linejoin="round"/>
<polygon points="207.2,538.3 209.8,533.2 209.6,527.0 207.1,530.4" fill="#53ff09" stroke="#53ff09" stroke-width="0.9" stroke-linejoin="round"/>
<polygon points="209.8,533.2 212.3,528.2 212.1,523.5 209.6,527.0" fill="#55ff00" stroke="#55ff00" stroke-width="0.9" stroke-linejoin="round"/>
<polygon points="212.3,528.2 214.7,523.1 214.6,520.1 212.1,523.5" fill="#5fff00" stroke="#5fff00" stroke-width="0.9" stroke-linejoin="round"/>
<polygon points="214.7,523.1 217.2,518.1 217.1,516.6 214.6,520.1" fill="#69ff00" stroke="#69ff00" stroke-width="0.9" stroke-linejoin="round"/>
<polygon points="217.2,518.1 219.6,513.2 217.1,516.6" fill="#78ff00" stroke="#78ff00" stroke-width="0.9" stroke-linejoin="round"/>
<line x1="200.8" y1="546.9" x2="200.8" y2="539.0" stroke="#222" stroke-width="0.5"/>
<line x1="217.2" y1="518.1" x2="217.1" y2="516.6" stroke="#222" stroke-width="0.5"/>
<polygon points="148.8,603.9 150.4,602.5 150.9,601.5" fill="#5000db" stroke="#5000db" stroke-width="0.9" stroke-linejoin="round"/>
<polygon points="150.4,602.5 152.8,600.3 153.9,597.8 150.9,601.5" fill="#4e00e8" stroke="#4e00e8" stroke-width="0.9" stroke-linejoin="round"/>
<polygon points="152.8,600.3 155.1,598.2 157.0,594.2 153.9,597.8" fill="#4900f1" stroke="#4900f1" stroke-width="0.9" stroke-linejoin="round"/>
<polygon points="155.1,598.2 157.5,596.0 160.1,590.5 157.0,594.2" fill="#4400fa" stroke="#4400fa" stroke-width="0.9" stroke-linejoin="round"/>
<polygon points="157.5,596.0 159.9,593.9 163.1,586.9 160.1,590.5" fill="#3704fc" stroke="#3704fc" stroke-width="0.9" stroke-linejoin="round"/>
<polygon points="159.9,593.9 162.3,591.7 166.2,583.2 163.1,586.9" fill="#2a08fe" stroke="#2a08fe" stroke-width="0.9" stroke-linejoin="round"/>
<polygon points="162.3,591.7 164.8,589.5 169.3,579.6 166.2,583.2" fill="#200cff" stroke="#200cff" stroke-width="0.9" stroke-linejoin="round"/>
<polygon points="164.8,589.5 167.2,587.3 172.3,576.0 169.3,579.6" fill="#1912ff" stroke="#1912ff" stroke-width="0.9" stroke-linejoin="round"/>
<polygon points="167.2,587.3 168.4,586.2 170.8,582.6 175.4,572.3 172.3,576.0" fill="#1216ff" stroke="#1216ff" stroke-width="0.9" stroke-linejoin="round"/>
<polygon points="170.8,582.6 175.4,575.4 178.4,568.7 175.4,572.3" fill="#1022ff" stroke="#1022ff" stroke-width="0.9" stroke-linejoin="round"/>
<polygon points="175.4,575.4 180.0,568.4 181.5,565.1 178.4,568.7" fill="#1333ff" stroke="#1333ff" stroke-width="0.9" stroke-linejoin="round"/>
<polygon points="180.0,568.4 184.5,561.5 181.5,565.1" fill="#1e55ff" stroke="#1e55ff" stroke-width="0.9" stroke-linejoin="round"/>
<line x1="161.1" y1="592.8" x2="164.7" y2="585.1" stroke="#222" stroke-width="0.5"/>
<polygon points="257.9,576.6 261.5,575.2 257.4,573.8" fill="#200cff" stroke="#200cff" stroke-width="0.9" stroke-linejoin="round"/>
<polygon points="254.1,578.0 257.9,576.6 257.4,573.8 253.2,572.4" fill="#1912ff" stroke="#1912ff" stroke-width="0.9" stroke-linejoin="round"/>
<polygon points="250.2,579.5 254.1,578.0 253.2,572.4 249.0,571.0" fill="#1216ff" stroke="#1216ff" stroke-width="0.9" stroke-linejoin="round"/>
<polygon points="246.1,579.2 247.6,580.5 250.2,579.5 249.0,571.0 244.8,569.6" fill="#1022ff" stroke="#1022ff" stroke-width="0.9" stroke-linejoin="round"/>
<polygon points="241.4,575.5 246.1,579.2 244.8,569.6 240.5,568.2" fill="#1333ff" stroke="#1333ff" stroke-width="0.9" stroke-linejoin="round"/>
<polygon points="236.8,571.9 241.4,575.5 240.5,568.2 236.2,566.7" fill="#1e55ff" stroke="#1e55ff" stroke-width="0.9" stroke-linejoin="round"/>
<polygon points="232.2,568.2 236.8,571.9 236.2,566.7 231.9,565.3" fill="#3287ff" stroke="#3287ff" stroke-width="0.9" stroke-linejoin="round"/>
<polygon points="227.6,564.5 232.2,568.2 231.9,565.3 227.5,563.8" fill="#3cb4ff" stroke="#3cb4ff" stroke-width="0.9" stroke-linejoin="round"/>
<polygon points="226.1,563.3 227.6,564.5 227.5,563.8" fill="#3cd5ff" stroke="#3cd5ff" stroke-width="0.9" stroke-linejoin="round"/>
<line x1="236.8" y1="571.9" x2="236.2" y2="566.7" stroke="#222" stroke-width="0.5"/>
<polygon points="269.1,603.2 269.3,603.4 282.6,589.0 279.9,588.3" fill="#4900f1" stroke="#4900f1" stroke-width="0.9" stroke-linejoin="round"/>
<polygon points="265.9,599.8 269.1,603.2 279.9,588.3 275.2,587.2" fill="#4400fa" stroke="#4400fa" stroke-width="0.9" stroke-linejoin="round"/>
<polygon points="262.7,596.4 265.9,599.8 275.2,587.2 270.4,586.0" fill="#3704fc" stroke="#3704fc" stroke-width="0.9" stroke-linejoin="round"/>
<polygon points="259.4,593.0 262.7,596.4 270.4,586.0 265.6,584.8" fill="#2a08fe" stroke="#2a08fe" stroke-width="0.9" stroke-linejoin="round"/>
<polygon points="256.2,589.6 259.4,593.0 265.6,584.8 260.7,583.7" fill="#200cff" stroke="#200cff" stroke-width="0.9" stroke-linejoin="round"/>
<polygon points="253.0,586.1 256.2,589.6 260.7,583.7 255.9,582.5" fill="#1912ff" stroke="#1912ff" stroke-width="0.9" stroke-linejoin="round"/>
<polygon points="249.8,582.7 253.0,586.1 255.9,582.5 250.9,581.3" fill="#1216ff" stroke="#1216ff" stroke-width="0.9" stroke-linejoin="round"/>
<polygon points="247.6,580.5 249.8,582.7 250.9,581.3" fill="#1022ff" stroke="#1022ff" stroke-width="0.9" stroke-linejoin="round"/>
<line x1="261.1" y1="594.7" x2="268.0" y2="585.4" stroke="#222" stroke-width="0.5"/>
<polygon points="223.5,561.0 226.1,563.3 233.7,553.9" fill="#3cdcff" stroke="#3cdcff" stroke-width="0.9" stroke-linejoin="round"/>
<polygon points="219.8,557.5 223.5,561.0 233.7,553.9 240.6,545.3 237.8,545.1" fill="#4bf4ef" stroke="#4bf4ef" stroke-width="0.9" stroke-linejoin="round"/>
<polygon points="216.0,554.0 219.8,557.5 237.8,545.1 229.7,544.7" fill="#69fbce" stroke="#69fbce" stroke-width="0.9" stroke-linejoin="round"/>
<polygon points="212.2,550.5 216.0,554.0 229.7,544.7 221.4,544.3" fill="#71ff93" stroke="#71ff93" stroke-width="0.9" stroke-linejoin="round"/>
<polygon points="208.4,547.0 212.2,550.5 221.4,544.3 213.1,543.9" fill="#64ff3c" stroke="#64ff3c" stroke-width="0.9" stroke-linejoin="round"/>
<polygon points="204.7,543.5 208.4,547.0 213.1,543.9" fill="#5eff2b" stroke="#5eff2b" stroke-width="0.9" stroke-linejoin="round"/>
<line x1="210.3" y1="548.7" x2="217.3" y2="544.1" stroke="#222" stroke-width="0.5"/>
<polygon points="289.4,615.7 291.2,616.8 303.9,600.2 302.4,600.4" fill="#4800c8" stroke="#4800c8" stroke-width="0.9" stroke-linejoin="round"/>
<polygon points="282.6,611.5 289.4,615.7 302.4,600.4 291.4,601.4" fill="#5000db" stroke="#5000db" stroke-width="0.9" stroke-linejoin="round"/>
<polygon points="275.8,607.4 282.6,611.5 291.4,601.4 280.2,602.4" fill="#4e00e8" stroke="#4e00e8" stroke-width="0.9" stroke-linejoin="round"/>
<polygon points="269.3,603.4 275.8,607.4 280.2,602.4" fill="#4900f1" stroke="#4900f1" stroke-width="0.9" stroke-linejoin="round"/>
<polygon points="168.4,586.2 170.0,584.3 170.8,582.6" fill="#1216ff" stroke="#1216ff" stroke-width="0.9" stroke-linejoin="round"/>
<polygon points="170.0,584.3 173.2,580.6 175.4,575.4 170.8,582.6" fill="#1022ff" stroke="#1022ff" stroke-width="0.9" stroke-linejoin="round"/>
<polygon points="173.2,580.6 176.3,576.9 180.0,568.4 175.4,575.4" fill="#1333ff" stroke="#1333ff" stroke-width="0.9" stroke-linejoin="round"/>
<polygon points="176.3,576.9 179.5,573.1 184.5,561.5 184.5,561.5 180.0,568.4" fill="#1e55ff" stroke="#1e55ff" stroke-width="0.9" stroke-linejoin="round"/>
<polygon points="179.5,573.1 182.7,569.4 187.0,559.3 184.5,561.5 184.5,561.5" fill="#3287ff" stroke="#3287ff" stroke-width="0.9" stroke-linejoin="round"/>
<polygon points="182.7,569.4 185.8,565.7 189.5,557.1 187.0,559.3" fill="#3cb4ff" stroke="#3cb4ff" stroke-width="0.9" stroke-linejoin="round"/>
<polygon points="185.8,565.7 189.0,562.0 192.0,554.8 189.5,557.1" fill="#3cdcff" stroke="#3cdcff" stroke-width="0.9" stroke-linejoin="round"/>
<polygon points="189.0,562.0 192.1,558.3 194.5,552.6 192.0,554.8" fill="#4bf4ef" stroke="#4bf4ef" stroke-width="0.9" stroke-linejoin="round"/>
<polygon points="192.1,558.3 195.3,554.6 197.0,550.3 194.5,552.6" fill="#69fbce" stroke="#69fbce" stroke-width="0.9" stroke-linejoin="round"/>
<polygon points="195.3,554.6 198.4,550.9 199.6,548.1 197.0,550.3" fill="#71ff93" stroke="#71ff93" stroke-width="0.9" stroke-linejoin="round"/>
<polygon points="198.4,550.9 201.6,547.2 202.1,545.8 199.6,548.1" fill="#64ff3c" stroke="#64ff3c" stroke-width="0.9" stroke-linejoin="round"/>
<polygon points="201.6,547.2 204.7,543.5 202.1,545.8" fill="#5eff2b" stroke="#5eff2b" stroke-width="0.9" stroke-linejoin="round"/>
<line x1="200.0" y1="549.0" x2="200.8" y2="546.9" stroke="#222" stroke-width="0.5"/>
<polygon points="110.8,617.5 119.6,618.5 131.1,610.2" fill="#4600c4" stroke="#4600c4" stroke-width="0.9" stroke-linejoin="round"/>
<polygon points="119.6,618.5 131.1,619.9 148.8,603.9 131.1,610.2" fill="#5000db" stroke="#5000db" stroke-width="0.9" stroke-linejoin="round"/>
<polygon points="131.1,619.9 133.5,617.7 150.4,602.5 148.8,603.9" fill="#5000db" stroke="#5000db" stroke-width="0.9" stroke-linejoin="round"/>
<polygon points="133.5,617.7 138.2,613.5 152.8,600.3 150.4,602.5" fill="#4e00e8" stroke="#4e00e8" stroke-width="0.9" stroke-linejoin="round"/>
<polygon points="138.2,613.5 142.9,609.3 155.1,598.2 152.8,600.3" fill="#4900f1" stroke="#4900f1" stroke-width="0.9" stroke-linejoin="round"/>
<polygon points="142.9,609.3 147.6,605.0 157.5,596.0 155.1,598.2" fill="#4400fa" stroke="#4400fa" stroke-width="0.9" stroke-linejoin="round"/>
<polygon points="147.6,605.0 152.2,600.8 159.9,593.9 157.5,596.0" fill="#3704fc" stroke="#3704fc" stroke-width="0.9" stroke-linejoin="round"/>
<polygon points="152.2,600.8 156.9,596.6 162.3,591.7 159.9,593.9" fill="#2a08fe" stroke="#2a08fe" stroke-width="0.9" stroke-linejoin="round"/>
<polygon points="156.9,596.6 161.5,592.4 164.8,589.5 162.3,591.7" fill="#200cff" stroke="#200cff" stroke-width="0.9" stroke-linejoin="round"/>
<polygon points="161.5,592.4 166.1,588.3 167.2,587.3 164.8,589.5" fill="#1912ff" stroke="#1912ff" stroke-width="0.9" stroke-linejoin="round"/>
<polygon points="166.1,588.3 168.4,586.2 167.2,587.3" fill="#1216ff" stroke="#1216ff" stroke-width="0.9" stroke-linejoin="round"/>
<line x1="154.5" y1="598.7" x2="161.1" y2="592.8" stroke="#222" stroke-width="0.5"/>
<polygon points="79.4,626.1 110.8,617.5 96.7,613.2" fill="#4600c4" stroke="#4600c4" stroke-width="0.9" stroke-linejoin="round"/>
<polygon points="71.0,628.4 79.4,626.1 96.7,613.2 90.7,611.4" fill="#4f00d6" stroke="#4f00d6" stroke-width="0.9" stroke-linejoin="round"/>
<polygon points="213.8,565.1 226.1,563.3 223.5,561.0" fill="#3cdcff" stroke="#3cdcff" stroke-width="0.9" stroke-linejoin="round"/>
<polygon points="195.4,567.7 213.8,565.1 223.5,561.0 219.8,557.5" fill="#4bf4ef" stroke="#4bf4ef" stroke-width="0.9" stroke-linejoin="round"/>
<polygon points="188.8,568.6 195.4,567.7 219.8,557.5 216.0,554.0 191.7,564.1" fill="#69fbce" stroke="#69fbce" stroke-width="0.9" stroke-linejoin="round"/>
<polygon points="216.0,554.0 212.2,550.5 196.1,557.1 191.7,564.1" fill="#71ff93" stroke="#71ff93" stroke-width="0.9" stroke-linejoin="round"/>
<polygon points="212.2,550.5 208.4,547.0 200.4,550.3 196.1,557.1" fill="#64ff3c" stroke="#64ff3c" stroke-width="0.9" stroke-linejoin="round"/>
<polygon points="208.4,547.0 204.7,543.5 200.4,550.3" fill="#5eff2b" stroke="#5eff2b" stroke-width="0.9" stroke-linejoin="round"/>
<line x1="210.3" y1="548.7" x2="198.3" y2="553.7" stroke="#222" stroke-width="0.5"/>
<polygon points="168.4,586.2 169.7,585.1 170.0,584.3" fill="#1216ff" stroke="#1216ff" stroke-width="0.9" stroke-linejoin="round"/>
<polygon points="169.7,585.1 172.2,582.9 173.2,580.6 170.0,584.3" fill="#1022ff" stroke="#1022ff" stroke-width="0.9" stroke-linejoin="round"/>
<polygon points="172.2,582.9 174.8,580.7 176.3,576.9 173.2,580.6" fill="#1333ff" stroke="#1333ff" stroke-width="0.9" stroke-linejoin="round"/>
<polygon points="174.8,580.7 177.4,578.4 179.5,573.1 176.3,576.9" fill="#1e55ff" stroke="#1e55ff" stroke-width="0.9" stroke-linejoin="round"/>
<polygon points="177.4,578.4 180.0,576.2 182.7,569.4 179.5,573.1" fill="#3287ff" stroke="#3287ff" stroke-width="0.9" stroke-linejoin="round"/>
<polygon points="180.0,576.2 182.6,574.0 185.8,565.7 182.7,569.4" fill="#3cb4ff" stroke="#3cb4ff" stroke-width="0.9" stroke-linejoin="round"/>
<polygon points="182.6,574.0 185.2,571.7 189.0,562.0 185.8,565.7" fill="#3cdcff" stroke="#3cdcff" stroke-width="0.9" stroke-linejoin="round"/>
<polygon points="185.2,571.7 187.9,569.4 192.1,558.3 189.0,562.0" fill="#4bf4ef" stroke="#4bf4ef" stroke-width="0.9" stroke-linejoin="round"/>
<polygon points="187.9,569.4 188.8,568.6 191.7,564.1 195.3,554.6 192.1,558.3" fill="#69fbce" stroke="#69fbce" stroke-width="0.9" stroke-linejoin="round"/>
<polygon points="191.7,564.1 196.1,557.1 198.4,550.9 195.3,554.6" fill="#71ff93" stroke="#71ff93" stroke-width="0.9" stroke-linejoin="round"/>
<polygon points="196.1,557.1 200.4,550.3 201.6,547.2 198.4,550.9" fill="#64ff3c" stroke="#64ff3c" stroke-width="0.9" stroke-linejoin="round"/>
<polygon points="200.4,550.3 204.7,543.5 201.6,547.2" fill="#5eff2b" stroke="#5eff2b" stroke-width="0.9" stroke-linejoin="round"/>
<line x1="177.4" y1="578.4" x2="179.5" y2="573.1" stroke="#222" stroke-width="0.5"/>
<line x1="198.3" y1="553.7" x2="200.0" y2="549.0" stroke="#222" stroke-width="0.5"/>
<polygon points="119.6,618.5 110.8,617.5 92.1,633.2" fill="#4600c4" stroke="#4600c4" stroke-width="0.9" stroke-linejoin="round"/>
<polygon points="91.5,633.7 131.1,619.9 119.6,618.5 92.1,633.2" fill="#5000db" stroke="#5000db" stroke-width="0.9" stroke-linejoin="round"/>
<polygon points="242.9,581.0 247.6,580.5 246.1,579.2" fill="#1125ff" stroke="#1125ff" stroke-width="0.9" stroke-linejoin="round"/>
<polygon points="228.5,582.7 242.9,581.0 246.1,579.2 241.4,575.5" fill="#1333ff" stroke="#1333ff" stroke-width="0.9" stroke-linejoin="round"/>
<polygon points="213.9,584.4 228.5,582.7 241.4,575.5 236.8,571.9" fill="#1e55ff" stroke="#1e55ff" stroke-width="0.9" stroke-linejoin="round"/>
<polygon points="210.7,584.7 213.9,584.4 236.8,571.9 232.2,568.2 216.5,576.6" fill="#3287ff" stroke="#3287ff" stroke-width="0.9" stroke-linejoin="round"/>
<polygon points="232.2,568.2 227.6,564.5 223.8,566.5 216.5,576.6" fill="#3cb4ff" stroke="#3cb4ff" stroke-width="0.9" stroke-linejoin="round"/>
<polygon points="227.6,564.5 226.1,563.3 223.8,566.5" fill="#3cd5ff" stroke="#3cd5ff" stroke-width="0.9" stroke-linejoin="round"/>
<line x1="213.9" y1="584.4" x2="236.8" y2="571.9" stroke="#222" stroke-width="0.5"/>
<polygon points="92.1,633.2 110.8,617.5 79.4,626.1" fill="#4600c4" stroke="#4600c4" stroke-width="0.9" stroke-linejoin="round"/>
<polygon points="71.0,628.4 91.5,633.7 92.1,633.2 79.4,626.1" fill="#4e00d4" stroke="#4e00d4" stroke-width="0.9" stroke-linejoin="round"/>
<polygon points="255.1,623.8 258.8,618.5 254.8,622.0" fill="#4d00ea" stroke="#4d00ea" stroke-width="0.9" stroke-linejoin="round"/>
<polygon points="258.8,618.5 269.3,603.4 269.1,603.2 253.8,616.4 254.8,622.0" fill="#4900f1" stroke="#4900f1" stroke-width="0.9" stroke-linejoin="round"/>
<polygon points="269.1,603.2 265.9,599.8 252.9,610.9 253.8,616.4" fill="#4400fa" stroke="#4400fa" stroke-width="0.9" stroke-linejoin="round"/>
<polygon points="265.9,599.8 262.7,596.4 251.9,605.4 252.9,610.9" fill="#3704fc" stroke="#3704fc" stroke-width="0.9" stroke-linejoin="round"/>
<polygon points="262.7,596.4 259.4,593.0 251.0,600.0 251.9,605.4" fill="#2a08fe" stroke="#2a08fe" stroke-width="0.9" stroke-linejoin="round"/>
<polygon points="259.4,593.0 256.2,589.6 250.1,594.6 251.0,600.0" fill="#200cff" stroke="#200cff" stroke-width="0.9" stroke-linejoin="round"/>
<polygon points="256.2,589.6 253.0,586.1 249.1,589.3 250.1,594.6" fill="#1912ff" stroke="#1912ff" stroke-width="0.9" stroke-linejoin="round"/>
<polygon points="253.0,586.1 249.8,582.7 248.2,584.0 249.1,589.3" fill="#1216ff" stroke="#1216ff" stroke-width="0.9" stroke-linejoin="round"/>
<polygon points="249.8,582.7 247.6,580.5 248.2,584.0" fill="#1022ff" stroke="#1022ff" stroke-width="0.9" stroke-linejoin="round"/>
<line x1="261.1" y1="594.7" x2="251.4" y2="602.7" stroke="#222" stroke-width="0.5"/>
<polygon points="131.1,619.9 134.5,619.3 133.5,617.7" fill="#5000db" stroke="#5000db" stroke-width="0.9" stroke-linejoin="round"/>
<polygon points="134.5,619.3 141.1,618.1 138.2,613.5 133.5,617.7" fill="#4e00e8" stroke="#4e00e8" stroke-width="0.9" stroke-linejoin="round"/>
<polygon points="141.1,618.1 147.8,616.9 142.9,609.3 138.2,613.5" fill="#4900f1" stroke="#4900f1" stroke-width="0.9" stroke-linejoin="round"/>
<polygon points="147.8,616.9 151.6,616.3 153.2,613.5 147.6,605.0 142.9,609.3" fill="#4400fa" stroke="#4400fa" stroke-width="0.9" stroke-linejoin="round"/>
<polygon points="153.2,613.5 156.6,607.3 152.2,600.8 147.6,605.0" fill="#3704fc" stroke="#3704fc" stroke-width="0.9" stroke-linejoin="round"/>
<polygon points="156.6,607.3 160.0,601.2 156.9,596.6 152.2,600.8" fill="#2a08fe" stroke="#2a08fe" stroke-width="0.9" stroke-linejoin="round"/>
<polygon points="160.0,601.2 163.4,595.1 161.5,592.4 156.9,596.6" fill="#200cff" stroke="#200cff" stroke-width="0.9" stroke-linejoin="round"/>
<polygon points="163.4,595.1 166.7,589.2 166.1,588.3 161.5,592.4" fill="#1912ff" stroke="#1912ff" stroke-width="0.9" stroke-linejoin="round"/>
<polygon points="166.7,589.2 168.4,586.2 166.1,588.3" fill="#1216ff" stroke="#1216ff" stroke-width="0.9" stroke-linejoin="round"/>
<line x1="158.3" y1="604.2" x2="154.5" y2="598.7" stroke="#222" stroke-width="0.5"/>
<polygon points="277.6,634.0 291.2,616.8 289.4,615.7 277.1,632.2" fill="#4800c8" stroke="#4800c8" stroke-width="0.9" stroke-linejoin="round"/>
<polygon points="289.4,615.7 282.6,611.5 274.4,622.2 277.1,632.2" fill="#5000db" stroke="#5000db" stroke-width="0.9" stroke-linejoin="round"/>
<polygon points="282.6,611.5 275.8,607.4 271.8,612.5 274.4,622.2" fill="#4e00e8" stroke="#4e00e8" stroke-width="0.9" stroke-linejoin="round"/>
<polygon points="275.8,607.4 269.3,603.4 271.8,612.5" fill="#4900f1" stroke="#4900f1" stroke-width="0.9" stroke-linejoin="round"/>
<polygon points="151.6,616.3 152.9,614.6 153.2,613.5" fill="#4300fa" stroke="#4300fa" stroke-width="0.9" stroke-linejoin="round"/>
<polygon points="152.9,614.6 155.8,610.9 156.6,607.3 153.2,613.5" fill="#3704fc" stroke="#3704fc" stroke-width="0.9" stroke-linejoin="round"/>
<polygon points="155.8,610.9 158.7,607.1 160.0,601.2 156.6,607.3" fill="#2a08fe" stroke="#2a08fe" stroke-width="0.9" stroke-linejoin="round"/>
<polygon points="158.7,607.1 161.7,603.4 163.4,595.1 160.0,601.2" fill="#200cff" stroke="#200cff" stroke-width="0.9" stroke-linejoin="round"/>
<polygon points="161.7,603.4 164.6,599.7 166.7,589.2 163.4,595.1" fill="#1912ff" stroke="#1912ff" stroke-width="0.9" stroke-linejoin="round"/>
<polygon points="164.6,599.7 167.5,595.9 169.7,585.1 168.4,586.2 166.7,589.2" fill="#1216ff" stroke="#1216ff" stroke-width="0.9" stroke-linejoin="round"/>
<polygon points="167.5,595.9 170.4,592.2 172.2,582.9 169.7,585.1" fill="#1022ff" stroke="#1022ff" stroke-width="0.9" stroke-linejoin="round"/>
<polygon points="170.4,592.2 173.3,588.5 174.8,580.7 172.2,582.9" fill="#1333ff" stroke="#1333ff" stroke-width="0.9" stroke-linejoin="round"/>
<polygon points="173.3,588.5 176.2,584.8 177.4,578.4 174.8,580.7" fill="#1e55ff" stroke="#1e55ff" stroke-width="0.9" stroke-linejoin="round"/>
<polygon points="176.2,584.8 179.1,581.1 180.0,576.2 177.4,578.4" fill="#3287ff" stroke="#3287ff" stroke-width="0.9" stroke-linejoin="round"/>
<polygon points="179.1,581.1 182.0,577.3 182.6,574.0 180.0,576.2" fill="#3cb4ff" stroke="#3cb4ff" stroke-width="0.9" stroke-linejoin="round"/>
<polygon points="182.0,577.3 184.9,573.6 185.2,571.7 182.6,574.0" fill="#3cdcff" stroke="#3cdcff" stroke-width="0.9" stroke-linejoin="round"/>
<polygon points="184.9,573.6 187.8,569.9 187.9,569.4 185.2,571.7" fill="#4bf4ef" stroke="#4bf4ef" stroke-width="0.9" stroke-linejoin="round"/>
<polygon points="187.8,569.9 188.8,568.6 187.9,569.4" fill="#65fad3" stroke="#65fad3" stroke-width="0.9" stroke-linejoin="round"/>
<line x1="157.3" y1="609.0" x2="158.3" y2="604.2" stroke="#222" stroke-width="0.5"/>
<line x1="176.2" y1="584.8" x2="177.4" y2="578.4" stroke="#222" stroke-width="0.5"/>
<polygon points="206.5,581.7 210.7,584.7 216.5,576.6" fill="#3287ff" stroke="#3287ff" stroke-width="0.9" stroke-linejoin="round"/>
<polygon points="201.2,577.8 206.5,581.7 216.5,576.6 223.8,566.5" fill="#3cb4ff" stroke="#3cb4ff" stroke-width="0.9" stroke-linejoin="round"/>
<polygon points="195.9,573.9 201.2,577.8 223.8,566.5 226.1,563.3 213.8,565.1" fill="#3cdcff" stroke="#3cdcff" stroke-width="0.9" stroke-linejoin="round"/>
<polygon points="190.7,570.0 195.9,573.9 213.8,565.1 195.4,567.7" fill="#4bf4ef" stroke="#4bf4ef" stroke-width="0.9" stroke-linejoin="round"/>
<polygon points="188.8,568.6 190.7,570.0 195.4,567.7" fill="#65fad3" stroke="#65fad3" stroke-width="0.9" stroke-linejoin="round"/>
<polygon points="231.1,606.5 232.8,608.3 234.7,604.8" fill="#2a08fe" stroke="#2a08fe" stroke-width="0.9" stroke-linejoin="round"/>
<polygon points="227.8,603.0 231.1,606.5 234.7,604.8 238.3,598.0" fill="#200cff" stroke="#200cff" stroke-width="0.9" stroke-linejoin="round"/>
<polygon points="224.5,599.5 227.8,603.0 238.3,598.0 241.8,591.4" fill="#1912ff" stroke="#1912ff" stroke-width="0.9" stroke-linejoin="round"/>
<polygon points="221.3,596.0 224.5,599.5 241.8,591.4 245.3,584.8" fill="#1216ff" stroke="#1216ff" stroke-width="0.9" stroke-linejoin="round"/>
<polygon points="218.0,592.5 221.3,596.0 245.3,584.8 247.6,580.5 242.9,581.0" fill="#1022ff" stroke="#1022ff" stroke-width="0.9" stroke-linejoin="round"/>
<polygon points="214.7,589.0 218.0,592.5 242.9,581.0 228.5,582.7" fill="#1333ff" stroke="#1333ff" stroke-width="0.9" stroke-linejoin="round"/>
<polygon points="211.4,585.5 214.7,589.0 228.5,582.7 213.9,584.4" fill="#1e55ff" stroke="#1e55ff" stroke-width="0.9" stroke-linejoin="round"/>
<polygon points="210.7,584.7 211.4,585.5 213.9,584.4" fill="#2c79ff" stroke="#2c79ff" stroke-width="0.9" stroke-linejoin="round"/>
<line x1="232.8" y1="608.2" x2="232.9" y2="608.2" stroke="#222" stroke-width="0.5"/>
<line x1="211.4" y1="585.5" x2="213.9" y2="584.4" stroke="#222" stroke-width="0.5"/>
<polygon points="253.2,622.4 255.1,623.8 254.8,622.0" fill="#4d00ea" stroke="#4d00ea" stroke-width="0.9" stroke-linejoin="round"/>
<polygon points="247.3,618.4 253.2,622.4 254.8,622.0 253.8,616.4" fill="#4900f1" stroke="#4900f1" stroke-width="0.9" stroke-linejoin="round"/>
<polygon points="241.4,614.3 247.3,618.4 253.8,616.4 252.9,610.9" fill="#4400fa" stroke="#4400fa" stroke-width="0.9" stroke-linejoin="round"/>
<polygon points="235.6,610.2 241.4,614.3 252.9,610.9 251.9,605.4" fill="#3704fc" stroke="#3704fc" stroke-width="0.9" stroke-linejoin="round"/>
<polygon points="232.8,608.3 235.6,610.2 251.9,605.4 251.0,600.0 234.7,604.8" fill="#2a08fe" stroke="#2a08fe" stroke-width="0.9" stroke-linejoin="round"/>
<polygon points="251.0,600.0 250.1,594.6 238.3,598.0 234.7,604.8" fill="#200cff" stroke="#200cff" stroke-width="0.9" stroke-linejoin="round"/>
<polygon points="250.1,594.6 249.1,589.3 241.8,591.4 238.3,598.0" fill="#1912ff" stroke="#1912ff" stroke-width="0.9" stroke-linejoin="round"/>
<polygon points="249.1,589.3 248.2,584.0 245.3,584.8 241.8,591.4" fill="#1216ff" stroke="#1216ff" stroke-width="0.9" stroke-linejoin="round"/>
<polygon points="248.2,584.0 247.6,580.5 245.3,584.8" fill="#1022ff" stroke="#1022ff" stroke-width="0.9" stroke-linejoin="round"/>
<line x1="251.4" y1="602.7" x2="232.9" y2="608.2" stroke="#222" stroke-width="0.5"/>
<polygon points="275.4,633.0 277.6,634.0 277.1,632.2" fill="#4a00ca" stroke="#4a00ca" stroke-width="0.9" stroke-linejoin="round"/>
<polygon points="263.2,627.5 275.4,633.0 277.1,632.2 274.4,622.2" fill="#5000db" stroke="#5000db" stroke-width="0.9" stroke-linejoin="round"/>
<polygon points="255.1,623.8 263.2,627.5 274.4,622.2 271.8,612.5 258.8,618.5" fill="#4e00e8" stroke="#4e00e8" stroke-width="0.9" stroke-linejoin="round"/>
<polygon points="271.8,612.5 269.3,603.4 258.8,618.5" fill="#4900f1" stroke="#4900f1" stroke-width="0.9" stroke-linejoin="round"/>
<polygon points="91.5,633.7 112.4,638.8 131.1,619.9" fill="#5000db" stroke="#5000db" stroke-width="0.9" stroke-linejoin="round"/>
<polygon points="133.7,644.0 133.8,643.9 133.7,643.5" fill="#4c00d0" stroke="#4c00d0" stroke-width="0.9" stroke-linejoin="round"/>
<polygon points="133.8,643.9 138.9,636.0 134.5,619.3 131.1,619.9 133.7,643.5" fill="#5000db" stroke="#5000db" stroke-width="0.9" stroke-linejoin="round"/>
<polygon points="138.9,636.0 143.9,628.2 141.1,618.1 134.5,619.3" fill="#4e00e8" stroke="#4e00e8" stroke-width="0.9" stroke-linejoin="round"/>
<polygon points="143.9,628.2 148.9,620.5 147.8,616.9 141.1,618.1" fill="#4900f1" stroke="#4900f1" stroke-width="0.9" stroke-linejoin="round"/>
<polygon points="148.9,620.5 151.6,616.3 147.8,616.9" fill="#4400fa" stroke="#4400fa" stroke-width="0.9" stroke-linejoin="round"/>
<polygon points="123.9,641.6 133.7,644.0 133.7,643.5" fill="#4c00d0" stroke="#4c00d0" stroke-width="0.9" stroke-linejoin="round"/>
<polygon points="112.4,638.8 123.9,641.6 133.7,643.5 131.1,619.9" fill="#5000db" stroke="#5000db" stroke-width="0.9" stroke-linejoin="round"/>
<polygon points="151.6,616.3 153.7,615.5 152.9,614.6" fill="#4300fa" stroke="#4300fa" stroke-width="0.9" stroke-linejoin="round"/>
<polygon points="153.7,615.5 158.5,613.8 155.8,610.9 152.9,614.6" fill="#3704fc" stroke="#3704fc" stroke-width="0.9" stroke-linejoin="round"/>
<polygon points="158.5,613.8 163.3,612.1 158.7,607.1 155.8,610.9" fill="#2a08fe" stroke="#2a08fe" stroke-width="0.9" stroke-linejoin="round"/>
<polygon points="163.3,612.1 168.2,610.4 161.7,603.4 158.7,607.1" fill="#200cff" stroke="#200cff" stroke-width="0.9" stroke-linejoin="round"/>
<polygon points="168.2,610.4 172.6,608.9 172.8,608.4 164.6,599.7 161.7,603.4" fill="#1912ff" stroke="#1912ff" stroke-width="0.9" stroke-linejoin="round"/>
<polygon points="172.8,608.4 174.7,603.5 167.5,595.9 164.6,599.7" fill="#1216ff" stroke="#1216ff" stroke-width="0.9" stroke-linejoin="round"/>
<polygon points="174.7,603.5 176.7,598.7 170.4,592.2 167.5,595.9" fill="#1022ff" stroke="#1022ff" stroke-width="0.9" stroke-linejoin="round"/>
<polygon points="176.7,598.7 178.6,593.9 173.3,588.5 170.4,592.2" fill="#1333ff" stroke="#1333ff" stroke-width="0.9" stroke-linejoin="round"/>
<polygon points="178.6,593.9 180.5,589.1 176.2,584.8 173.3,588.5" fill="#1e55ff" stroke="#1e55ff" stroke-width="0.9" stroke-linejoin="round"/>
<polygon points="180.5,589.1 182.5,584.4 179.1,581.1 176.2,584.8" fill="#3287ff" stroke="#3287ff" stroke-width="0.9" stroke-linejoin="round"/>
<polygon points="182.5,584.4 184.4,579.7 182.0,577.3 179.1,581.1" fill="#3cb4ff" stroke="#3cb4ff" stroke-width="0.9" stroke-linejoin="round"/>
<polygon points="184.4,579.7 186.3,574.9 184.9,573.6 182.0,577.3" fill="#3cdcff" stroke="#3cdcff" stroke-width="0.9" stroke-linejoin="round"/>
<polygon points="186.3,574.9 188.2,570.3 187.8,569.9 184.9,573.6" fill="#4bf4ef" stroke="#4bf4ef" stroke-width="0.9" stroke-linejoin="round"/>
<polygon points="188.2,570.3 188.8,568.6 187.8,569.9" fill="#65fad3" stroke="#65fad3" stroke-width="0.9" stroke-linejoin="round"/>
<line x1="160.9" y1="613.0" x2="157.3" y2="609.0" stroke="#222" stroke-width="0.5"/>
<line x1="180.5" y1="589.1" x2="176.2" y2="584.8" stroke="#222" stroke-width="0.5"/>
<polygon points="172.6,608.9 173.5,608.3 172.8,608.4" fill="#1613ff" stroke="#1613ff" stroke-width="0.9" stroke-linejoin="round"/>
<polygon points="173.5,608.3 182.4,602.6 174.7,603.5 172.8,608.4" fill="#1216ff" stroke="#1216ff" stroke-width="0.9" stroke-linejoin="round"/>
<polygon points="182.4,602.6 191.3,597.0 176.7,598.7 174.7,603.5" fill="#1022ff" stroke="#1022ff" stroke-width="0.9" stroke-linejoin="round"/>
<polygon points="191.3,597.0 200.1,591.5 178.6,593.9 176.7,598.7" fill="#1333ff" stroke="#1333ff" stroke-width="0.9" stroke-linejoin="round"/>
<polygon points="200.1,591.5 208.8,585.9 180.5,589.1 178.6,593.9" fill="#1e55ff" stroke="#1e55ff" stroke-width="0.9" stroke-linejoin="round"/>
<polygon points="208.8,585.9 210.7,584.7 206.5,581.7 182.5,584.4 180.5,589.1" fill="#3287ff" stroke="#3287ff" stroke-width="0.9" stroke-linejoin="round"/>
<polygon points="206.5,581.7 201.2,577.8 184.4,579.7 182.5,584.4" fill="#3cb4ff" stroke="#3cb4ff" stroke-width="0.9" stroke-linejoin="round"/>
<polygon points="201.2,577.8 195.9,573.9 186.3,574.9 184.4,579.7" fill="#3cdcff" stroke="#3cdcff" stroke-width="0.9" stroke-linejoin="round"/>
<polygon points="195.9,573.9 190.7,570.0 188.2,570.3 186.3,574.9" fill="#4bf4ef" stroke="#4bf4ef" stroke-width="0.9" stroke-linejoin="round"/>
<polygon points="190.7,570.0 188.8,568.6 188.2,570.3" fill="#65fad3" stroke="#65fad3" stroke-width="0.9" stroke-linejoin="round"/>
<line x1="208.8" y1="585.9" x2="180.5" y2="589.1" stroke="#222" stroke-width="0.5"/>
<polygon points="221.9,610.4 232.8,608.3 231.1,606.5" fill="#2a08fe" stroke="#2a08fe" stroke-width="0.9" stroke-linejoin="round"/>
<polygon points="200.4,614.5 221.9,610.4 231.1,606.5 227.8,603.0" fill="#200cff" stroke="#200cff" stroke-width="0.9" stroke-linejoin="round"/>
<polygon points="194.6,615.6 200.4,614.5 227.8,603.0 224.5,599.5 197.0,610.9" fill="#1912ff" stroke="#1912ff" stroke-width="0.9" stroke-linejoin="round"/>
<polygon points="224.5,599.5 221.3,596.0 200.3,604.6 197.0,610.9" fill="#1216ff" stroke="#1216ff" stroke-width="0.9" stroke-linejoin="round"/>
<polygon points="221.3,596.0 218.0,592.5 203.6,598.3 200.3,604.6" fill="#1022ff" stroke="#1022ff" stroke-width="0.9" stroke-linejoin="round"/>
<polygon points="218.0,592.5 214.7,589.0 206.8,592.2 203.6,598.3" fill="#1333ff" stroke="#1333ff" stroke-width="0.9" stroke-linejoin="round"/>
<polygon points="214.7,589.0 211.4,585.5 210.0,586.0 206.8,592.2" fill="#1e55ff" stroke="#1e55ff" stroke-width="0.9" stroke-linejoin="round"/>
<polygon points="211.4,585.5 210.7,584.7 210.0,586.0" fill="#2c79ff" stroke="#2c79ff" stroke-width="0.9" stroke-linejoin="round"/>
<line x1="232.4" y1="608.4" x2="232.8" y2="608.2" stroke="#222" stroke-width="0.5"/>
<line x1="211.4" y1="585.5" x2="210.0" y2="586.0" stroke="#222" stroke-width="0.5"/>
<polygon points="230.5,631.2 255.1,623.8 253.2,622.4" fill="#4d00ea" stroke="#4d00ea" stroke-width="0.9" stroke-linejoin="round"/>
<polygon points="217.2,635.2 230.5,631.2 253.2,622.4 247.3,618.4 221.2,628.3" fill="#4900f1" stroke="#4900f1" stroke-width="0.9" stroke-linejoin="round"/>
<polygon points="247.3,618.4 241.4,614.3 226.0,620.1 221.2,628.3" fill="#4400fa" stroke="#4400fa" stroke-width="0.9" stroke-linejoin="round"/>
<polygon points="241.4,614.3 235.6,610.2 230.6,612.1 226.0,620.1" fill="#3704fc" stroke="#3704fc" stroke-width="0.9" stroke-linejoin="round"/>
<polygon points="235.6,610.2 232.8,608.3 230.6,612.1" fill="#2a08fe" stroke="#2a08fe" stroke-width="0.9" stroke-linejoin="round"/>
<polygon points="133.7,644.0 133.8,644.0 133.8,643.9" fill="#4c00d0" stroke="#4c00d0" stroke-width="0.9" stroke-linejoin="round"/>
<polygon points="133.8,644.0 138.7,639.5 138.9,636.0 133.8,643.9" fill="#5000db" stroke="#5000db" stroke-width="0.9" stroke-linejoin="round"/>
<polygon points="138.7,639.5 143.7,635.0 143.9,628.2 138.9,636.0" fill="#4e00e8" stroke="#4e00e8" stroke-width="0.9" stroke-linejoin="round"/>
<polygon points="143.7,635.0 148.6,630.6 148.9,620.5 143.9,628.2" fill="#4900f1" stroke="#4900f1" stroke-width="0.9" stroke-linejoin="round"/>
<polygon points="148.6,630.6 153.5,626.1 153.7,615.5 151.6,616.3 148.9,620.5" fill="#4400fa" stroke="#4400fa" stroke-width="0.9" stroke-linejoin="round"/>
<polygon points="153.5,626.1 158.4,621.7 158.5,613.8 153.7,615.5" fill="#3704fc" stroke="#3704fc" stroke-width="0.9" stroke-linejoin="round"/>
<polygon points="158.4,621.7 163.3,617.2 163.3,612.1 158.5,613.8" fill="#2a08fe" stroke="#2a08fe" stroke-width="0.9" stroke-linejoin="round"/>
<polygon points="163.3,617.2 168.2,612.8 168.2,610.4 163.3,612.1" fill="#200cff" stroke="#200cff" stroke-width="0.9" stroke-linejoin="round"/>
<polygon points="168.2,612.8 172.6,608.9 168.2,610.4" fill="#1912ff" stroke="#1912ff" stroke-width="0.9" stroke-linejoin="round"/>
<line x1="160.9" y1="619.5" x2="160.9" y2="613.0" stroke="#222" stroke-width="0.5"/>
<polygon points="265.8,637.6 277.6,634.0 275.4,633.0" fill="#4a00ca" stroke="#4a00ca" stroke-width="0.9" stroke-linejoin="round"/>
<polygon points="240.0,645.5 265.8,637.6 275.4,633.0 263.2,627.5 247.3,635.0" fill="#5000db" stroke="#5000db" stroke-width="0.9" stroke-linejoin="round"/>
<polygon points="263.2,627.5 255.1,623.8 247.3,635.0" fill="#4e00e8" stroke="#4e00e8" stroke-width="0.9" stroke-linejoin="round"/>
<polygon points="172.6,608.9 194.6,615.6 197.0,610.9 173.5,608.3" fill="#1912ff" stroke="#1912ff" stroke-width="0.9" stroke-linejoin="round"/>
<polygon points="197.0,610.9 200.3,604.6 182.4,602.6 173.5,608.3" fill="#1216ff" stroke="#1216ff" stroke-width="0.9" stroke-linejoin="round"/>
<polygon points="200.3,604.6 203.6,598.3 191.3,597.0 182.4,602.6" fill="#1022ff" stroke="#1022ff" stroke-width="0.9" stroke-linejoin="round"/>
<polygon points="203.6,598.3 206.8,592.2 200.1,591.5 191.3,597.0" fill="#1333ff" stroke="#1333ff" stroke-width="0.9" stroke-linejoin="round"/>
<polygon points="206.8,592.2 210.0,586.0 208.8,585.9 200.1,591.5" fill="#1e55ff" stroke="#1e55ff" stroke-width="0.9" stroke-linejoin="round"/>
<polygon points="210.0,586.0 210.7,584.7 208.8,585.9" fill="#2c79ff" stroke="#2c79ff" stroke-width="0.9" stroke-linejoin="round"/>
<line x1="210.0" y1="586.0" x2="208.8" y2="585.9" stroke="#222" stroke-width="0.5"/>
<polygon points="213.5,632.0 217.2,635.2 221.2,628.3" fill="#4900f1" stroke="#4900f1" stroke-width="0.9" stroke-linejoin="round"/>
<polygon points="209.1,628.1 213.5,632.0 221.2,628.3 226.0,620.1" fill="#4400fa" stroke="#4400fa" stroke-width="0.9" stroke-linejoin="round"/>
<polygon points="204.6,624.3 209.1,628.1 226.0,620.1 230.6,612.1" fill="#3704fc" stroke="#3704fc" stroke-width="0.9" stroke-linejoin="round"/>
<polygon points="200.2,620.4 204.6,624.3 230.6,612.1 232.8,608.3 221.9,610.4" fill="#2a08fe" stroke="#2a08fe" stroke-width="0.9" stroke-linejoin="round"/>
<polygon points="195.7,616.6 200.2,620.4 221.9,610.4 200.4,614.5" fill="#200cff" stroke="#200cff" stroke-width="0.9" stroke-linejoin="round"/>
<polygon points="194.6,615.6 195.7,616.6 200.4,614.5" fill="#1b10ff" stroke="#1b10ff" stroke-width="0.9" stroke-linejoin="round"/>
<line x1="202.4" y1="622.4" x2="232.4" y2="608.4" stroke="#222" stroke-width="0.5"/>
<polygon points="232.1,641.9 240.0,645.5 247.3,635.0" fill="#5000db" stroke="#5000db" stroke-width="0.9" stroke-linejoin="round"/>
<polygon points="219.4,636.1 232.1,641.9 247.3,635.0 255.1,623.8 230.5,631.2" fill="#4e00e8" stroke="#4e00e8" stroke-width="0.9" stroke-linejoin="round"/>
<polygon points="217.2,635.2 219.4,636.1 230.5,631.2" fill="#4b00ee" stroke="#4b00ee" stroke-width="0.9" stroke-linejoin="round"/>
<polygon points="133.7,644.0 155.5,649.7 155.8,649.0 133.8,644.0" fill="#4a00cc" stroke="#4a00cc" stroke-width="0.9" stroke-linejoin="round"/>
<polygon points="155.8,649.0 158.0,643.8 138.7,639.5 133.8,644.0" fill="#5000db" stroke="#5000db" stroke-width="0.9" stroke-linejoin="round"/>
<polygon points="158.0,643.8 160.2,638.7 143.7,635.0 138.7,639.5" fill="#4e00e8" stroke="#4e00e8" stroke-width="0.9" stroke-linejoin="round"/>
<polygon points="160.2,638.7 162.3,633.5 148.6,630.6 143.7,635.0" fill="#4900f1" stroke="#4900f1" stroke-width="0.9" stroke-linejoin="round"/>
<polygon points="162.3,633.5 164.4,628.5 153.5,626.1 148.6,630.6" fill="#4400fa" stroke="#4400fa" stroke-width="0.9" stroke-linejoin="round"/>
<polygon points="164.4,628.5 166.5,623.4 158.4,621.7 153.5,626.1" fill="#3704fc" stroke="#3704fc" stroke-width="0.9" stroke-linejoin="round"/>
<polygon points="166.5,623.4 168.6,618.4 163.3,617.2 158.4,621.7" fill="#2a08fe" stroke="#2a08fe" stroke-width="0.9" stroke-linejoin="round"/>
<polygon points="168.6,618.4 170.7,613.4 168.2,612.8 163.3,617.2" fill="#200cff" stroke="#200cff" stroke-width="0.9" stroke-linejoin="round"/>
<polygon points="170.7,613.4 172.6,608.9 168.2,612.8" fill="#1912ff" stroke="#1912ff" stroke-width="0.9" stroke-linejoin="round"/>
<line x1="167.6" y1="620.9" x2="160.9" y2="619.5" stroke="#222" stroke-width="0.5"/>
<polygon points="256.4,650.4 263.1,652.4 277.6,634.0 265.8,637.6" fill="#4a00ca" stroke="#4a00ca" stroke-width="0.9" stroke-linejoin="round"/>
<polygon points="240.0,645.5 256.4,650.4 265.8,637.6" fill="#5000d9" stroke="#5000d9" stroke-width="0.9" stroke-linejoin="round"/>
<polygon points="177.8,655.9 178.7,653.8 177.6,653.6" fill="#4600c3" stroke="#4600c3" stroke-width="0.9" stroke-linejoin="round"/>
<polygon points="178.7,653.8 180.9,648.4 176.9,647.8 177.6,653.6" fill="#5000db" stroke="#5000db" stroke-width="0.9" stroke-linejoin="round"/>
<polygon points="180.9,648.4 183.2,643.1 176.3,642.0 176.9,647.8" fill="#4e00e8" stroke="#4e00e8" stroke-width="0.9" stroke-linejoin="round"/>
<polygon points="183.2,643.1 185.4,637.8 175.6,636.3 176.3,642.0" fill="#4900f1" stroke="#4900f1" stroke-width="0.9" stroke-linejoin="round"/>
<polygon points="185.4,637.8 187.5,632.5 175.0,630.6 175.6,636.3" fill="#4400fa" stroke="#4400fa" stroke-width="0.9" stroke-linejoin="round"/>
<polygon points="187.5,632.5 189.7,627.3 174.4,625.0 175.0,630.6" fill="#3704fc" stroke="#3704fc" stroke-width="0.9" stroke-linejoin="round"/>
<polygon points="189.7,627.3 191.9,622.1 173.7,619.4 174.4,625.0" fill="#2a08fe" stroke="#2a08fe" stroke-width="0.9" stroke-linejoin="round"/>
<polygon points="191.9,622.1 194.0,616.9 173.1,613.8 173.7,619.4" fill="#200cff" stroke="#200cff" stroke-width="0.9" stroke-linejoin="round"/>
<polygon points="194.0,616.9 194.6,615.6 172.6,608.9 173.1,613.8" fill="#1912ff" stroke="#1912ff" stroke-width="0.9" stroke-linejoin="round"/>
<line x1="190.8" y1="624.7" x2="174.0" y2="622.2" stroke="#222" stroke-width="0.5"/>
<polygon points="155.5,649.7 177.8,655.9 177.6,653.6 155.8,649.0" fill="#4600c3" stroke="#4600c3" stroke-width="0.9" stroke-linejoin="round"/>
<polygon points="177.6,653.6 176.9,647.8 158.0,643.8 155.8,649.0" fill="#5000db" stroke="#5000db" stroke-width="0.9" stroke-linejoin="round"/>
<polygon points="176.9,647.8 176.3,642.0 160.2,638.7 158.0,643.8" fill="#4e00e8" stroke="#4e00e8" stroke-width="0.9" stroke-linejoin="round"/>
<polygon points="176.3,642.0 175.6,636.3 162.3,633.5 160.2,638.7" fill="#4900f1" stroke="#4900f1" stroke-width="0.9" stroke-linejoin="round"/>
<polygon points="175.6,636.3 175.0,630.6 164.4,628.5 162.3,633.5" fill="#4400fa" stroke="#4400fa" stroke-width="0.9" stroke-linejoin="round"/>
<polygon points="175.0,630.6 174.4,625.0 166.5,623.4 164.4,628.5" fill="#3704fc" stroke="#3704fc" stroke-width="0.9" stroke-linejoin="round"/>
<polygon points="174.4,625.0 173.7,619.4 168.6,618.4 166.5,623.4" fill="#2a08fe" stroke="#2a08fe" stroke-width="0.9" stroke-linejoin="round"/>
<polygon points="173.7,619.4 173.1,613.8 170.7,613.4 168.6,618.4" fill="#200cff" stroke="#200cff" stroke-width="0.9" stroke-linejoin="round"/>
<polygon points="173.1,613.8 172.6,608.9 170.7,613.4" fill="#1912ff" stroke="#1912ff" stroke-width="0.9" stroke-linejoin="round"/>
<line x1="174.0" y1="622.2" x2="167.6" y2="620.9" stroke="#222" stroke-width="0.5"/>
<polygon points="200.6,661.5 203.2,657.3 200.3,659.0" fill="#4600c3" stroke="#4600c3" stroke-width="0.9" stroke-linejoin="round"/>
<polygon points="203.2,657.3 209.8,647.0 199.5,652.9 200.3,659.0" fill="#5000db" stroke="#5000db" stroke-width="0.9" stroke-linejoin="round"/>
<polygon points="209.8,647.0 216.1,636.9 198.7,646.8 199.5,652.9" fill="#4e00e8" stroke="#4e00e8" stroke-width="0.9" stroke-linejoin="round"/>
<polygon points="216.1,636.9 217.2,635.2 213.5,632.0 197.9,640.7 198.7,646.8" fill="#4900f1" stroke="#4900f1" stroke-width="0.9" stroke-linejoin="round"/>
<polygon points="213.5,632.0 209.1,628.1 197.1,634.8 197.9,640.7" fill="#4400fa" stroke="#4400fa" stroke-width="0.9" stroke-linejoin="round"/>
<polygon points="209.1,628.1 204.6,624.3 196.3,628.8 197.1,634.8" fill="#3704fc" stroke="#3704fc" stroke-width="0.9" stroke-linejoin="round"/>
<polygon points="204.6,624.3 200.2,620.4 195.5,622.9 196.3,628.8" fill="#2a08fe" stroke="#2a08fe" stroke-width="0.9" stroke-linejoin="round"/>
<polygon points="200.2,620.4 195.7,616.6 194.8,617.1 195.5,622.9" fill="#200cff" stroke="#200cff" stroke-width="0.9" stroke-linejoin="round"/>
<polygon points="195.7,616.6 194.6,615.6 194.8,617.1" fill="#1b10ff" stroke="#1b10ff" stroke-width="0.9" stroke-linejoin="round"/>
<line x1="202.4" y1="622.4" x2="195.9" y2="625.9" stroke="#222" stroke-width="0.5"/>
<polygon points="200.6,661.5 220.9,653.2 203.2,657.3" fill="#4600c3" stroke="#4600c3" stroke-width="0.9" stroke-linejoin="round"/>
<polygon points="220.9,653.2 240.0,645.5 232.1,641.9 209.8,647.0 203.2,657.3" fill="#5000db" stroke="#5000db" stroke-width="0.9" stroke-linejoin="round"/>
<polygon points="232.1,641.9 219.4,636.1 216.1,636.9 209.8,647.0" fill="#4e00e8" stroke="#4e00e8" stroke-width="0.9" stroke-linejoin="round"/>
<polygon points="219.4,636.1 217.2,635.2 216.1,636.9" fill="#4b00ee" stroke="#4b00ee" stroke-width="0.9" stroke-linejoin="round"/>
<polygon points="177.8,655.9 200.6,661.5 200.3,659.0 178.7,653.8" fill="#4600c3" stroke="#4600c3" stroke-width="0.9" stroke-linejoin="round"/>
<polygon points="200.3,659.0 199.5,652.9 180.9,648.4 178.7,653.8" fill="#5000db" stroke="#5000db" stroke-width="0.9" stroke-linejoin="round"/>
<polygon points="199.5,652.9 198.7,646.8 183.2,643.1 180.9,648.4" fill="#4e00e8" stroke="#4e00e8" stroke-width="0.9" stroke-linejoin="round"/>
<polygon points="198.7,646.8 197.9,640.7 185.4,637.8 183.2,643.1" fill="#4900f1" stroke="#4900f1" stroke-width="0.9" stroke-linejoin="round"/>
<polygon points="197.9,640.7 197.1,634.8 187.5,632.5 185.4,637.8" fill="#4400fa" stroke="#4400fa" stroke-width="0.9" stroke-linejoin="round"/>
<polygon points="197.1,634.8 196.3,628.8 189.7,627.3 187.5,632.5" fill="#3704fc" stroke="#3704fc" stroke-width="0.9" stroke-linejoin="round"/>
<polygon points="196.3,628.8 195.5,622.9 191.9,622.1 189.7,627.3" fill="#2a08fe" stroke="#2a08fe" stroke-width="0.9" stroke-linejoin="round"/>
<polygon points="195.5,622.9 194.8,617.1 194.0,616.9 191.9,622.1" fill="#200cff" stroke="#200cff" stroke-width="0.9" stroke-linejoin="round"/>
<polygon points="194.8,617.1 194.6,615.6 194.0,616.9" fill="#1b10ff" stroke="#1b10ff" stroke-width="0.9" stroke-linejoin="round"/>
<line x1="195.9" y1="625.9" x2="190.8" y2="624.7" stroke="#222" stroke-width="0.5"/>
<polygon points="223.9,667.2 263.1,652.4 256.4,650.4 232.2,655.9" fill="#4600c3" stroke="#4600c3" stroke-width="0.9" stroke-linejoin="round"/>
<polygon points="256.4,650.4 240.0,645.5 232.2,655.9" fill="#5000d9" stroke="#5000d9" stroke-width="0.9" stroke-linejoin="round"/>
<polygon points="200.6,661.5 223.9,667.2 232.2,655.9 220.9,653.2" fill="#4600c3" stroke="#4600c3" stroke-width="0.9" stroke-linejoin="round"/>
<polygon points="232.2,655.9 240.0,645.5 220.9,653.2" fill="#5000d9" stroke="#5000d9" stroke-width="0.9" stroke-linejoin="round"/>
<polygon points="223.9,667.2 247.7,673.0 263.1,652.4" fill="#4600c3" stroke="#4600c3" stroke-width="0.9" stroke-linejoin="round"/>
<line x1="58.3" y1="633.6" x2="39.3" y2="424.1" stroke="#000" stroke-width="1"/>
<line x1="58.3" y1="633.6" x2="263.8" y2="684.6" stroke="#000" stroke-width="1"/>
<line x1="263.8" y1="684.6" x2="340.7" y2="580.4" stroke="#000" stroke-width="1"/>
<line x1="58.3" y1="633.6" x2="55.3" y2="634.4" stroke="#000" stroke-width="0.9"/>
<text transform="matrix(0.565 -0.478 0.090 0.996 54.7 641.8)" font-size="15" text-anchor="end" >0</text>
<line x1="55.8" y1="606.1" x2="52.8" y2="606.9" stroke="#000" stroke-width="0.9"/>
<text transform="matrix(0.578 -0.462 0.090 0.996 52.2 614.3)" font-size="15" text-anchor="end" >10</text>
<line x1="53.3" y1="577.8" x2="50.3" y2="578.6" stroke="#000" stroke-width="0.9"/>
<text transform="matrix(0.591 -0.445 0.090 0.996 49.7 586.0)" font-size="15" text-anchor="end" >20</text>
<line x1="50.6" y1="548.7" x2="47.6" y2="549.5" stroke="#000" stroke-width="0.9"/>
<text transform="matrix(0.604 -0.427 0.090 0.996 47.0 556.9)" font-size="15" text-anchor="end" >30</text>
<line x1="47.9" y1="518.8" x2="44.9" y2="519.6" stroke="#000" stroke-width="0.9"/>
<text transform="matrix(0.618 -0.407 0.090 0.996 44.3 527.0)" font-size="15" text-anchor="end" >40</text>
<line x1="45.1" y1="488.1" x2="42.1" y2="488.9" stroke="#000" stroke-width="0.9"/>
<text transform="matrix(0.632 -0.385 0.090 0.996 41.5 496.3)" font-size="15" text-anchor="end" >50</text>
<line x1="42.3" y1="456.5" x2="39.3" y2="457.3" stroke="#000" stroke-width="0.9"/>
<text transform="matrix(0.646 -0.361 0.090 0.996 38.7 464.7)" font-size="15" text-anchor="end" >60</text>
<line x1="39.3" y1="424.1" x2="36.3" y2="424.9" stroke="#000" stroke-width="0.9"/>
<text transform="matrix(0.660 -0.335 0.090 0.996 35.7 432.3)" font-size="15" text-anchor="end" >70</text>
<line x1="71.7" y1="636.9" x2="69.5" y2="640.1" stroke="#000" stroke-width="0.9"/>
<text transform="matrix(0.717 -0.623 0.810 0.496 70.2 640.9)" font-size="12.5" text-anchor="end" >85</text>
<line x1="112.9" y1="647.2" x2="110.7" y2="650.4" stroke="#000" stroke-width="0.9"/>
<text transform="matrix(0.690 -0.653 0.821 0.479 111.4 651.2)" font-size="12.5" text-anchor="end" >100</text>
<line x1="155.9" y1="657.8" x2="153.7" y2="661.0" stroke="#000" stroke-width="0.9"/>
<text transform="matrix(0.658 -0.685 0.832 0.459 154.4 661.8)" font-size="12.5" text-anchor="end" >115</text>
<line x1="200.8" y1="669.0" x2="198.6" y2="672.2" stroke="#000" stroke-width="0.9"/>
<text transform="matrix(0.622 -0.718 0.843 0.437 199.3 673.0)" font-size="12.5" text-anchor="end" >130</text>
<line x1="247.7" y1="680.6" x2="245.5" y2="683.8" stroke="#000" stroke-width="0.9"/>
<text transform="matrix(0.580 -0.753 0.856 0.413 246.2 684.6)" font-size="12.5" text-anchor="end" >145</text>
<line x1="340.7" y1="580.4" x2="344.7" y2="581.6" stroke="#000" stroke-width="0.9"/>
<text transform="matrix(0.982 0.189 -0.376 0.683 345.5 586.7)" font-size="14.5" text-anchor="start" >-15</text>
<line x1="318.2" y1="610.9" x2="322.2" y2="612.1" stroke="#000" stroke-width="0.9"/>
<text transform="matrix(0.979 0.204 -0.379 0.682 323.0 617.2)" font-size="14.5" text-anchor="start" >-16</text>
<line x1="292.8" y1="645.3" x2="296.8" y2="646.5" stroke="#000" stroke-width="0.9"/>
<text transform="matrix(0.975 0.221 -0.383 0.680 297.6 651.6)" font-size="14.5" text-anchor="start" >-17</text>
<line x1="263.8" y1="684.6" x2="267.8" y2="685.8" stroke="#000" stroke-width="0.9"/>
<text transform="matrix(0.971 0.241 -0.387 0.677 268.6 690.9)" font-size="14.5" text-anchor="start" >-18</text>
<text transform="matrix(0.090 0.996 -0.873 0.488 5.8 480.5)" font-size="16" text-anchor="start" >Inverse lifetime (ms<tspan dy="-5" font-size="10">-1</tspan><tspan dy="5">)</tspan></text>
<text transform="matrix(1.019 0.253 -0.502 0.806 70.9 676.2)" font-size="14.5" text-anchor="start" >Frequency (MHz)</text>
<text transform="translate(336.5,662) rotate(-49) scale(0.72,1)" font-size="13.5">Power (dBm)</text>
<defs><linearGradient id="cbar" x1="0" y1="0" x2="0" y2="1"><stop offset="0.000" stop-color="#4b000a"/><stop offset="0.015" stop-color="#560008"/><stop offset="0.030" stop-color="#620007"/><stop offset="0.045" stop-color="#6d0005"/><stop offset="0.061" stop-color="#7a0004"/><stop offset="0.076" stop-color="#860003"/><stop offset="0.091" stop-color="#920001"/><stop offset="0.106" stop-color="#9f0000"/><stop offset="0.121" stop-color="#af0200"/><stop offset="0.136" stop-color="#c10500"/><stop offset="0.152" stop-color="#d20700"/><stop offset="0.167" stop-color="#e30a00"/><stop offset="0.182" stop-color="#eb0c00"/><stop offset="0.197" stop-color="#f10f00"/><stop offset="0.212" stop-color="#f71100"/><stop offset="0.227" stop-color="#fe1300"/><stop offset="0.242" stop-color="#ff1500"/><stop offset="0.258" stop-color="#ff1600"/><stop offset="0.273" stop-color="#ff1700"/><stop offset="0.288" stop-color="#ff1900"/><stop offset="0.303" stop-color="#ff1a00"/><stop offset="0.318" stop-color="#ff1b00"/><stop offset="0.333" stop-color="#ff1c00"/><stop offset="0.348" stop-color="#ff1e00"/><stop offset="0.364" stop-color="#ff2300"/><stop offset="0.379" stop-color="#ff2b00"/><stop offset="0.394" stop-color="#ff3500"/><stop offset="0.409" stop-color="#ff4f00"/><stop offset="0.424" stop-color="#ff6b00"/><stop offset="0.439" stop-color="#ff8a00"/><stop offset="0.455" stop-color="#ffa800"/><stop offset="0.470" stop-color="#ffc700"/><stop offset="0.485" stop-color="#ffe300"/><stop offset="0.500" stop-color="#f9f700"/><stop offset="0.515" stop-color="#eaff00"/><stop offset="0.530" stop-color="#d4ff00"/><stop offset="0.545" stop-color="#bdff00"/><stop offset="0.561" stop-color="#a4ff00"/><stop offset="0.576" stop-color="#8eff00"/><stop offset="0.591" stop-color="#7aff00"/><stop offset="0.606" stop-color="#6aff00"/><stop offset="0.621" stop-color="#60ff00"/><stop offset="0.636" stop-color="#56ff00"/><stop offset="0.652" stop-color="#52ff06"/><stop offset="0.667" stop-color="#58ff17"/><stop offset="0.682" stop-color="#5dff28"/><stop offset="0.697" stop-color="#63ff39"/><stop offset="0.712" stop-color="#6fff80"/><stop offset="0.727" stop-color="#70fdc7"/><stop offset="0.742" stop-color="#52f6e7"/><stop offset="0.758" stop-color="#3ce6ff"/><stop offset="0.773" stop-color="#3cbfff"/><stop offset="0.788" stop-color="#3895ff"/><stop offset="0.803" stop-color="#2464ff"/><stop offset="0.818" stop-color="#1439ff"/><stop offset="0.833" stop-color="#1128ff"/><stop offset="0.848" stop-color="#1018ff"/><stop offset="0.864" stop-color="#1713ff"/><stop offset="0.879" stop-color="#1d0eff"/><stop offset="0.894" stop-color="#240aff"/><stop offset="0.909" stop-color="#3106fd"/><stop offset="0.924" stop-color="#3e02fb"/><stop offset="0.939" stop-color="#4700f5"/><stop offset="0.955" stop-color="#4c00ec"/><stop offset="0.970" stop-color="#4f00e1"/><stop offset="0.985" stop-color="#4c00d0"/><stop offset="1.000" stop-color="#320082"/></linearGradient></defs>
<rect x="395.2" y="392.6" width="9.6" height="200.2" fill="url(#cbar)"/>
<rect x="395.2" y="590.8" width="9.6" height="2" fill="#200018"/>
<text x="407.8" y="396.4" font-size="10.4" style="stroke:none">67</text>
<text x="407.8" y="416.3" font-size="10.4" style="stroke:none">60</text>
<text x="407.8" y="436.2" font-size="10.4" style="stroke:none">54</text>
<text x="407.8" y="456.1" font-size="10.4" style="stroke:none">47</text>
<text x="407.8" y="476.0" font-size="10.4" style="stroke:none">41</text>
<text x="407.8" y="495.9" font-size="10.4" style="stroke:none">34</text>
<text x="407.8" y="515.8" font-size="10.4" style="stroke:none">28</text>
<text x="407.8" y="535.7" font-size="10.4" style="stroke:none">21</text>
<text x="407.8" y="555.6" font-size="10.4" style="stroke:none">15</text>
<text x="407.8" y="575.5" font-size="10.4" style="stroke:none">8</text>
<text x="407.8" y="595.4" font-size="10.4" style="stroke:none">2</text>
</svg>
</body></html>
